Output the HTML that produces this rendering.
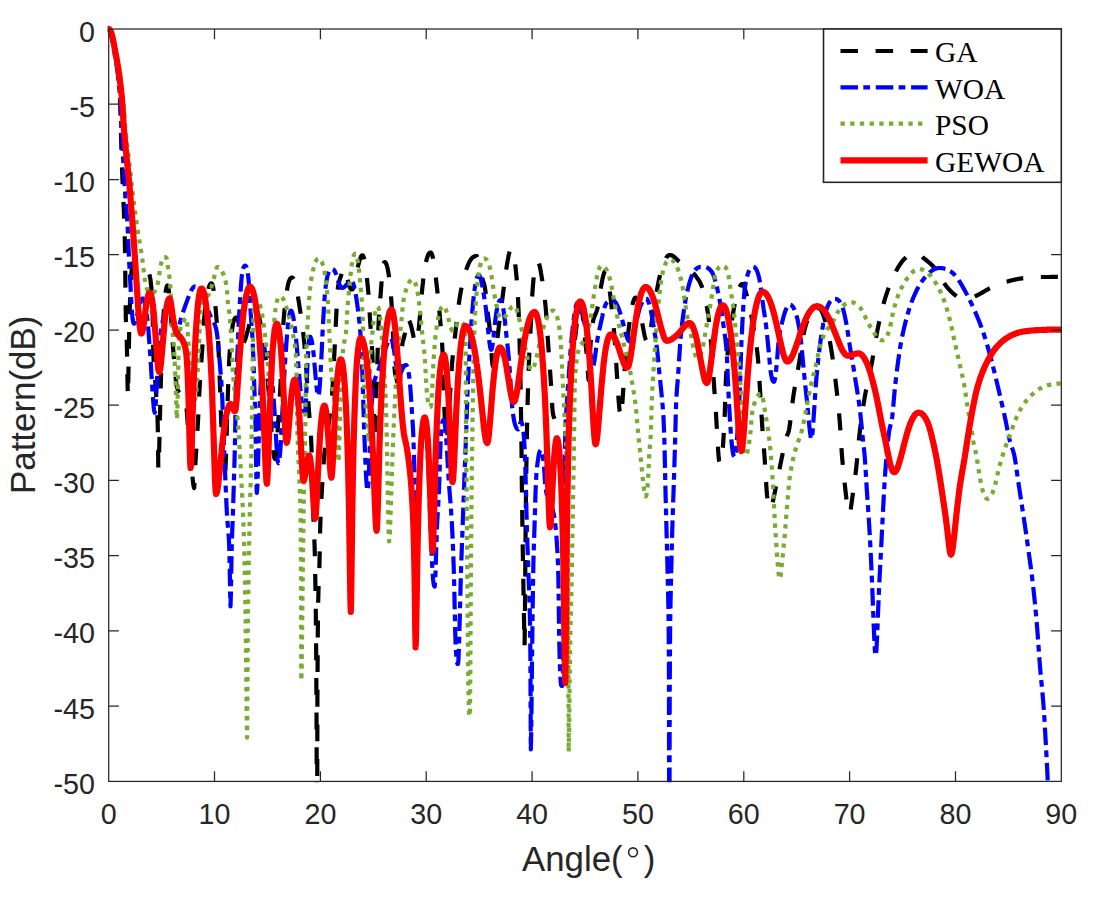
<!DOCTYPE html>
<html><head><meta charset="utf-8"><title>Pattern</title>
<style>html,body{margin:0;padding:0;background:#fff;}body{width:1096px;height:898px;overflow:hidden;font-family:"Liberation Sans",sans-serif;}</style>
</head><body>
<svg width="1096" height="898" viewBox="0 0 1096 898" style="display:block">
<rect x="0" y="0" width="1096" height="898" fill="#ffffff"/>
<defs><clipPath id="cp"><rect x="107.5" y="21.0" width="954.5" height="761.3"/></clipPath></defs>
<g fill="none" stroke-linejoin="round" clip-path="url(#cp)">
<path d="M108.7,29.0 L109.1,29.2 L109.5,29.6 L109.9,30.3 L110.3,31.3 L110.7,32.4 L111.1,33.8 L111.5,35.3 L111.9,37.1 L112.3,38.9 L112.7,40.9 L113.1,43.0 L113.5,45.1 L113.9,47.4 L114.3,49.6 L114.7,51.9 L115.1,54.1 L115.5,56.2 L115.9,58.3 L116.3,60.5 L116.7,62.8 L117.1,65.3 L117.5,68.1 L117.9,71.0 L118.2,74.1 L118.6,77.5 L119.0,81.4 L119.4,86.2 L119.8,92.0 L120.2,99.8 L120.6,113.8 L121.0,132.9" stroke="#000000" stroke-width="4.2" stroke-dasharray="16.90 17.80" stroke-dashoffset="33.41"/>
<path d="M121.0,132.9 L121.4,149.9 L121.8,162.7 L122.2,173.3 L122.6,182.7 L123.0,192.1 L123.4,200.9 L123.8,209.2 L124.2,218.5 L124.6,231.3 L125.0,250.8 L125.4,284.3 L125.8,316.5 L126.2,329.0 L126.6,337.4 L127.0,350.2 L127.4,376.3 L127.8,396.0 L128.2,385.0 L128.6,362.9 L129.0,341.2 L129.4,323.7 L129.7,310.5 L130.1,299.6 L130.5,289.2 L130.9,279.8" stroke="#000000" stroke-width="4.2" stroke-dasharray="16.80 17.70"/>
<path d="M130.9,279.8 L131.3,273.9 L131.7,270.2 L132.1,267.4 L132.5,265.4 L132.8,263.9 L133.2,262.9 L133.6,262.0 L134.0,261.3 L134.4,260.7 L134.8,260.3 L135.2,259.9 L135.6,259.7 L135.9,259.6 L136.3,259.5 L136.7,259.5 L137.1,259.5 L137.5,259.5 L137.9,259.5 L138.3,259.6 L138.7,259.8 L139.1,260.0 L139.5,260.2 L139.9,260.5 L140.2,260.8 L140.6,261.2 L141.0,261.6 L141.4,262.0 L141.8,262.5 L142.2,263.0 L142.6,263.5 L143.0,264.0 L143.4,264.5 L143.8,265.1 L144.2,265.6 L144.6,266.2 L145.0,266.7 L145.3,267.3 L145.7,267.9 L146.1,268.5 L146.5,269.2 L146.9,269.9 L147.3,270.5 L147.7,271.2 L148.1,271.8 L148.5,272.5 L148.9,273.4 L149.3,274.4" stroke="#000000" stroke-width="4.2" stroke-dasharray="20.76 21.86"/>
<path d="M149.3,274.4 L149.7,275.8 L150.1,277.6 L150.5,279.9 L150.8,282.7 L151.2,286.2 L151.6,290.7 L152.0,296.9 L152.4,305.3 L152.8,323.0 L153.2,347.5 L153.6,359.8 L154.0,366.8 L154.4,372.2 L154.8,376.6 L155.2,380.7 L155.6,385.4 L155.9,391.2 L156.3,396.2 L156.7,400.9 L157.1,406.9 L157.5,416.1 L157.9,433.0 L158.3,469.0 L158.7,464.4 L159.1,452.4" stroke="#000000" stroke-width="4.2" stroke-dasharray="17.17 18.09"/>
<path d="M159.1,452.4 L159.5,436.5 L159.9,419.5 L160.3,403.0 L160.7,387.7 L161.1,373.7 L161.5,361.2 L161.9,350.0 L162.3,340.0 L162.7,331.0 L163.1,323.1 L163.5,316.1 L163.9,310.0 L164.3,304.6 L164.7,300.0 L165.1,296.1 L165.5,292.8" stroke="#000000" stroke-width="4.2" stroke-dasharray="15.57 16.40"/>
<path d="M165.5,292.8 L165.9,290.1 L166.3,288.1 L166.7,286.6 L167.1,285.8 L167.5,285.5 L167.9,286.0 L168.3,287.5 L168.7,289.9 L169.1,293.0 L169.5,296.9 L169.9,301.4 L170.3,306.5 L170.7,312.0 L171.1,317.9 L171.5,324.0 L171.9,330.2 L172.3,336.4 L172.7,342.4" stroke="#000000" stroke-width="4.2" stroke-dasharray="15.82 16.66"/>
<path d="M172.7,342.4 L173.1,348.0 L173.5,353.1 L173.9,357.9 L174.3,362.7 L174.7,367.4 L175.1,371.9 L175.5,376.1 L175.9,380.0 L176.3,383.2 L176.7,385.8 L177.1,387.7 L177.5,388.9 L177.9,390.0 L178.3,391.0 L178.7,391.9 L179.1,392.6 L179.5,393.2 L179.9,393.8 L180.3,394.3 L180.7,394.7 L181.0,395.1 L181.4,395.5 L181.8,395.8 L182.2,396.2 L182.6,396.7 L183.0,397.1 L183.4,397.7 L183.8,398.3 L184.2,399.0 L184.6,399.9 L185.0,400.9 L185.4,402.0 L185.8,403.4 L186.2,405.2 L186.6,408.8 L187.0,413.7 L187.4,419.4 L187.8,425.4 L188.2,431.0 L188.6,436.0 L189.0,440.9 L189.4,445.7 L189.8,450.4 L190.2,455.0 L190.6,459.4 L191.0,463.3 L191.4,467.0 L191.8,470.7 L192.2,474.3 L192.6,478.1 L193.0,481.7 L193.4,484.9 L193.8,487.2 L194.2,488.0 L194.6,480.2 L195.0,471.2 L195.4,463.5 L195.8,456.7 L196.2,450.5 L196.6,444.6 L197.0,438.8 L197.3,432.7 L197.7,426.2 L198.1,419.3 L198.5,411.2 L198.9,402.3 L199.3,393.5 L199.7,385.9 L200.1,379.3 L200.5,373.4 L200.9,367.9 L201.3,362.4" stroke="#000000" stroke-width="4.2" stroke-dasharray="16.72 17.61"/>
<path d="M201.3,362.4 L201.7,356.8 L202.1,351.0 L202.5,344.8 L202.8,338.4 L203.2,332.1 L203.6,326.2 L204.0,320.9 L204.4,316.4 L204.8,312.3 L205.2,308.6 L205.6,305.1 L206.0,302.0 L206.4,299.2 L206.8,296.7 L207.2,294.4 L207.6,292.3 L208.0,290.5 L208.4,288.9" stroke="#000000" stroke-width="4.2" stroke-dasharray="17.99 18.95"/>
<path d="M208.4,288.9 L208.7,287.6 L209.1,286.4 L209.5,285.5 L209.9,284.7 L210.3,284.1 L210.7,283.7 L211.1,283.5 L211.5,283.4 L211.9,283.7 L212.3,284.4 L212.7,285.7 L213.1,287.4 L213.5,289.5 L213.8,292.1 L214.2,295.0 L214.6,298.3 L215.0,302.0 L215.4,306.1" stroke="#000000" stroke-width="4.2" stroke-dasharray="14.55 15.33"/>
<path d="M215.4,306.1 L215.8,310.4 L216.2,315.2 L216.6,320.1 L217.0,325.2 L217.4,330.3 L217.8,335.9 L218.2,341.9 L218.5,348.9 L218.9,357.1 L219.3,367.0 L219.7,378.3 L220.1,390.4 L220.5,402.6 L220.9,414.0 L221.3,424.2 L221.7,434.1 L222.1,443.7 L222.5,452.4 L222.8,460.0 L223.2,466.1 L223.6,470.5 L224.0,473.3 L224.4,474.6 L224.8,475.0 L225.2,472.7 L225.6,466.0 L226.0,455.9 L226.4,443.7 L226.8,430.7 L227.1,417.6 L227.5,405.1 L227.9,393.3 L228.3,382.0 L228.7,371.1 L229.1,361.9 L229.5,355.1 L229.9,349.7 L230.3,345.2 L230.7,341.3 L231.0,337.8 L231.4,334.6 L231.8,331.6" stroke="#000000" stroke-width="4.2" stroke-dasharray="16.94 17.84"/>
<path d="M231.8,331.6 L232.2,328.7 L232.6,326.0 L233.0,323.7 L233.4,321.9 L233.8,320.7 L234.2,319.7 L234.6,318.9 L234.9,318.3 L235.3,317.9 L235.7,317.7 L236.1,317.5 L236.5,317.5 L236.9,317.7 L237.3,318.2 L237.6,319.1 L238.0,320.3 L238.4,321.8 L238.8,323.6 L239.2,325.7 L239.6,327.9 L239.9,330.2 L240.3,332.6 L240.7,334.9 L241.1,337.1 L241.5,339.1 L241.9,340.7 L242.2,342.0 L242.6,342.7 L243.0,343.0 L243.4,342.9 L243.8,342.5 L244.2,341.9 L244.6,341.0" stroke="#000000" stroke-width="4.2" stroke-dasharray="21.12 22.25"/>
<path d="M244.6,341.0 L245.0,340.1 L245.4,338.9 L245.8,337.6 L246.1,336.3 L246.5,334.9 L246.9,333.5 L247.3,332.1 L247.7,330.8 L248.1,329.4 L248.5,327.9 L248.9,326.3 L249.3,324.6 L249.7,322.8 L250.1,320.9 L250.5,319.0 L250.9,317.2 L251.2,315.4 L251.6,313.7 L252.0,312.1 L252.4,310.7 L252.8,309.6 L253.2,308.7 L253.6,308.2 L254.0,308.0 L254.4,308.1 L254.8,308.2 L255.2,308.5 L255.6,308.9 L256.0,309.4 L256.4,310.0 L256.8,310.8 L257.2,311.6 L257.6,312.6 L258.0,313.6 L258.4,314.8 L258.8,316.1 L259.2,317.5 L259.5,319.1 L259.9,320.7 L260.3,322.5 L260.7,324.4 L261.1,326.4 L261.5,328.6 L261.9,330.9 L262.3,333.3 L262.7,335.8 L263.1,338.5 L263.5,341.3 L263.9,344.3 L264.3,347.4 L264.7,350.7 L265.1,354.1 L265.5,357.7 L265.9,361.4 L266.3,365.4 L266.7,369.4 L267.1,373.7 L267.5,378.1 L267.9,382.6 L268.3,387.3 L268.7,392.2 L269.1,397.2 L269.5,402.4 L269.8,407.6 L270.2,413.0 L270.6,418.3 L271.0,423.7 L271.4,429.0 L271.8,434.2 L272.2,439.2 L272.6,443.9 L273.0,448.1 L273.4,451.8 L273.8,454.9 L274.2,457.1 L274.6,458.5 L275.0,459.0 L275.4,458.1 L275.8,455.6 L276.2,451.6 L276.6,446.6 L277.0,440.9 L277.4,434.6 L277.8,428.2 L278.2,421.6 L278.6,415.4 L279.0,409.7 L279.3,404.1 L279.7,398.3 L280.1,391.9 L280.5,384.4 L280.9,375.8 L281.3,366.6 L281.7,357.2 L282.1,348.1 L282.5,339.5 L282.9,331.8 L283.3,325.0" stroke="#000000" stroke-width="4.2" stroke-dasharray="17.47 18.40"/>
<path d="M283.3,325.0 L283.7,319.2 L284.1,314.3 L284.5,309.9 L284.9,305.9 L285.3,302.2 L285.7,298.9 L286.1,295.8 L286.5,293.1 L286.9,290.6" stroke="#000000" stroke-width="4.2" stroke-dasharray="16.84 17.74"/>
<path d="M286.9,290.6 L287.3,288.4 L287.7,286.4 L288.0,284.7 L288.4,283.2 L288.8,281.9 L289.2,280.8 L289.6,279.8 L290.0,279.1 L290.4,278.5 L290.8,278.0 L291.2,277.7 L291.6,277.6 L292.0,277.5 L292.4,277.6 L292.8,277.9 L293.2,278.4 L293.6,279.1 L294.0,279.9 L294.4,280.9 L294.8,282.1 L295.2,283.4 L295.6,284.9 L296.0,286.5 L296.4,288.3 L296.8,290.1 L297.2,292.1 L297.6,294.2 L298.0,296.4" stroke="#000000" stroke-width="4.2" stroke-dasharray="17.01 17.92"/>
<path d="M298.0,296.4 L298.3,298.8 L298.7,301.2 L299.1,303.7 L299.5,306.3 L299.9,308.9 L300.3,311.5 L300.7,314.2 L301.1,317.0 L301.5,319.8 L301.9,322.6 L302.3,325.6 L302.7,328.8 L303.1,332.1" stroke="#000000" stroke-width="4.2" stroke-dasharray="17.54 18.48"/>
<path d="M303.1,332.1 L303.5,335.6 L303.9,339.4 L304.3,343.4 L304.7,347.9 L305.1,352.8 L305.5,358.1 L305.9,363.6 L306.3,369.5 L306.7,375.7 L307.1,382.0 L307.5,388.4 L307.9,394.8 L308.3,401.1 L308.7,407.1 L309.1,412.5 L309.5,417.3 L309.9,421.8 L310.3,426.3 L310.7,431.3 L311.0,437.3 L311.4,445.3 L311.8,456.6 L312.2,470.7 L312.6,486.8 L313.0,503.4 L313.4,517.9 L313.8,528.1 L314.2,536.2 L314.6,546.0 L315.0,562.2 L315.4,585.0 L315.8,611.9 L316.2,654.7 L316.6,732.7 L317.0,900.0 L317.4,701.1 L317.8,632.0 L318.2,601.1 L318.6,585.9 L319.0,576.7 L319.4,566.5 L319.8,548.1 L320.2,527.7 L320.6,516.0 L321.0,506.9 L321.4,499.3 L321.8,492.0 L322.2,484.9 L322.6,478.3 L323.0,472.1 L323.4,466.4 L323.8,461.1 L324.2,456.3 L324.6,452.0 L325.0,448.1 L325.4,444.7 L325.8,441.6 L326.2,438.7 L326.6,436.1 L327.0,433.5 L327.4,431.1 L327.8,428.7 L328.2,426.3 L328.6,423.8 L329.0,421.3 L329.4,418.6 L329.8,415.8 L330.2,412.8 L330.6,409.6 L330.9,406.2 L331.3,402.5 L331.7,398.6 L332.1,394.4 L332.5,388.8 L332.9,382.1 L333.3,374.6 L333.7,366.7 L334.1,358.7 L334.5,350.8 L334.9,343.3 L335.3,335.3 L335.7,326.8" stroke="#000000" stroke-width="4.2" stroke-dasharray="16.86 17.76"/>
<path d="M335.7,326.8 L336.1,318.4 L336.5,310.4 L336.9,301.8 L337.3,294.1 L337.7,289.6" stroke="#000000" stroke-width="4.2" stroke-dasharray="18.14 19.11"/>
<path d="M337.7,289.6 L338.1,286.6 L338.5,284.3 L338.9,282.4 L339.3,280.9 L339.7,279.5 L340.1,278.3 L340.5,277.2 L340.9,276.1 L341.3,274.9 L341.7,273.8 L342.1,272.6 L342.5,271.6 L342.9,270.7 L343.3,270.0 L343.7,269.5 L344.1,269.1 L344.5,269.0 L344.9,269.3 L345.3,270.0 L345.7,271.2 L346.1,272.6 L346.5,274.3 L346.9,276.1 L347.3,278.0 L347.7,279.7" stroke="#000000" stroke-width="4.2" stroke-dasharray="16.26 17.12"/>
<path d="M347.7,279.7 L348.1,281.4 L348.4,283.0 L348.8,284.4 L349.2,285.7 L349.6,286.9 L350.0,287.8 L350.4,288.5 L350.8,289.0 L351.2,289.3 L351.6,289.5 L352.0,289.5 L352.4,289.4 L352.8,288.9 L353.2,288.2 L353.6,287.2 L353.9,285.9 L354.3,284.5 L354.7,282.9 L355.1,281.1 L355.5,279.2 L355.9,277.3 L356.3,275.3 L356.7,273.3 L357.1,271.3 L357.4,269.3 L357.8,267.4" stroke="#000000" stroke-width="4.2" stroke-dasharray="16.72 17.61"/>
<path d="M357.8,267.4 L358.2,265.6 L358.6,264.0 L359.0,262.4 L359.4,261.0 L359.8,259.7 L360.2,258.5 L360.6,257.6 L360.9,256.8 L361.3,256.1 L361.7,255.7 L362.1,255.4 L362.5,255.3 L362.9,255.5 L363.3,256.2 L363.7,257.2 L364.1,258.7 L364.5,260.5 L364.9,262.6 L365.3,265.1 L365.7,267.8 L366.1,270.9 L366.5,274.3 L366.9,278.0" stroke="#000000" stroke-width="4.2" stroke-dasharray="17.88 18.83"/>
<path d="M366.9,278.0 L367.3,281.8 L367.7,285.8 L368.1,290.0 L368.5,294.6 L368.8,299.9 L369.2,305.9 L369.6,312.4" stroke="#000000" stroke-width="4.2" stroke-dasharray="16.83 17.72"/>
<path d="M369.6,312.4 L370.0,318.9 L370.4,324.9 L370.8,330.3 L371.2,335.4 L371.6,340.8 L372.0,347.1 L372.4,355.1 L372.8,365.7 L373.2,379.5 L373.6,396.4 L374.0,415.3 L374.4,432.4 L374.8,440.0 L375.2,433.7 L375.6,419.6 L376.0,404.2 L376.4,390.9 L376.8,380.2 L377.2,369.6 L377.5,356.9 L377.9,342.8 L378.3,330.3" stroke="#000000" stroke-width="4.2" stroke-dasharray="16.52 17.40"/>
<path d="M378.3,330.3 L378.7,321.3 L379.1,314.4 L379.5,308.6 L379.9,303.4 L380.3,298.4" stroke="#000000" stroke-width="4.2" stroke-dasharray="15.60 16.43"/>
<path d="M380.3,298.4 L380.7,293.3 L381.1,288.1 L381.5,283.2 L381.9,278.7 L382.2,274.7 L382.6,271.1 L383.0,268.0 L383.4,265.5 L383.8,263.6" stroke="#000000" stroke-width="4.2" stroke-dasharray="17.04 17.94"/>
<path d="M383.8,263.6 L384.2,262.4 L384.6,262.0 L385.0,262.1 L385.4,262.4 L385.8,262.9 L386.2,263.7 L386.6,264.7 L387.0,266.0 L387.4,267.5 L387.8,269.3 L388.2,271.5 L388.6,273.9 L389.0,276.7 L389.4,279.8 L389.8,283.3 L390.2,287.3 L390.6,291.6 L391.0,296.3" stroke="#000000" stroke-width="4.2" stroke-dasharray="18.15 19.12"/>
<path d="M391.0,296.3 L391.4,301.5 L391.8,307.3 L392.1,314.6 L392.5,323.0 L392.9,332.5 L393.3,342.3 L393.7,351.9 L394.1,360.4 L394.5,367.2 L394.9,371.8 L395.3,374.3 L395.7,376.1 L396.1,377.5 L396.5,378.9 L396.9,380.6 L397.3,382.7 L397.7,385.0 L398.1,387.2 L398.5,389.2 L398.9,390.5 L399.3,391.0 L399.7,387.9 L400.1,380.6 L400.5,372.3 L400.9,364.3 L401.3,356.7 L401.7,350.5 L402.1,346.1" stroke="#000000" stroke-width="4.2" stroke-dasharray="17.10 18.01"/>
<path d="M402.1,346.1 L402.5,343.3 L402.9,341.4 L403.3,340.0 L403.6,338.7 L404.0,337.4 L404.4,335.8 L404.8,333.8 L405.2,331.5 L405.6,329.2 L406.0,326.9 L406.4,324.7 L406.8,322.8 L407.2,321.3 L407.6,320.3 L408.0,320.0 L408.4,320.1 L408.8,320.4 L409.2,320.8" stroke="#000000" stroke-width="4.2" stroke-dasharray="13.80 14.54"/>
<path d="M409.2,320.8 L409.6,321.5 L409.9,322.3 L410.3,323.3 L410.7,324.6 L411.1,325.9 L411.5,327.5 L411.9,329.2 L412.3,330.9 L412.7,332.8 L413.1,334.6 L413.5,336.5 L413.9,338.2 L414.2,339.8 L414.6,341.1 L415.0,342.1 L415.4,342.8 L415.8,343.0 L416.2,342.8 L416.6,342.1 L417.0,340.9 L417.4,339.1 L417.8,336.8 L418.2,334.0 L418.5,330.8" stroke="#000000" stroke-width="4.2" stroke-dasharray="17.57 18.51"/>
<path d="M418.5,330.8 L418.9,327.2 L419.3,323.2 L419.7,318.9 L420.1,314.2 L420.5,309.2 L420.9,304.1 L421.3,299.2 L421.7,294.5" stroke="#000000" stroke-width="4.2" stroke-dasharray="17.74 18.68"/>
<path d="M421.7,294.5 L422.1,290.3 L422.5,286.4 L422.9,282.9 L423.2,279.5 L423.6,276.4 L424.0,273.5 L424.4,270.8 L424.8,268.3 L425.2,266.0 L425.6,263.9 L426.0,262.0" stroke="#000000" stroke-width="4.2" stroke-dasharray="15.98 16.83"/>
<path d="M426.0,262.0 L426.4,260.3 L426.8,258.8 L427.2,257.5 L427.6,256.4 L428.0,255.4 L428.3,254.6 L428.7,253.9 L429.1,253.4 L429.5,253.0 L429.9,252.7 L430.3,252.6 L430.7,252.5 L431.1,252.7 L431.5,253.2 L431.9,254.1 L432.3,255.4 L432.7,256.9 L433.1,258.7 L433.4,260.7 L433.8,263.0 L434.2,265.5 L434.6,268.2 L435.0,271.2 L435.4,274.3 L435.8,277.5" stroke="#000000" stroke-width="4.2" stroke-dasharray="17.99 18.95"/>
<path d="M435.8,277.5 L436.2,280.9 L436.6,284.4 L437.0,288.0 L437.4,291.6 L437.8,295.2 L438.2,298.9 L438.6,302.7 L438.9,306.5 L439.3,310.6" stroke="#000000" stroke-width="4.2" stroke-dasharray="16.19 17.05"/>
<path d="M439.3,310.6 L439.7,314.8 L440.1,319.3 L440.5,323.9 L440.9,328.3 L441.3,332.8 L441.7,337.7 L442.1,343.5 L442.5,350.6 L442.9,361.0 L443.3,374.7 L443.7,387.8 L444.1,398.5 L444.4,408.6 L444.8,417.8 L445.2,425.4 L445.6,431.1 L446.0,434.7 L446.4,436.5 L446.8,437.0 L447.2,435.9 L447.6,432.8 L448.0,428.2 L448.4,422.4 L448.8,415.9 L449.2,409.1 L449.6,402.3 L450.0,395.5 L450.4,388.9 L450.8,382.6 L451.2,376.7 L451.6,371.1" stroke="#000000" stroke-width="4.2" stroke-dasharray="15.66 16.50"/>
<path d="M451.6,371.1 L451.9,365.9 L452.3,361.0 L452.7,356.7 L453.1,352.7 L453.5,349.0 L453.9,345.4 L454.3,342.0 L454.7,338.6" stroke="#000000" stroke-width="4.2" stroke-dasharray="15.89 16.74"/>
<path d="M454.7,338.6 L455.1,335.2 L455.5,331.8 L455.9,328.2 L456.3,324.7 L456.7,321.2 L457.1,317.7 L457.5,314.3 L457.9,311.0 L458.3,307.8 L458.7,304.8" stroke="#000000" stroke-width="4.2" stroke-dasharray="16.61 17.49"/>
<path d="M458.7,304.8 L459.1,301.9 L459.5,299.1 L459.9,296.6 L460.3,294.2 L460.7,292.0 L461.1,289.9 L461.5,287.9 L461.8,286.0 L462.2,284.2 L462.6,282.5 L463.0,280.9 L463.4,279.3 L463.8,277.8 L464.2,276.4 L464.6,275.0 L465.0,273.6 L465.4,272.3 L465.8,271.1 L466.2,269.9" stroke="#000000" stroke-width="4.2" stroke-dasharray="17.40 18.33"/>
<path d="M466.2,269.9 L466.6,268.7 L467.0,267.6 L467.4,266.5 L467.8,265.5 L468.2,264.5 L468.6,263.6 L469.0,262.7 L469.4,261.9 L469.8,261.2 L470.2,260.5 L470.6,259.9 L471.0,259.4 L471.4,258.9 L471.7,258.4 L472.1,258.0 L472.5,257.6 L472.9,257.3 L473.3,257.0 L473.7,256.8 L474.1,256.6 L474.5,256.4 L474.9,256.2 L475.3,256.1 L475.7,256.1 L476.1,256.0 L476.5,256.0 L476.9,256.2 L477.3,256.8 L477.7,257.7 L478.1,258.9 L478.5,260.4 L478.9,262.1 L479.3,264.0 L479.7,265.9 L480.1,268.0 L480.5,270.0 L480.9,272.1 L481.3,274.1 L481.7,276.0 L482.1,277.7" stroke="#000000" stroke-width="4.2" stroke-dasharray="19.95 21.01"/>
<path d="M482.1,277.7 L482.5,279.2 L482.9,280.5 L483.3,281.7 L483.7,282.8 L484.1,284.1 L484.5,285.5 L484.8,287.2 L485.2,289.5 L485.6,292.4 L486.0,296.0 L486.4,300.0 L486.8,304.1 L487.2,308.1 L487.6,311.7" stroke="#000000" stroke-width="4.2" stroke-dasharray="16.85 17.75"/>
<path d="M487.6,311.7 L488.0,314.9 L488.4,317.9 L488.8,320.9 L489.2,324.3 L489.6,328.3 L490.0,332.7 L490.4,337.7 L490.8,343.1 L491.2,348.7 L491.6,354.5 L492.0,360.1 L492.4,364.3 L492.8,366.0 L493.2,365.7 L493.6,364.9 L494.0,363.6 L494.4,361.9 L494.8,359.7 L495.2,357.2 L495.6,354.5 L495.9,351.4 L496.3,348.2 L496.7,344.9 L497.1,341.4 L497.5,337.9" stroke="#000000" stroke-width="4.2" stroke-dasharray="20.26 21.34"/>
<path d="M497.5,337.9 L497.9,334.4 L498.3,330.9 L498.7,327.5 L499.1,324.2 L499.5,321.0 L499.9,317.9 L500.3,314.9 L500.7,311.9 L501.1,308.9 L501.5,306.0 L501.9,303.0" stroke="#000000" stroke-width="4.2" stroke-dasharray="17.17 18.08"/>
<path d="M501.9,303.0 L502.2,299.9 L502.6,296.9 L503.0,293.7 L503.4,290.6 L503.8,287.4 L504.2,284.3 L504.6,281.2 L505.0,278.1 L505.4,275.2 L505.8,272.3 L506.2,269.6" stroke="#000000" stroke-width="4.2" stroke-dasharray="16.39 17.27"/>
<path d="M506.2,269.6 L506.6,267.0 L507.0,264.5 L507.4,262.1 L507.8,259.9 L508.2,257.9 L508.5,256.0 L508.9,254.3 L509.3,252.7 L509.7,251.4 L510.1,250.4 L510.5,249.6 L510.9,249.2 L511.3,249.0 L511.7,249.1 L512.1,249.6 L512.5,250.3 L512.9,251.4 L513.3,252.7 L513.6,254.4 L514.0,256.3 L514.4,258.7 L514.8,261.3 L515.2,264.4" stroke="#000000" stroke-width="4.2" stroke-dasharray="18.36 19.34"/>
<path d="M515.2,264.4 L515.6,267.8 L516.0,271.6 L516.4,275.8 L516.8,280.3 L517.2,285.3 L517.6,290.9 L518.0,297.2" stroke="#000000" stroke-width="4.2" stroke-dasharray="16.07 16.93"/>
<path d="M518.0,297.2 L518.3,304.8 L518.7,313.9 L519.1,325.2 L519.5,338.4" stroke="#000000" stroke-width="4.2" stroke-dasharray="20.06 21.13"/>
<path d="M519.5,338.4 L519.9,353.6 L520.3,371.6 L520.7,393.0 L521.1,418.1 L521.5,448.0 L521.9,488.9 L522.3,518.4 L522.6,541.1 L523.0,562.3 L523.4,586.0 L523.8,607.4 L524.2,629.6 L524.6,646.3 L525.0,607.3 L525.4,552.5 L525.8,509.9 L526.2,477.2 L526.6,451.1 L527.0,429.7 L527.4,411.6 L527.8,396.1 L528.2,382.6 L528.6,370.8" stroke="#000000" stroke-width="4.2" stroke-dasharray="16.72 17.61"/>
<path d="M528.6,370.8 L529.0,360.4 L529.4,351.3 L529.8,343.5 L530.2,336.2 L530.6,328.9 L531.0,320.9 L531.4,312.4 L531.8,304.0 L532.2,296.5" stroke="#000000" stroke-width="4.2" stroke-dasharray="18.12 19.09"/>
<path d="M532.2,296.5 L532.6,290.1 L533.0,284.8 L533.4,280.3 L533.8,276.3 L534.2,272.8 L534.6,269.8 L535.0,267.4 L535.4,265.3 L535.8,263.7 L536.2,262.5 L536.6,261.7 L537.0,261.2 L537.4,261.0 L537.8,261.2 L538.2,261.7 L538.6,262.5 L539.0,263.6" stroke="#000000" stroke-width="4.2" stroke-dasharray="19.19 20.21"/>
<path d="M539.0,263.6 L539.4,264.9 L539.8,266.5 L540.2,268.3 L540.6,270.3 L540.9,272.4 L541.3,274.6 L541.7,277.0 L542.1,279.4 L542.5,281.9 L542.9,284.5 L543.3,287.2 L543.7,290.1 L544.1,293.2 L544.5,296.4 L544.9,299.9" stroke="#000000" stroke-width="4.2" stroke-dasharray="17.97 18.92"/>
<path d="M544.9,299.9 L545.3,303.8 L545.7,308.0 L546.1,312.7 L546.5,318.0 L546.9,323.7 L547.2,329.7 L547.6,335.8" stroke="#000000" stroke-width="4.2" stroke-dasharray="17.51 18.45"/>
<path d="M547.6,335.8 L548.0,341.7 L548.4,347.4 L548.8,353.0 L549.2,358.5 L549.6,364.1 L550.0,369.7" stroke="#000000" stroke-width="4.2" stroke-dasharray="16.55 17.43"/>
<path d="M550.0,369.7 L550.4,375.5 L550.8,381.7 L551.2,388.7 L551.6,395.9 L552.0,402.8 L552.4,408.6 L552.8,412.4 L553.2,414.5 L553.5,416.0 L553.9,417.1 L554.3,418.2 L554.7,419.7 L555.1,421.8 L555.5,425.2 L555.9,429.6 L556.3,434.2 L556.7,438.2 L557.1,441.2 L557.5,443.7 L557.9,446.0 L558.3,448.1 L558.7,450.2 L559.1,452.4 L559.5,454.7 L559.8,457.2 L560.2,459.6 L560.6,461.9 L561.0,464.1 L561.4,466.0 L561.8,467.6 L562.2,468.9 L562.6,469.7 L563.0,470.0 L563.4,469.7 L563.8,468.8 L564.2,467.5 L564.6,465.8 L565.0,463.8 L565.4,461.6 L565.8,459.3 L566.2,456.8 L566.6,454.4 L567.0,452.4 L567.4,450.6 L567.8,448.5 L568.2,445.8 L568.6,441.4 L569.0,433.1 L569.4,422.2 L569.8,410.5 L570.2,399.3 L570.6,386.8 L571.0,375.8 L571.4,368.6 L571.8,363.8 L572.2,360.1 L572.6,356.9 L573.0,353.9 L573.4,350.8 L573.8,347.5 L574.2,344.5 L574.6,341.5 L575.0,338.5 L575.4,335.4 L575.8,332.2 L576.2,328.8 L576.6,325.3 L577.0,321.9 L577.4,318.8 L577.8,316.0 L578.2,313.5 L578.6,311.5 L579.0,309.9 L579.4,308.5 L579.8,307.4 L580.2,306.6 L580.6,306.2 L581.0,306.0 L581.4,306.6 L581.8,308.1 L582.2,310.6 L582.5,313.7 L582.9,317.5 L583.3,321.6 L583.7,325.9 L584.1,330.3 L584.5,334.6 L584.9,338.5 L585.2,341.8 L585.6,344.8 L586.0,347.8 L586.4,351.2 L586.8,355.2 L587.2,360.2 L587.5,366.5 L587.9,372.9 L588.3,378.0 L588.7,380.0 L589.1,376.0 L589.5,366.4 L589.9,356.1 L590.3,348.3 L590.7,342.1 L591.1,336.8 L591.5,332.3 L591.9,328.5 L592.3,325.4 L592.7,323.0" stroke="#000000" stroke-width="4.2" stroke-dasharray="16.20 17.07"/>
<path d="M592.7,323.0 L593.1,321.0 L593.5,319.4 L593.9,318.0 L594.3,316.8 L594.7,315.8 L595.1,314.9 L595.5,313.9 L595.9,313.0 L596.3,312.0 L596.7,310.9 L597.1,309.6 L597.5,308.1 L597.9,306.4 L598.3,304.3 L598.7,301.9 L599.1,299.4 L599.5,296.7 L599.9,294.0 L600.3,291.3 L600.7,288.7" stroke="#000000" stroke-width="4.2" stroke-dasharray="17.23 18.15"/>
<path d="M600.7,288.7 L601.1,286.2 L601.5,284.0 L601.9,281.9 L602.3,279.9 L602.7,278.0 L603.1,276.3 L603.5,274.8 L603.9,273.5 L604.3,272.4 L604.7,271.7 L605.1,271.2 L605.5,271.0 L605.9,271.2 L606.3,271.8 L606.7,272.8 L607.1,274.2 L607.5,275.8 L607.9,277.8 L608.3,280.1 L608.7,282.6 L609.1,285.3 L609.4,288.3 L609.8,291.4" stroke="#000000" stroke-width="4.2" stroke-dasharray="19.36 20.40"/>
<path d="M609.8,291.4 L610.2,294.8 L610.6,298.2 L611.0,301.7 L611.4,305.2 L611.8,308.8 L612.2,312.3 L612.6,316.0 L613.0,319.8 L613.4,323.9 L613.8,328.2" stroke="#000000" stroke-width="4.2" stroke-dasharray="18.03 18.99"/>
<path d="M613.8,328.2 L614.2,333.0 L614.6,338.3 L615.0,344.1 L615.4,350.1 L615.8,356.5 L616.2,362.9" stroke="#000000" stroke-width="4.2" stroke-dasharray="16.93 17.83"/>
<path d="M616.2,362.9 L616.6,369.3 L617.0,375.5 L617.3,381.7 L617.7,387.6 L618.1,393.3 L618.5,398.7 L618.9,403.5 L619.3,407.8 L619.7,411.3 L620.1,413.9 L620.5,415.5 L620.9,416.0 L621.3,414.8 L621.7,411.4 L622.1,406.6 L622.5,401.0 L622.9,395.0 L623.3,389.0 L623.7,383.1 L624.1,377.4 L624.5,372.0 L624.9,366.7 L625.3,361.9 L625.7,357.4 L626.1,353.2 L626.5,349.2 L626.9,345.5 L627.3,341.9 L627.7,338.4" stroke="#000000" stroke-width="4.2" stroke-dasharray="16.00 16.85"/>
<path d="M627.7,338.4 L628.1,334.9 L628.4,331.4 L628.8,328.0 L629.2,324.8 L629.6,321.7 L630.0,318.8 L630.4,316.0 L630.8,313.4 L631.2,311.0 L631.6,308.8 L632.0,306.8 L632.4,304.9" stroke="#000000" stroke-width="4.2" stroke-dasharray="16.47 17.35"/>
<path d="M632.4,304.9 L632.8,303.3 L633.2,301.8 L633.6,300.6 L634.0,299.5 L634.4,298.7 L634.8,298.1 L635.2,297.7 L635.6,297.6 L636.0,297.7 L636.4,298.1 L636.8,298.6 L637.2,299.4 L637.6,300.4 L638.0,301.5 L638.4,302.9 L638.8,304.4 L639.2,306.1 L639.6,307.9 L640.0,309.8 L640.4,311.9 L640.8,314.1 L641.2,316.3 L641.5,318.6 L641.9,320.9 L642.3,323.3" stroke="#000000" stroke-width="4.2" stroke-dasharray="17.13 18.04"/>
<path d="M642.3,323.3 L642.7,325.6 L643.1,327.9 L643.5,330.1 L643.9,332.2 L644.3,334.1 L644.7,335.9 L645.1,337.5 L645.5,338.8 L645.9,340.0 L646.3,340.9 L646.7,341.5 L647.1,341.9 L647.5,342.0 L647.9,341.8 L648.3,341.1 L648.7,339.9 L649.1,338.4 L649.5,336.6 L649.9,334.4 L650.3,332.1 L650.7,329.6 L651.1,326.9" stroke="#000000" stroke-width="4.2" stroke-dasharray="17.28 18.19"/>
<path d="M651.1,326.9 L651.4,324.2 L651.8,321.5 L652.2,318.7 L652.6,316.0 L653.0,313.3 L653.4,310.7 L653.8,308.2 L654.2,305.6 L654.6,303.2 L655.0,300.8 L655.4,298.5 L655.8,296.2 L656.2,294.0 L656.6,291.9" stroke="#000000" stroke-width="4.2" stroke-dasharray="17.29 18.21"/>
<path d="M656.6,291.9 L657.0,289.8 L657.4,287.7 L657.8,285.7 L658.2,283.7 L658.6,281.8 L658.9,279.9 L659.3,278.1 L659.7,276.4 L660.1,274.8 L660.5,273.2 L660.9,271.7 L661.3,270.2 L661.7,268.8 L662.1,267.5 L662.5,266.3 L662.9,265.1 L663.3,264.0 L663.7,262.9 L664.1,262.0 L664.5,261.0 L664.9,260.2 L665.3,259.4 L665.7,258.7 L666.1,258.1" stroke="#000000" stroke-width="4.2" stroke-dasharray="17.18 18.09"/>
<path d="M666.1,258.1 L666.4,257.5 L666.8,256.9 L667.2,256.5 L667.6,256.1 L668.0,255.8 L668.4,255.5 L668.8,255.3 L669.2,255.1 L669.6,255.0 L670.0,255.0 L670.4,255.0 L670.8,255.1 L671.2,255.2 L671.6,255.3 L672.0,255.5 L672.4,255.7 L672.8,255.9 L673.2,256.2 L673.6,256.4 L674.0,256.8 L674.4,257.1 L674.8,257.4 L675.2,257.8 L675.6,258.2 L676.0,258.6 L676.4,259.0 L676.8,259.4 L677.2,259.8 L677.6,260.1 L678.0,260.5 L678.4,260.9 L678.8,261.2 L679.2,261.6 L679.6,261.9 L680.0,262.2 L680.4,262.6 L680.8,262.9 L681.2,263.2 L681.6,263.6 L682.0,263.9 L682.4,264.2 L682.8,264.5 L683.2,264.8 L683.6,265.1 L684.0,265.5 L684.4,265.8 L684.8,266.1 L685.2,266.4 L685.6,266.7 L686.0,267.0 L686.4,267.3 L686.8,267.6 L687.2,267.9 L687.6,268.2 L688.0,268.5 L688.4,268.8 L688.8,269.1 L689.2,269.4 L689.6,269.7 L690.0,270.0 L690.4,270.4 L690.8,270.7 L691.2,271.1 L691.6,271.4 L692.0,271.8 L692.4,272.2 L692.8,272.6 L693.2,273.0" stroke="#000000" stroke-width="4.2" stroke-dasharray="16.94 17.84"/>
<path d="M693.2,273.0 L693.6,273.4 L694.0,273.9 L694.4,274.3 L694.8,274.8 L695.1,275.3 L695.5,275.8 L695.9,276.3 L696.3,276.8 L696.7,277.3 L697.1,277.9 L697.5,278.4 L697.9,279.0 L698.3,279.6 L698.7,280.2 L699.1,280.8 L699.5,281.5 L699.9,282.2 L700.3,283.0 L700.7,283.9 L701.1,284.8 L701.5,285.7 L701.9,286.8 L702.3,287.9 L702.7,289.1 L703.1,290.4 L703.5,291.7 L703.9,293.2 L704.3,294.7 L704.7,296.3 L705.1,298.0 L705.5,299.9 L705.9,301.8 L706.3,303.8 L706.7,306.0" stroke="#000000" stroke-width="4.2" stroke-dasharray="17.65 18.59"/>
<path d="M706.7,306.0 L707.1,308.2 L707.5,310.6 L707.9,313.1 L708.3,315.8 L708.7,318.9 L709.1,322.4 L709.5,326.2 L709.9,330.2 L710.3,334.6 L710.7,339.2" stroke="#000000" stroke-width="4.2" stroke-dasharray="16.31 17.18"/>
<path d="M710.7,339.2 L711.1,343.9 L711.5,348.8 L711.9,353.9 L712.3,359.4 L712.7,365.2 L713.1,371.1 L713.5,377.2" stroke="#000000" stroke-width="4.2" stroke-dasharray="18.55 19.54"/>
<path d="M713.5,377.2 L713.9,383.2 L714.3,389.0 L714.7,394.6 L715.1,400.3 L715.5,406.1 L715.9,412.2 L716.3,418.8 L716.7,425.8 L717.1,432.9 L717.5,439.9 L717.9,446.7" stroke="#000000" stroke-width="4.2" stroke-dasharray="16.95 17.86"/>
<path d="M717.9,446.7 L718.3,452.7 L718.7,457.6 L719.1,460.8 L719.5,462.0 L719.9,462.0 L720.3,461.9 L720.7,461.7 L721.1,461.0 L721.5,459.6 L721.9,457.4 L722.3,454.2 L722.7,449.8 L723.1,444.4 L723.5,438.0 L723.9,430.9 L724.3,423.3 L724.7,415.2 L725.1,402.7 L725.5,389.4 L725.9,380.0 L726.3,372.5 L726.7,366.1 L727.1,360.4 L727.5,355.4" stroke="#000000" stroke-width="4.2" stroke-dasharray="15.03 15.83"/>
<path d="M727.5,355.4 L727.9,350.8 L728.3,346.5 L728.7,342.7 L729.1,339.2 L729.5,336.0 L729.9,333.1 L730.3,330.3 L730.7,327.7 L731.1,325.2 L731.5,322.7 L731.9,320.3" stroke="#000000" stroke-width="4.2" stroke-dasharray="17.22 18.13"/>
<path d="M731.9,320.3 L732.3,317.9 L732.7,315.5 L733.1,313.1 L733.5,310.8 L733.9,308.5 L734.3,306.4 L734.7,304.3 L735.1,302.3 L735.5,300.5 L735.9,298.7 L736.3,297.0 L736.7,295.4 L737.1,293.9 L737.5,292.5 L737.9,291.2 L738.3,290.0 L738.7,288.9 L739.1,287.9 L739.5,287.0" stroke="#000000" stroke-width="4.2" stroke-dasharray="16.67 17.56"/>
<path d="M739.5,287.0 L739.9,286.2 L740.3,285.6 L740.7,285.0 L741.1,284.6 L741.5,284.3 L741.9,284.1 L742.3,284.0 L742.7,284.1 L743.1,284.5 L743.5,285.1 L743.9,286.0 L744.3,287.0 L744.7,288.2 L745.1,289.5 L745.5,290.9 L745.9,292.3 L746.3,293.8 L746.7,295.3 L747.1,296.8 L747.5,298.4 L747.9,300.1 L748.3,301.8 L748.7,303.5 L749.1,305.3 L749.5,307.1 L749.9,308.9 L750.3,310.8 L750.7,312.7 L751.1,314.7" stroke="#000000" stroke-width="4.2" stroke-dasharray="17.80 18.74"/>
<path d="M751.1,314.7 L751.5,316.7 L751.9,318.8 L752.3,321.0 L752.7,323.2 L753.1,325.6 L753.5,327.9 L753.9,330.2 L754.3,332.5 L754.7,334.7 L755.1,337.0 L755.5,339.4 L755.9,341.8 L756.3,344.5 L756.7,347.3" stroke="#000000" stroke-width="4.2" stroke-dasharray="16.14 17.00"/>
<path d="M756.7,347.3 L757.1,350.5 L757.5,354.0 L757.9,357.9 L758.3,362.8 L758.7,368.4 L759.1,374.8 L759.5,381.4 L759.9,388.1 L760.3,394.5 L760.7,400.9 L761.1,407.5 L761.5,414.1 L761.9,420.7 L762.3,427.0 L762.7,432.9 L763.1,438.4 L763.5,443.5 L763.9,448.5 L764.3,453.7 L764.7,459.1 L765.1,465.1 L765.5,471.8 L765.9,478.7 L766.3,485.3 L766.7,491.1 L767.1,495.8 L767.5,499.3 L767.9,502.2 L768.3,504.4 L768.7,506.1 L769.1,507.2 L769.5,507.9 L769.9,508.2 L770.3,508.3 L770.7,508.1 L771.1,507.5 L771.5,506.6 L771.9,505.3 L772.3,503.8 L772.7,502.2 L773.1,500.4 L773.5,498.6 L773.9,496.8 L774.3,494.8 L774.7,492.9 L775.1,490.9 L775.5,488.8 L775.9,486.8 L776.3,484.8 L776.7,482.8 L777.1,480.8 L777.5,478.8 L777.9,476.8 L778.3,474.8 L778.7,472.8 L779.1,470.9 L779.5,468.9 L779.9,467.0 L780.3,465.0 L780.7,463.0 L781.1,461.1 L781.5,459.1 L781.9,457.2 L782.3,455.3 L782.7,453.4 L783.1,451.6 L783.5,449.7 L783.9,448.0 L784.3,446.2 L784.7,444.5 L785.1,442.9 L785.5,441.3 L785.9,439.8 L786.3,438.4 L786.7,437.0 L787.1,435.7 L787.5,434.5 L787.9,433.6 L788.3,432.6 L788.7,431.3 L789.1,429.5 L789.5,427.1 L789.9,424.4 L790.3,421.3 L790.7,418.0 L791.1,414.6 L791.5,411.1 L791.9,407.7 L792.3,404.3 L792.7,401.1 L793.1,398.1 L793.5,395.3 L793.9,392.7 L794.3,390.3 L794.7,387.8 L795.1,385.5 L795.5,383.2 L795.9,381.0 L796.3,378.7 L796.7,376.5 L797.1,374.3 L797.5,372.1 L797.9,369.8" stroke="#000000" stroke-width="4.2" stroke-dasharray="16.44 17.32"/>
<path d="M797.9,369.8 L798.3,367.5 L798.7,365.2 L799.1,362.9 L799.5,360.5 L799.9,357.9 L800.3,355.3 L800.7,352.6 L801.1,349.9 L801.5,347.2 L801.9,344.5 L802.3,342.0 L802.7,339.5 L803.1,337.1 L803.5,334.9" stroke="#000000" stroke-width="4.2" stroke-dasharray="17.21 18.12"/>
<path d="M803.5,334.9 L803.9,332.9 L804.3,331.0 L804.7,329.2 L805.1,327.7 L805.5,326.2 L805.9,324.9 L806.3,323.6 L806.7,322.4 L807.1,321.2 L807.5,320.1 L807.9,319.1 L808.3,318.1 L808.7,317.1 L809.1,316.3 L809.5,315.5 L809.9,314.7 L810.3,314.0 L810.7,313.3 L811.1,312.7 L811.5,312.1 L811.9,311.6 L812.3,311.1 L812.7,310.6 L813.1,310.2 L813.5,309.9 L813.9,309.5 L814.3,309.2 L814.7,309.0 L815.1,308.8 L815.5,308.6 L815.9,308.4 L816.3,308.3" stroke="#000000" stroke-width="4.2" stroke-dasharray="14.90 15.70"/>
<path d="M816.3,308.3 L816.7,308.2 L817.1,308.1 L817.5,308.0 L817.9,308.0 L818.3,308.0 L818.7,308.0 L819.1,308.2 L819.5,308.4 L819.9,308.8 L820.3,309.2 L820.7,309.7 L821.1,310.3 L821.5,311.0 L821.9,311.8 L822.3,312.6 L822.7,313.5 L823.1,314.5 L823.5,315.6 L823.8,316.7 L824.2,317.9 L824.6,319.2 L825.0,320.5 L825.4,321.9 L825.8,323.3 L826.2,324.8 L826.6,326.4 L827.0,328.0 L827.4,329.7 L827.8,331.4 L828.2,333.2 L828.6,335.1 L829.0,337.0 L829.4,339.0 L829.8,341.1" stroke="#000000" stroke-width="4.2" stroke-dasharray="18.46 19.44"/>
<path d="M829.8,341.1 L830.2,343.3 L830.6,345.5 L831.0,347.8 L831.4,350.3 L831.8,352.8 L832.2,355.3 L832.6,358.0 L833.0,360.7 L833.4,363.5 L833.8,366.4 L834.1,369.4 L834.5,372.5 L834.9,375.6 L835.3,378.9" stroke="#000000" stroke-width="4.2" stroke-dasharray="18.59 19.58"/>
<path d="M835.3,378.9 L835.7,382.2 L836.1,385.7 L836.5,389.1 L836.9,392.6 L837.3,396.2 L837.7,399.8 L838.1,403.6 L838.5,407.5 L838.9,411.7 L839.3,416.2 L839.7,421.0 L840.1,426.5 L840.5,432.6 L840.9,439.1 L841.3,445.6 L841.7,451.6 L842.1,456.9 L842.5,461.6 L842.9,465.9 L843.3,469.9 L843.7,473.8 L844.1,477.4 L844.4,481.0 L844.8,484.6 L845.2,488.1 L845.6,491.8 L846.0,495.3 L846.4,498.6 L846.8,501.7 L847.2,504.5 L847.6,507.0 L848.0,509.1 L848.4,510.8 L848.8,512.0 L849.2,512.7 L849.6,513.0 L850.0,512.5 L850.4,510.9 L850.8,508.6 L851.2,505.8 L851.6,502.9 L852.0,499.9 L852.4,497.0 L852.8,494.1 L853.2,491.2 L853.6,488.4 L854.0,485.6 L854.4,482.7 L854.8,479.8 L855.2,476.7 L855.6,473.4 L856.0,469.9 L856.4,466.2 L856.8,462.1 L857.2,457.9 L857.6,453.5 L858.0,449.2 L858.4,444.9 L858.8,440.8 L859.2,437.0 L859.6,433.5 L860.0,430.1 L860.4,426.8 L860.8,423.6 L861.2,420.6 L861.6,417.6 L862.0,414.7 L862.4,411.9 L862.8,409.2 L863.2,406.6 L863.6,404.1 L864.0,401.6 L864.4,399.1 L864.8,396.8 L865.2,394.6 L865.6,392.4 L866.0,390.4 L866.4,388.4 L866.8,386.6 L867.2,384.7 L867.6,382.9 L868.0,381.1 L868.4,379.3 L868.8,377.6 L869.2,375.8 L869.6,373.9 L870.0,372.1" stroke="#000000" stroke-width="4.2" stroke-dasharray="16.91 17.81"/>
<path d="M870.0,372.1 L870.4,370.2 L870.8,368.2 L871.2,366.2 L871.6,364.2 L872.0,362.0 L872.4,359.8 L872.8,357.4 L873.2,355.0 L873.6,352.5 L874.0,350.0 L874.4,347.5 L874.8,345.1 L875.2,342.6 L875.6,340.2 L876.0,337.9" stroke="#000000" stroke-width="4.2" stroke-dasharray="16.91 17.81"/>
<path d="M876.0,337.9 L876.4,335.6 L876.8,333.4 L877.2,331.3 L877.6,329.3 L878.0,327.4 L878.4,325.5 L878.8,323.6 L879.2,321.8 L879.6,320.0 L880.0,318.3 L880.4,316.5 L880.8,314.9 L881.2,313.2 L881.6,311.6 L882.0,310.0 L882.3,308.5 L882.7,307.0 L883.1,305.5 L883.5,304.0" stroke="#000000" stroke-width="4.2" stroke-dasharray="16.90 17.80"/>
<path d="M883.5,304.0 L883.9,302.6 L884.3,301.2 L884.7,299.9 L885.1,298.5 L885.5,297.2 L885.9,295.9 L886.3,294.7 L886.7,293.5 L887.1,292.3 L887.5,291.1 L887.9,290.0 L888.3,288.8 L888.7,287.7 L889.1,286.7 L889.5,285.6 L889.9,284.6 L890.3,283.6 L890.7,282.6 L891.1,281.6 L891.5,280.7 L891.9,279.7 L892.3,278.8 L892.7,277.9 L893.1,277.1 L893.5,276.2 L893.9,275.4 L894.3,274.5 L894.7,273.7 L895.1,272.9 L895.5,272.1 L895.9,271.4" stroke="#000000" stroke-width="4.2" stroke-dasharray="17.05 17.96"/>
<path d="M895.9,271.4 L896.3,270.6 L896.7,269.9 L897.1,269.2 L897.5,268.5 L897.9,267.8 L898.3,267.1 L898.7,266.5 L899.1,265.8 L899.5,265.2 L899.9,264.6 L900.3,264.0 L900.7,263.5 L901.1,262.9 L901.5,262.4 L901.9,261.8 L902.3,261.3 L902.7,260.8 L903.1,260.3 L903.5,259.9 L903.9,259.4 L904.3,259.0 L904.7,258.6 L905.1,258.2 L905.5,257.8 L905.9,257.4 L906.3,257.0 L906.7,256.7 L907.1,256.3 L907.5,256.0 L907.9,255.7 L908.3,255.4 L908.7,255.2 L909.1,254.9 L909.5,254.7 L909.9,254.5 L910.3,254.3 L910.7,254.1 L911.1,253.9 L911.5,253.8 L911.9,253.7 L912.3,253.5 L912.7,253.5 L913.1,253.4 L913.5,253.3 L913.9,253.3 L914.3,253.3 L914.7,253.3 L915.1,253.3 L915.5,253.4 L915.9,253.5 L916.3,253.6 L916.7,253.7 L917.1,253.9 L917.5,254.0 L917.9,254.2 L918.3,254.4 L918.7,254.6 L919.1,254.8 L919.5,255.1 L919.9,255.3 L920.3,255.6 L920.7,255.9 L921.1,256.1 L921.5,256.4 L921.9,256.7 L922.3,257.0" stroke="#000000" stroke-width="4.2" stroke-dasharray="17.41 18.34"/>
<path d="M922.3,257.0 L922.6,257.3 L923.0,257.6 L923.4,258.0 L923.8,258.3 L924.2,258.6 L924.6,258.9 L925.0,259.2 L925.4,259.5 L925.8,259.8 L926.2,260.1 L926.6,260.5 L927.0,260.8 L927.4,261.1 L927.8,261.4 L928.2,261.8 L928.6,262.1 L929.0,262.4 L929.4,262.8 L929.8,263.1 L930.2,263.5 L930.6,263.8 L931.0,264.2 L931.4,264.6 L931.8,265.0 L932.2,265.4 L932.6,265.8 L933.0,266.2 L933.4,266.7 L933.8,267.1 L934.2,267.6 L934.6,268.1 L935.0,268.6 L935.4,269.1 L935.8,269.7 L936.2,270.3 L936.6,270.9 L937.0,271.5 L937.4,272.1 L937.8,272.7 L938.2,273.4 L938.6,274.0 L939.0,274.7 L939.3,275.3 L939.7,276.0 L940.1,276.7 L940.5,277.4 L940.9,278.0 L941.3,278.7 L941.7,279.4 L942.1,280.0 L942.5,280.7 L942.9,281.3 L943.3,282.0 L943.7,282.6 L944.1,283.2" stroke="#000000" stroke-width="4.2" stroke-dasharray="16.79 17.68"/>
<path d="M944.1,283.2 L944.5,283.8 L944.9,284.3 L945.3,284.9 L945.7,285.4 L946.1,285.9 L946.5,286.5 L946.9,287.0 L947.3,287.4 L947.7,287.9 L948.1,288.4 L948.5,288.8 L948.9,289.3 L949.3,289.7 L949.7,290.1 L950.1,290.6 L950.5,291.0 L950.9,291.4 L951.3,291.7 L951.7,292.1 L952.1,292.5 L952.5,292.9 L952.9,293.2 L953.3,293.6 L953.7,293.9 L954.1,294.2 L954.5,294.5 L954.9,294.9 L955.3,295.2 L955.7,295.5 L956.0,295.7 L956.4,296.0 L956.8,296.3 L957.2,296.6 L957.6,296.8 L958.0,297.0 L958.4,297.3 L958.8,297.5 L959.2,297.7 L959.6,297.8 L960.0,298.0 L960.4,298.2 L960.8,298.3 L961.2,298.4 L961.6,298.5 L962.0,298.6 L962.4,298.7 L962.8,298.7 L963.2,298.8 L963.6,298.8 L964.0,298.8 L964.4,298.8 L964.8,298.8 L965.2,298.8 L965.6,298.7 L966.0,298.7 L966.4,298.7 L966.8,298.6 L967.2,298.6 L967.6,298.5 L968.0,298.4 L968.4,298.4 L968.8,298.3 L969.2,298.2 L969.6,298.1 L970.0,298.0 L970.4,297.9 L970.8,297.8 L971.2,297.7 L971.6,297.6 L972.0,297.4 L972.4,297.3 L972.8,297.2 L973.2,297.0 L973.6,296.9 L974.0,296.7 L974.4,296.6 L974.8,296.4" stroke="#000000" stroke-width="4.2" stroke-dasharray="18.11 19.07"/>
<path d="M974.8,296.4 L975.2,296.2 L975.6,296.1 L976.0,295.9 L976.4,295.7 L976.8,295.5 L977.2,295.3 L977.6,295.1 L978.0,294.9 L978.4,294.7 L978.8,294.5 L979.2,294.3 L979.6,294.1 L980.0,293.9 L980.4,293.6 L980.8,293.4 L981.2,293.2 L981.6,293.0 L982.0,292.7 L982.4,292.5 L982.8,292.3 L983.2,292.0 L983.6,291.8 L984.0,291.6 L984.4,291.3 L984.8,291.1 L985.2,290.9 L985.6,290.6 L986.0,290.4 L986.4,290.2 L986.8,289.9 L987.2,289.7 L987.6,289.5 L988.0,289.3 L988.4,289.1 L988.7,288.8 L989.1,288.6 L989.5,288.4 L989.9,288.2 L990.3,288.0 L990.7,287.8 L991.1,287.6 L991.5,287.4 L991.9,287.3 L992.3,287.1 L992.7,286.9 L993.1,286.7 L993.5,286.5 L993.9,286.4 L994.3,286.2 L994.7,286.0 L995.1,285.8 L995.5,285.7 L995.9,285.5 L996.3,285.3 L996.7,285.2 L997.1,285.0 L997.5,284.9 L997.9,284.7 L998.3,284.5 L998.7,284.4 L999.1,284.2 L999.5,284.1 L999.9,283.9 L1000.3,283.8 L1000.7,283.7 L1001.1,283.5 L1001.5,283.4 L1001.9,283.2 L1002.3,283.1 L1002.7,283.0 L1003.1,282.8 L1003.5,282.7 L1003.9,282.6 L1004.3,282.5 L1004.7,282.3 L1005.1,282.2 L1005.5,282.1 L1005.9,282.0 L1006.3,281.8 L1006.7,281.7" stroke="#000000" stroke-width="4.2" stroke-dasharray="17.17 18.08"/>
<path d="M1006.7,281.7 L1007.1,281.6 L1007.5,281.5 L1007.9,281.4 L1008.3,281.3 L1008.7,281.2 L1009.1,281.0 L1009.5,280.9 L1009.9,280.8 L1010.3,280.7 L1010.7,280.6 L1011.1,280.5 L1011.5,280.4 L1011.9,280.3 L1012.3,280.2 L1012.7,280.1 L1013.1,280.0 L1013.5,279.9 L1013.9,279.8 L1014.3,279.7 L1014.7,279.7 L1015.1,279.6 L1015.5,279.5 L1015.9,279.4 L1016.3,279.3 L1016.7,279.2 L1017.1,279.2 L1017.5,279.1 L1017.9,279.0 L1018.3,278.9 L1018.7,278.9 L1019.1,278.8 L1019.5,278.7 L1019.9,278.7 L1020.3,278.6 L1020.7,278.6 L1021.1,278.5 L1021.5,278.4 L1021.9,278.4 L1022.3,278.3 L1022.7,278.3 L1023.1,278.2 L1023.5,278.2 L1023.9,278.1 L1024.3,278.1 L1024.7,278.1 L1025.1,278.0 L1025.5,278.0 L1025.9,277.9 L1026.3,277.9 L1026.7,277.8 L1027.1,277.8 L1027.5,277.7 L1027.9,277.7 L1028.3,277.7 L1028.7,277.6 L1029.1,277.6 L1029.5,277.6 L1029.9,277.5 L1030.3,277.5 L1030.7,277.5 L1031.1,277.4 L1031.5,277.4 L1031.9,277.4 L1032.3,277.3 L1032.7,277.3 L1033.1,277.3 L1033.5,277.3 L1033.9,277.2 L1034.3,277.2 L1034.7,277.2 L1035.1,277.2 L1035.5,277.2 L1035.9,277.1 L1036.3,277.1 L1036.7,277.1 L1037.1,277.1 L1037.4,277.1 L1037.8,277.1 L1038.2,277.1 L1038.6,277.0 L1039.0,277.0 L1039.4,277.0 L1039.8,277.0 L1040.2,277.0 L1040.6,277.0 L1041.0,277.0" stroke="#000000" stroke-width="4.2" stroke-dasharray="16.93 17.84"/>
<path d="M1041.0,277.0 L1041.4,277.0 L1041.8,277.0 L1042.2,277.0 L1042.6,277.0 L1043.0,277.0 L1043.4,277.0 L1043.8,277.0 L1044.2,277.0 L1044.6,277.0 L1045.0,277.0 L1045.4,277.0 L1045.8,277.0 L1046.2,277.0 L1046.6,277.0 L1047.0,277.0 L1047.4,277.0 L1047.8,277.0 L1048.2,277.0 L1048.6,277.0 L1049.0,277.0 L1049.4,277.0 L1049.8,277.0 L1050.2,277.0 L1050.6,276.9 L1051.0,276.9 L1051.4,276.9 L1051.8,276.9 L1052.2,276.9 L1052.6,276.9 L1053.0,276.9 L1053.4,276.9 L1053.8,276.9 L1054.2,276.9 L1054.6,276.9 L1055.0,276.9 L1055.4,276.9 L1055.8,276.9 L1056.2,276.9 L1056.6,276.9 L1057.0,276.9 L1057.4,276.9 L1057.8,276.9 L1058.2,276.9 L1058.6,276.9 L1059.0,276.9 L1059.4,276.8 L1059.8,276.8 L1060.2,276.8 L1060.6,276.8 L1061.0,276.8 L1061.4,276.8" stroke="#000000" stroke-width="4.2" stroke-dasharray="16.90 17.80"/>
<path d="M108.7,29.0 L109.1,29.2 L109.5,29.7 L109.9,30.4 L110.3,31.5 L110.7,32.8 L111.1,34.3 L111.5,36.0 L111.9,37.8 L112.3,39.8 L112.7,42.0 L113.0,44.2 L113.4,46.5 L113.8,48.8 L114.2,51.2 L114.6,53.5 L115.0,55.7 L115.4,57.9 L115.8,60.1 L116.2,62.4 L116.6,64.9 L117.0,67.7 L117.4,70.7 L117.8,73.9 L118.2,77.4 L118.6,81.1 L119.0,85.4 L119.4,90.1 L119.8,95.4 L120.2,101.6 L120.6,109.4 L121.0,119.1 L121.3,128.0 L121.7,135.2 L122.1,141.8 L122.5,148.1 L122.9,154.6 L123.3,161.6 L123.7,168.8 L124.1,176.2 L124.5,183.4 L124.9,190.1 L125.3,196.0 L125.7,201.2 L126.1,206.1 L126.5,210.9 L126.9,215.9 L127.3,221.6 L127.7,228.4 L128.1,237.3 L128.5,247.5 L128.9,257.1 L129.3,264.6 L129.7,270.7 L130.0,276.7 L130.4,283.7 L130.8,291.8 L131.2,300.0 L131.6,306.9 L132.0,312.3 L132.4,316.7 L132.8,320.0 L133.2,322.2 L133.6,323.4 L134.0,323.7 L134.4,323.5 L134.8,323.1 L135.2,322.3 L135.5,321.3 L135.9,320.0 L136.3,318.6 L136.7,317.0 L137.1,315.3 L137.5,313.5 L137.9,311.7 L138.2,309.9 L138.6,308.1 L139.0,306.5 L139.4,304.9 L139.8,303.5 L140.2,302.2 L140.6,301.1 L141.0,300.2 L141.3,299.5 L141.7,298.9 L142.1,298.6 L142.5,298.5 L142.9,298.6 L143.3,299.1 L143.7,299.7 L144.1,300.7 L144.5,302.0 L144.9,303.5 L145.3,305.4 L145.7,307.5 L146.1,309.9 L146.5,312.6 L146.9,315.7 L147.3,319.0 L147.7,322.7 L148.1,326.7 L148.5,331.0 L148.8,335.7 L149.2,340.7 L149.6,346.0 L150.0,351.6 L150.4,357.5 L150.8,363.7 L151.2,370.1 L151.6,376.6 L152.0,383.1 L152.4,389.6 L152.8,395.7 L153.2,401.2 L153.6,406.0 L154.0,409.6 L154.4,411.9 L154.8,412.7 L155.2,410.9 L155.6,406.2 L156.0,399.7 L156.4,392.5 L156.8,385.3 L157.1,378.6 L157.5,372.3 L157.9,366.1 L158.3,359.9 L158.7,353.8 L159.1,348.2 L159.5,343.2 L159.9,339.2 L160.3,335.7 L160.7,332.7 L161.1,330.0 L161.5,327.5 L161.8,325.3 L162.2,323.3 L162.6,321.4 L163.0,319.7 L163.4,318.2 L163.8,316.8 L164.2,315.6 L164.6,314.4 L165.0,313.3 L165.4,312.2 L165.8,311.1 L166.2,310.1 L166.5,309.1 L166.9,308.3 L167.3,307.5 L167.7,307.0 L168.1,306.6 L168.5,306.5 L168.9,306.7 L169.3,307.4 L169.7,308.4 L170.0,309.7 L170.4,311.2 L170.8,312.9 L171.2,314.6 L171.6,316.4 L172.0,318.1 L172.4,319.7 L172.8,321.2 L173.1,322.7 L173.5,324.1 L173.9,325.6 L174.3,327.2 L174.7,328.7 L175.1,330.3 L175.5,331.6 L175.8,332.8 L176.2,333.7 L176.6,334.3 L177.0,334.5 L177.4,334.1 L177.8,333.0 L178.2,331.4 L178.6,329.5 L179.0,327.4 L179.4,325.4 L179.8,323.6 L180.2,321.9 L180.6,320.3 L181.0,318.9 L181.4,317.6 L181.8,316.3 L182.2,315.1 L182.6,313.8 L183.0,312.5 L183.4,311.2 L183.8,309.9 L184.2,308.7 L184.6,307.6 L185.0,306.5 L185.4,305.4 L185.8,304.3 L186.2,303.2 L186.6,302.1 L187.0,301.0 L187.4,299.9 L187.8,298.8 L188.2,297.7 L188.6,296.6 L189.0,295.6 L189.4,294.6 L189.8,293.6 L190.2,292.6 L190.6,291.8 L191.0,290.9 L191.4,290.1 L191.8,289.4 L192.2,288.8 L192.6,288.2 L193.0,287.7 L193.4,287.3 L193.8,286.9 L194.2,286.7 L194.6,286.6 L195.0,286.5 L195.4,286.5 L195.8,286.6 L196.2,286.8 L196.6,287.0 L197.0,287.3 L197.4,287.7 L197.8,288.1 L198.2,288.5 L198.6,289.0 L199.0,289.6 L199.4,290.2 L199.8,290.8 L200.2,291.5 L200.6,292.2 L201.0,292.9 L201.4,293.7 L201.8,294.5 L202.2,295.4 L202.6,296.3 L203.0,297.2 L203.4,298.1 L203.8,299.1 L204.2,300.0 L204.6,301.0 L205.0,302.0 L205.4,303.0 L205.8,304.1 L206.2,305.1 L206.6,306.1 L207.0,307.2 L207.4,308.2 L207.8,309.3 L208.2,310.3 L208.6,311.4 L209.0,312.4 L209.4,313.4 L209.8,314.4 L210.2,315.2 L210.6,316.1 L211.0,316.9 L211.4,317.6 L211.8,318.3 L212.2,319.0 L212.6,319.7 L212.9,320.5 L213.3,321.2 L213.7,322.0 L214.1,322.9 L214.5,323.9 L214.9,324.9 L215.3,326.1 L215.7,327.4 L216.1,328.9 L216.5,330.7 L216.9,333.1 L217.3,336.1 L217.7,339.6 L218.1,343.6 L218.5,348.0 L218.9,352.6 L219.3,357.4 L219.7,362.2 L220.1,366.8 L220.5,371.5 L220.9,376.3 L221.3,381.6 L221.7,387.5 L222.1,394.5 L222.5,403.7 L222.9,415.7 L223.3,427.8 L223.7,438.2 L224.1,448.4 L224.5,458.4 L224.9,468.2 L225.3,477.7 L225.7,487.2 L226.1,496.6 L226.5,505.4 L226.9,513.2 L227.3,519.3 L227.7,524.1 L228.1,528.4 L228.5,533.2 L228.9,539.6 L229.3,548.7 L229.7,566.6 L230.1,592.3 L230.5,606.5 L230.9,593.5 L231.3,569.5 L231.7,548.9 L232.1,535.0 L232.5,524.5 L232.9,513.5 L233.3,501.2 L233.7,488.5 L234.1,474.7 L234.5,461.4 L234.9,446.1 L235.3,425.2 L235.7,393.1 L236.1,379.3 L236.5,370.0 L236.9,362.7 L237.3,355.6 L237.7,347.5 L238.0,338.7 L238.4,330.2 L238.8,322.0 L239.2,314.2 L239.6,307.0 L240.0,300.4 L240.4,294.0 L240.8,288.0 L241.2,282.6 L241.6,278.1 L242.0,274.6 L242.4,272.0 L242.8,270.0 L243.2,268.5 L243.6,267.3 L244.0,266.5 L244.4,266.0 L244.8,265.7 L245.2,265.6 L245.6,265.7 L246.0,266.2 L246.4,267.0 L246.7,268.2 L247.1,269.8 L247.5,271.8 L247.9,274.3 L248.3,277.3 L248.7,281.1 L249.1,285.9 L249.5,291.7 L249.8,298.2 L250.2,305.0 L250.6,311.6 L251.0,317.6 L251.4,323.0 L251.8,328.3 L252.2,333.8 L252.5,339.9 L252.9,347.2 L253.3,356.6 L253.7,368.3 L254.1,380.7 L254.5,391.8 L254.9,402.0 L255.3,414.1 L255.6,433.0 L256.0,458.3 L256.4,481.8 L256.8,493.0 L257.2,489.4 L257.6,479.8 L258.0,466.7 L258.4,452.4 L258.8,438.4 L259.1,425.4 L259.5,413.4 L259.9,402.6 L260.3,393.0 L260.7,384.4 L261.1,376.9 L261.5,370.3 L261.9,364.6 L262.3,359.8 L262.7,355.7 L263.0,352.3 L263.4,349.6 L263.8,347.5 L264.2,346.1 L264.6,345.3 L265.0,345.0 L265.4,345.1 L265.8,345.3 L266.2,345.8 L266.6,346.4 L267.0,347.2 L267.4,348.3 L267.8,349.5 L268.2,351.0 L268.5,352.6 L268.9,354.6 L269.3,356.7 L269.7,359.2 L270.1,361.8 L270.5,364.8 L270.9,368.1 L271.3,371.6 L271.7,375.5 L272.1,379.6 L272.5,384.1 L272.9,388.9 L273.3,394.1 L273.7,399.5 L274.1,405.3 L274.5,411.4 L274.9,417.7 L275.2,424.1 L275.6,430.7 L276.0,437.3 L276.4,443.8 L276.8,449.9 L277.2,455.3 L277.6,459.5 L278.0,462.3 L278.4,463.2 L278.8,462.7 L279.2,461.0 L279.6,458.2 L280.0,454.2 L280.4,449.2 L280.8,443.2 L281.2,436.4 L281.5,429.0 L281.9,421.3 L282.3,413.4 L282.7,405.4 L283.1,397.6 L283.5,390.0 L283.9,382.5 L284.3,375.4 L284.7,368.5 L285.1,362.0 L285.5,355.8 L285.9,350.0 L286.3,344.5 L286.7,339.4 L287.1,334.7 L287.5,330.4 L287.9,326.4 L288.2,322.9 L288.6,319.8 L289.0,317.1 L289.4,314.9 L289.8,313.1 L290.2,311.8 L290.6,311.0 L291.0,310.7 L291.4,310.9 L291.8,311.5 L292.2,312.5 L292.6,313.9 L293.0,315.7 L293.4,317.7 L293.8,320.2 L294.2,322.9 L294.6,325.9 L295.0,329.2 L295.4,332.7 L295.8,336.5 L296.2,340.5 L296.6,344.7 L297.0,349.0 L297.4,353.5 L297.8,358.2 L298.2,362.9 L298.6,367.7 L299.0,372.6 L299.4,377.5 L299.8,382.3 L300.2,386.9 L300.6,391.3 L301.0,395.4 L301.4,399.0 L301.8,402.2 L302.2,404.9 L302.6,407.1 L303.0,408.8 L303.4,410.1 L303.8,411.0 L304.2,411.6 L304.6,411.9 L305.0,412.0 L305.4,410.0 L305.8,404.4 L306.2,396.3 L306.5,387.0 L306.9,377.4 L307.3,368.4 L307.7,360.2 L308.1,353.1 L308.5,347.2 L308.8,342.7 L309.2,339.4 L309.6,337.5 L310.0,336.8 L310.4,337.0 L310.8,337.7 L311.2,338.8 L311.6,340.3 L312.0,342.2 L312.4,344.6 L312.8,347.3 L313.2,350.5 L313.6,354.0 L314.0,357.9 L314.3,362.0 L314.7,366.4 L315.1,370.9 L315.5,375.5 L315.9,380.0 L316.3,384.3 L316.7,388.1 L317.1,391.4 L317.5,393.9 L317.9,395.5 L318.3,396.0 L318.7,395.2 L319.1,392.9 L319.5,389.1 L319.9,384.0 L320.3,377.8 L320.7,370.8 L321.1,363.2 L321.5,355.3 L321.9,347.3 L322.2,339.4 L322.6,331.7 L323.0,324.4 L323.4,317.2 L323.8,310.1 L324.2,303.6 L324.6,297.9 L325.0,293.0 L325.4,289.0 L325.8,285.7 L326.2,282.8 L326.6,280.3 L327.0,278.1 L327.4,276.3 L327.8,274.7 L328.2,273.5 L328.6,272.4 L328.9,271.6 L329.3,270.9 L329.7,270.4 L330.1,269.9 L330.5,269.6 L330.9,269.3 L331.3,269.2 L331.7,269.1 L332.1,269.0 L332.5,269.0 L332.9,269.1 L333.3,269.3 L333.7,269.6 L334.1,270.1 L334.5,270.7 L334.9,271.5 L335.3,272.3 L335.7,273.3 L336.1,274.3 L336.5,275.4 L336.9,276.6 L337.2,277.8 L337.6,279.1 L338.0,280.3 L338.4,281.5 L338.8,282.7 L339.2,283.8 L339.6,284.8 L340.0,285.8 L340.4,286.5 L340.8,287.2 L341.2,287.6 L341.6,287.9 L342.0,288.0 L342.4,288.0 L342.8,287.9 L343.2,287.7 L343.6,287.5 L344.0,287.2 L344.4,286.9 L344.8,286.6 L345.2,286.2 L345.6,285.8 L346.0,285.3 L346.4,284.9 L346.8,284.4 L347.1,284.0 L347.5,283.5 L347.9,283.1 L348.3,282.7 L348.7,282.3 L349.1,282.0 L349.5,281.7 L349.9,281.4 L350.3,281.3 L350.7,281.1 L351.1,281.0 L351.5,281.0 L351.9,281.1 L352.3,281.6 L352.7,282.3 L353.1,283.2 L353.5,284.4 L353.9,285.8 L354.3,287.4 L354.7,289.2 L355.1,291.2 L355.5,293.3 L355.9,295.6 L356.3,298.0 L356.7,300.6 L357.1,303.3 L357.5,306.2 L357.9,309.3 L358.3,312.6 L358.7,316.0 L359.1,319.5 L359.5,323.0 L359.8,326.8 L360.2,331.0 L360.6,336.0 L361.0,342.1 L361.4,349.7 L361.8,358.7 L362.2,369.1 L362.6,380.8 L363.0,393.3 L363.4,406.3 L363.8,419.0 L364.2,430.6 L364.6,441.4 L365.0,452.0 L365.4,462.0 L365.8,470.9 L366.2,478.4 L366.6,484.1 L367.0,487.9 L367.4,489.9 L367.8,490.5 L368.2,487.7 L368.6,480.4 L369.0,470.2 L369.4,458.9 L369.8,447.5 L370.2,436.9 L370.6,427.1 L370.9,418.4 L371.3,410.8 L371.7,404.2 L372.1,398.5 L372.5,393.8 L372.9,389.8 L373.3,386.6 L373.7,384.2 L374.1,382.3 L374.5,380.7 L374.9,379.3 L375.3,378.1 L375.7,377.1 L376.1,376.1 L376.4,375.2 L376.8,374.3 L377.2,373.4 L377.6,372.4 L378.0,371.4 L378.4,370.3 L378.8,369.0 L379.2,367.8 L379.6,366.6 L380.0,365.4 L380.4,364.2 L380.8,363.0 L381.2,361.8 L381.6,360.7 L382.0,359.5 L382.3,358.3 L382.7,357.1 L383.1,355.9 L383.5,354.7 L383.9,353.5 L384.3,352.4 L384.7,351.2 L385.1,350.1 L385.5,348.9 L385.9,347.8 L386.3,346.6 L386.7,345.5 L387.1,344.4 L387.5,343.3 L387.8,342.3 L388.2,341.3 L388.6,340.5 L389.0,339.8 L389.4,339.3 L389.8,338.8 L390.2,338.6 L390.6,338.5 L391.0,338.7 L391.4,339.2 L391.8,340.0 L392.2,341.2 L392.6,342.7 L393.0,344.5 L393.4,346.6 L393.8,349.0 L394.2,351.5 L394.6,354.2 L394.9,357.1 L395.3,360.0 L395.7,362.9 L396.1,365.6 L396.5,368.2 L396.9,370.5 L397.3,372.4 L397.7,373.8 L398.1,374.7 L398.5,375.0 L398.9,374.9 L399.3,374.7 L399.7,374.4 L400.0,373.9 L400.4,373.3 L400.8,372.6 L401.2,371.8 L401.6,371.0 L402.0,370.2 L402.3,369.4 L402.7,368.6 L403.1,367.8 L403.5,367.1 L403.9,366.5 L404.3,366.0 L404.6,365.6 L405.0,365.3 L405.4,365.1 L405.8,365.0 L406.2,365.1 L406.6,365.5 L407.0,366.1 L407.4,367.1 L407.8,368.3 L408.2,370.0 L408.5,372.0 L408.9,374.4 L409.3,377.2 L409.7,380.7 L410.1,384.9 L410.5,389.8 L410.9,395.4 L411.3,401.4 L411.7,407.7 L412.1,414.0 L412.5,420.3 L412.9,427.0 L413.3,434.7 L413.6,444.2 L414.0,455.9 L414.4,469.6 L414.8,485.0 L415.2,501.0 L415.6,514.4 L416.0,520.0 L416.4,518.8 L416.8,515.5 L417.2,510.3 L417.6,503.8 L418.0,496.5 L418.4,488.8 L418.8,481.0 L419.2,473.5 L419.6,466.3 L420.0,459.5 L420.4,453.3 L420.7,447.6 L421.1,442.5 L421.5,437.9 L421.9,433.9 L422.3,430.5 L422.7,427.5 L423.1,425.2 L423.5,423.3 L423.9,422.0 L424.3,421.3 L424.7,421.0 L425.1,421.7 L425.5,423.7 L425.9,426.9 L426.3,431.2 L426.7,436.5 L427.1,442.8 L427.5,450.0 L427.9,458.1 L428.3,467.0 L428.7,476.5 L429.1,486.7 L429.5,497.3 L429.9,508.3 L430.3,519.5 L430.7,530.5 L431.1,541.2 L431.5,551.1 L431.9,560.0 L432.3,567.8 L432.7,574.3 L433.1,579.4 L433.5,583.0 L433.9,585.2 L434.3,586.3 L434.7,586.6 L435.1,582.5 L435.5,572.3 L435.9,559.5 L436.3,546.7 L436.7,535.3 L437.0,526.0 L437.4,518.5 L437.8,511.9 L438.2,505.2 L438.6,497.8 L439.0,489.2 L439.4,477.9 L439.8,464.8 L440.2,452.4 L440.6,442.1 L441.0,434.4 L441.4,429.5 L441.7,426.0 L442.1,423.5 L442.5,421.8 L442.9,420.7 L443.3,420.2 L443.7,420.0 L444.1,420.5 L444.5,422.1 L444.9,424.6 L445.3,428.0 L445.7,432.1 L446.1,436.8 L446.5,442.3 L446.9,448.6 L447.3,455.6 L447.7,463.0 L448.1,470.3 L448.5,476.9 L448.9,482.7 L449.3,488.0 L449.7,493.1 L450.1,497.9 L450.5,502.6 L450.9,507.5 L451.2,512.8 L451.6,518.8 L452.0,525.8 L452.4,533.8 L452.8,542.7 L453.2,552.6 L453.6,563.8 L454.0,576.8 L454.4,593.6 L454.8,613.0 L455.2,631.0 L455.6,643.4 L456.0,651.5 L456.4,657.7 L456.8,661.6 L457.2,663.4 L457.6,664.0 L458.0,664.0 L458.4,660.6 L458.8,651.3 L459.2,638.3 L459.6,623.7 L460.0,608.8 L460.4,594.4 L460.7,580.7 L461.1,567.9 L461.5,556.5 L461.9,545.8 L462.3,535.4 L462.7,524.7 L463.1,513.6 L463.5,502.4 L463.9,491.4 L464.3,480.6 L464.7,470.4 L465.1,460.9 L465.5,451.4 L465.8,441.7 L466.2,431.6 L466.6,419.8 L467.0,406.9 L467.4,395.5 L467.8,386.0 L468.2,377.6 L468.6,369.9 L469.0,362.7 L469.4,355.8 L469.8,349.1 L470.2,342.5 L470.6,336.1 L471.0,330.0 L471.3,324.3 L471.7,318.9 L472.1,313.9 L472.5,309.2 L472.9,304.7 L473.3,300.5 L473.7,296.7 L474.1,293.2 L474.5,290.2 L474.9,287.4 L475.3,285.0 L475.7,282.8 L476.1,280.9 L476.4,279.3 L476.8,278.0 L477.2,276.9 L477.6,276.1 L478.0,275.5 L478.4,275.1 L478.8,275.0 L479.2,275.2 L479.6,275.7 L480.0,276.5 L480.4,277.5 L480.8,278.9 L481.2,280.5 L481.6,282.3 L482.0,284.3 L482.4,286.4 L482.8,288.7 L483.2,291.1 L483.6,293.5 L484.0,295.9 L484.4,298.4 L484.8,301.0 L485.2,303.7 L485.6,306.5 L486.0,309.6 L486.4,313.0 L486.8,316.7 L487.2,320.6 L487.6,324.7 L488.0,328.9 L488.4,333.0 L488.8,336.8 L489.2,340.3 L489.6,343.5 L490.0,346.1 L490.4,348.1 L490.8,349.4 L491.2,349.8 L491.6,349.3 L492.0,347.9 L492.4,345.7 L492.8,342.9 L493.2,339.7 L493.6,336.2 L493.9,332.6 L494.3,329.0 L494.7,325.4 L495.1,322.0 L495.5,318.8 L495.9,315.8 L496.3,313.1 L496.7,310.6 L497.1,308.4 L497.5,306.5 L497.9,304.9 L498.2,303.5 L498.6,302.4 L499.0,301.5 L499.4,300.8 L499.8,300.4 L500.2,300.1 L500.6,300.0 L501.0,300.2 L501.4,300.9 L501.8,301.9 L502.2,303.4 L502.6,305.1 L503.0,307.2 L503.4,309.6 L503.8,312.2 L504.2,315.1 L504.6,318.2 L505.0,321.5 L505.3,325.0 L505.7,328.6 L506.1,332.4 L506.5,336.2 L506.9,339.9 L507.3,343.6 L507.7,347.3 L508.1,351.1 L508.5,355.1 L508.9,359.4 L509.3,364.3 L509.7,369.9 L510.1,376.0 L510.5,382.4 L510.9,388.9 L511.3,395.2 L511.7,401.0 L512.1,406.0 L512.5,410.0 L512.9,413.2 L513.3,415.9 L513.7,418.3 L514.0,420.3 L514.4,422.1 L514.8,423.6 L515.2,424.9 L515.6,426.1 L516.0,427.1 L516.4,427.9 L516.8,428.5 L517.2,429.0 L517.6,429.3 L518.0,429.4 L518.4,429.5 L518.8,429.0 L519.2,427.6 L519.6,425.7 L520.0,423.9 L520.4,422.7 L520.8,422.2 L521.2,422.3 L521.6,422.7 L522.0,423.5 L522.4,424.8 L522.8,426.8 L523.2,429.6 L523.6,433.3 L524.0,438.1 L524.4,444.0 L524.8,452.4 L525.2,464.0 L525.6,477.4 L526.0,492.4 L526.4,509.3 L526.8,525.0 L527.2,537.7 L527.6,549.2 L528.0,560.3 L528.4,572.3 L528.8,583.6 L529.2,593.2 L529.6,604.4 L530.0,621.7 L530.4,656.1 L530.8,749.5 L531.2,734.0 L531.6,699.1 L532.0,662.2 L532.4,629.0 L532.8,598.5 L533.2,574.6 L533.5,558.0 L533.9,545.3 L534.3,533.4 L534.7,520.9 L535.1,506.8 L535.5,493.7 L535.9,483.2 L536.3,476.0 L536.7,470.7 L537.1,466.6 L537.5,463.2 L537.9,460.4 L538.3,457.9 L538.6,455.8 L539.0,453.9 L539.4,452.5 L539.8,451.4 L540.2,450.6 L540.6,450.1 L541.0,450.0 L541.4,450.3 L541.8,451.3 L542.2,452.8 L542.6,455.0 L543.0,457.6 L543.4,460.8 L543.8,464.8 L544.2,469.8 L544.6,475.6 L545.0,481.5 L545.4,486.5 L545.8,489.6 L546.2,491.6 L546.5,493.4 L546.9,495.0 L547.3,496.5 L547.7,497.8 L548.1,499.0 L548.5,500.1 L548.9,501.0 L549.3,501.9 L549.7,502.7 L550.1,503.5 L550.5,504.3 L550.9,505.2 L551.3,506.0 L551.7,506.9 L552.1,508.0 L552.5,509.1 L552.9,510.4 L553.3,512.0 L553.7,513.8 L554.1,515.8 L554.5,518.3 L554.9,521.2 L555.3,524.6 L555.7,528.4 L556.1,532.7 L556.5,537.5 L556.8,542.5 L557.2,548.2 L557.6,555.3 L558.0,564.5 L558.4,578.1 L558.8,607.9 L559.2,639.5 L559.6,655.2 L560.0,668.0 L560.4,677.4 L560.8,682.9 L561.2,685.3 L561.6,686.0 L562.0,686.0 L562.4,685.7 L562.8,680.9 L563.2,664.6 L563.6,635.7 L564.0,601.1 L564.4,526.4 L564.8,459.9 L565.2,435.9 L565.6,424.2 L566.0,416.0 L566.4,409.6 L566.8,403.6 L567.2,397.4 L567.6,392.0 L568.0,386.8 L568.4,381.1 L568.8,375.3 L569.2,369.7 L569.6,364.3 L569.9,359.0 L570.3,354.0 L570.7,349.1 L571.1,344.5 L571.5,340.0 L571.9,335.8 L572.3,331.7 L572.7,327.9 L573.1,324.3 L573.5,320.9 L573.9,317.8 L574.3,314.9 L574.7,312.3 L575.1,310.0 L575.5,308.0 L575.9,306.2 L576.3,304.9 L576.7,303.9 L577.1,303.2 L577.5,303.0 L577.9,303.2 L578.3,303.6 L578.7,304.4 L579.1,305.3 L579.5,306.5 L579.9,307.8 L580.2,309.1 L580.6,310.6 L581.0,312.0 L581.4,313.4 L581.8,314.8 L582.2,316.1 L582.6,317.3 L583.0,318.5 L583.4,319.7 L583.8,321.0 L584.2,322.3 L584.6,323.7 L585.0,325.2 L585.4,326.9 L585.7,328.6 L586.1,330.3 L586.5,332.1 L586.9,334.0 L587.3,335.9 L587.7,337.9 L588.1,339.9 L588.5,342.1 L588.9,344.3 L589.3,346.6 L589.7,349.0 L590.1,351.5 L590.5,353.9 L590.8,356.4 L591.2,358.7 L591.6,360.8 L592.0,362.6 L592.4,364.0 L592.8,364.9 L593.2,365.2 L593.6,364.7 L594.0,363.3 L594.4,361.2 L594.8,358.5 L595.2,355.5 L595.6,352.4 L596.0,349.2 L596.4,346.2 L596.8,343.3 L597.2,340.8 L597.6,338.4 L598.0,336.1 L598.4,334.1 L598.8,332.1 L599.2,330.3 L599.6,328.5 L600.0,326.7 L600.4,325.0 L600.8,323.3 L601.2,321.5 L601.6,319.7 L602.0,317.9 L602.4,316.1 L602.7,314.3 L603.1,312.5 L603.5,310.9 L603.9,309.4 L604.3,308.0 L604.7,306.8 L605.1,305.7 L605.5,304.7 L605.9,303.9 L606.3,303.3 L606.7,302.7 L607.1,302.2 L607.5,301.8 L607.9,301.4 L608.3,301.1 L608.7,300.8 L609.1,300.6 L609.5,300.4 L609.9,300.3 L610.3,300.2 L610.7,300.1 L611.1,300.0 L611.5,300.0 L611.9,300.0 L612.3,300.0 L612.7,300.1 L613.1,300.2 L613.5,300.4 L613.9,300.7 L614.3,301.0 L614.7,301.4 L615.1,301.8 L615.5,302.3 L615.9,302.8 L616.3,303.5 L616.6,304.1 L617.0,304.9 L617.4,305.7 L617.8,306.5 L618.2,307.5 L618.6,308.5 L619.0,309.5 L619.4,310.6 L619.8,311.8 L620.2,313.0 L620.6,314.3 L621.0,315.6 L621.4,317.0 L621.8,318.4 L622.2,319.9 L622.6,321.4 L623.0,323.0 L623.4,324.5 L623.8,326.1 L624.2,327.6 L624.6,329.1 L625.0,330.7 L625.3,332.1 L625.7,333.5 L626.1,334.9 L626.5,336.1 L626.9,337.3 L627.3,338.3 L627.7,339.3 L628.1,340.0 L628.5,340.7 L628.9,341.1 L629.3,341.4 L629.7,341.5 L630.1,341.4 L630.5,341.1 L630.9,340.7 L631.3,340.0 L631.7,339.2 L632.1,338.2 L632.5,337.1 L632.9,335.9 L633.3,334.5 L633.7,333.1 L634.0,331.5 L634.4,329.9 L634.8,328.3 L635.2,326.6 L635.6,324.9 L636.0,323.1 L636.4,321.4 L636.8,319.7 L637.2,317.9 L637.6,316.2 L638.0,314.6 L638.4,313.0 L638.8,311.5 L639.2,310.1 L639.6,308.7 L640.0,307.4 L640.4,306.3 L640.8,305.2 L641.2,304.3 L641.6,303.4 L642.0,302.6 L642.3,301.9 L642.7,301.3 L643.1,300.7 L643.5,300.2 L643.9,299.8 L644.3,299.5 L644.7,299.2 L645.1,299.0 L645.5,298.9 L645.9,298.8 L646.3,298.8 L646.7,298.9 L647.1,299.2 L647.5,299.8 L647.9,300.5 L648.3,301.4 L648.7,302.5 L649.1,303.7 L649.5,305.1 L649.9,306.6 L650.3,308.2 L650.7,310.0 L651.1,311.9 L651.5,313.9 L651.9,316.0 L652.2,318.2 L652.6,320.5 L653.0,322.8 L653.4,325.2 L653.8,327.7 L654.2,330.1 L654.6,332.4 L655.0,334.8 L655.4,337.3 L655.8,339.9 L656.2,342.6 L656.6,345.5 L657.0,348.7 L657.4,352.2 L657.8,356.2 L658.2,360.4 L658.6,364.7 L659.0,369.1 L659.4,373.2 L659.8,377.1 L660.2,380.8 L660.6,384.6 L661.0,388.4 L661.4,392.4 L661.8,396.7 L662.2,401.1 L662.6,405.4 L663.0,410.2 L663.4,415.8 L663.7,422.8 L664.1,432.2 L664.5,444.5 L664.9,464.0 L665.3,483.1 L665.7,499.1 L666.1,514.5 L666.5,529.8 L666.9,544.8 L667.3,560.2 L667.7,577.3 L668.1,592.9 L668.5,613.1 L668.9,658.2 L669.3,900.0 L669.7,694.8 L670.1,630.3 L670.5,603.3 L670.9,585.4 L671.3,568.1 L671.7,551.2 L672.1,535.9 L672.5,522.0 L672.9,509.7 L673.3,498.3 L673.7,486.9 L674.1,474.7 L674.5,462.0 L674.9,448.5 L675.3,434.4 L675.7,416.7 L676.1,403.6 L676.5,395.8 L676.9,390.0 L677.3,385.1 L677.7,380.5 L678.1,375.5 L678.5,369.7 L678.9,363.3 L679.3,356.9 L679.7,350.6 L680.1,344.7 L680.5,339.5 L680.9,335.0 L681.3,331.0 L681.7,327.3 L682.1,323.8 L682.5,320.6 L682.9,317.5 L683.3,314.7 L683.7,311.9 L684.1,309.2 L684.5,306.7 L684.9,304.2 L685.3,301.9 L685.6,299.6 L686.0,297.5 L686.4,295.5 L686.8,293.5 L687.2,291.7 L687.6,289.9 L688.0,288.3 L688.4,286.7 L688.8,285.2 L689.2,283.7 L689.6,282.4 L690.0,281.0 L690.4,279.8 L690.8,278.6 L691.2,277.4 L691.6,276.4 L692.0,275.4 L692.4,274.5 L692.8,273.6 L693.2,272.8 L693.6,272.1 L694.0,271.5 L694.4,270.9 L694.8,270.4 L695.2,269.9 L695.6,269.5 L696.0,269.1 L696.4,268.8 L696.8,268.5 L697.2,268.2 L697.6,267.9 L698.0,267.7 L698.4,267.5 L698.8,267.3 L699.2,267.2 L699.6,267.1 L700.0,267.0 L700.4,266.9 L700.8,266.9 L701.2,266.8 L701.6,266.8 L702.0,266.8 L702.4,266.8 L702.8,266.8 L703.2,266.8 L703.6,266.8 L704.0,266.9 L704.4,266.9 L704.8,267.0 L705.2,267.0 L705.6,267.1 L706.0,267.2 L706.4,267.4 L706.8,267.5 L707.2,267.7 L707.6,267.9 L708.0,268.1 L708.4,268.4 L708.8,268.7 L709.2,269.0 L709.6,269.3 L710.0,269.7 L710.3,270.1 L710.7,270.6 L711.1,271.0 L711.5,271.6 L711.9,272.1 L712.3,272.8 L712.7,273.6 L713.1,274.5 L713.5,275.5 L713.9,276.5 L714.3,277.7 L714.7,279.0 L715.1,280.3 L715.5,281.7 L715.9,283.2 L716.3,284.6 L716.7,286.2 L717.1,287.8 L717.5,289.6 L717.9,291.4 L718.3,293.3 L718.7,295.3 L719.1,297.4 L719.5,299.5 L719.9,301.7 L720.3,304.0 L720.7,306.4 L721.1,308.8 L721.5,311.4 L721.9,314.0 L722.3,316.8 L722.7,319.6 L723.1,322.5 L723.5,325.5 L723.9,328.4 L724.3,331.2 L724.7,334.0 L725.1,336.9 L725.5,340.0 L725.9,343.5 L726.3,347.5 L726.6,352.2 L727.0,358.2 L727.4,367.3 L727.8,378.0 L728.2,387.1 L728.6,395.3 L729.0,403.0 L729.4,410.2 L729.8,417.1 L730.2,423.7 L730.6,429.7 L731.0,435.2 L731.4,440.0 L731.8,444.2 L732.2,447.8 L732.6,450.8 L733.0,453.2 L733.4,455.0 L733.8,456.2 L734.2,456.8 L734.6,457.0 L735.0,456.4 L735.4,454.8 L735.8,452.1 L736.2,448.3 L736.6,443.8 L737.0,438.7 L737.4,433.1 L737.8,427.0 L738.2,420.4 L738.6,413.2 L739.0,405.8 L739.4,398.0 L739.8,389.5 L740.2,380.0 L740.6,367.6 L741.0,354.3 L741.4,343.7 L741.8,334.9 L742.2,326.9 L742.6,319.3 L743.0,311.9 L743.4,305.1 L743.8,299.1 L744.2,294.1 L744.6,290.1 L745.0,287.0 L745.4,284.4 L745.8,282.1 L746.2,280.1 L746.6,278.4 L747.0,276.8 L747.4,275.4 L747.8,274.2 L748.2,273.0 L748.6,271.9 L749.0,270.9 L749.4,270.1 L749.8,269.3 L750.2,268.7 L750.6,268.2 L751.0,267.7 L751.4,267.4 L751.8,267.1 L752.2,266.9 L752.6,266.8 L753.0,266.8 L753.4,266.8 L753.8,266.9 L754.2,267.1 L754.6,267.3 L755.0,267.7 L755.4,268.1 L755.8,268.6 L756.2,269.2 L756.5,270.0 L756.9,270.8 L757.3,271.8 L757.7,272.9 L758.1,274.1 L758.5,275.5 L758.9,277.1 L759.3,278.8 L759.7,280.8 L760.1,283.2 L760.5,285.8 L760.9,288.7 L761.3,291.8 L761.7,294.9 L762.1,298.0 L762.5,300.9 L762.9,303.7 L763.3,306.3 L763.6,308.8 L764.0,311.3 L764.4,313.8 L764.8,316.4 L765.2,319.0 L765.6,321.9 L766.0,325.1 L766.4,328.6 L766.8,332.3 L767.2,336.1 L767.6,340.1 L768.0,344.3 L768.4,348.4 L768.8,352.6 L769.2,357.0 L769.6,361.3 L770.0,365.3 L770.4,368.9 L770.7,371.9 L771.1,374.4 L771.5,376.6 L771.9,378.3 L772.3,379.7 L772.7,380.7 L773.1,381.3 L773.5,381.7 L773.9,381.8 L774.3,381.4 L774.7,380.2 L775.1,378.1 L775.5,375.4 L775.9,372.1 L776.3,368.3 L776.7,364.2 L777.1,359.7 L777.5,354.7 L777.9,349.6 L778.3,344.7 L778.7,340.5 L779.1,337.0 L779.5,334.3 L779.9,332.0 L780.3,330.0 L780.7,328.2 L781.1,326.6 L781.5,325.0 L781.8,323.5 L782.2,322.0 L782.6,320.4 L783.0,318.8 L783.4,317.3 L783.8,315.9 L784.2,314.5 L784.6,313.2 L785.0,312.0 L785.4,310.9 L785.8,309.9 L786.2,308.9 L786.6,308.1 L787.0,307.3 L787.4,306.6 L787.8,306.1 L788.2,305.6 L788.6,305.2 L789.0,304.9 L789.4,304.8 L789.8,304.7 L790.2,304.7 L790.6,304.8 L791.0,305.0 L791.4,305.2 L791.8,305.5 L792.2,305.9 L792.5,306.3 L792.9,306.9 L793.3,307.5 L793.7,308.2 L794.1,309.0 L794.5,309.8 L794.9,310.8 L795.3,311.8 L795.7,313.0 L796.1,314.2 L796.5,315.5 L796.9,317.0 L797.3,318.5 L797.7,320.2 L798.0,321.9 L798.4,323.9 L798.8,325.9 L799.2,328.2 L799.6,330.6 L800.0,333.2 L800.4,336.1 L800.8,339.3 L801.2,343.0 L801.6,347.1 L802.0,351.4 L802.4,355.8 L802.8,360.1 L803.2,364.1 L803.5,368.0 L803.9,371.8 L804.3,375.6 L804.7,379.5 L805.1,383.4 L805.5,387.3 L805.9,391.1 L806.3,394.9 L806.7,398.8 L807.1,402.6 L807.5,406.7 L807.9,410.8 L808.3,414.8 L808.7,418.8 L809.0,422.7 L809.4,426.6 L809.8,430.2 L810.2,433.5 L810.6,436.4 L811.0,438.3 L811.4,439.0 L811.8,438.1 L812.2,435.6 L812.6,431.7 L813.0,426.9 L813.4,421.4 L813.8,415.5 L814.2,409.3 L814.6,403.1 L815.0,397.0 L815.4,391.2 L815.8,385.7 L816.2,380.7 L816.6,376.0 L817.0,371.7 L817.4,367.6 L817.8,363.7 L818.2,360.0 L818.6,356.5 L819.0,353.0 L819.4,349.7 L819.8,346.5 L820.2,343.4 L820.6,340.4 L821.0,337.6 L821.4,334.9 L821.8,332.3 L822.2,329.8 L822.6,327.5 L823.0,325.3 L823.3,323.1 L823.7,321.1 L824.1,319.1 L824.5,317.2 L824.9,315.5 L825.3,313.8 L825.7,312.3 L826.1,310.8 L826.5,309.5 L826.9,308.3 L827.3,307.2 L827.7,306.2 L828.1,305.3 L828.5,304.4 L828.9,303.6 L829.3,302.9 L829.7,302.3 L830.1,301.7 L830.5,301.2 L830.9,300.7 L831.3,300.3 L831.7,300.0 L832.1,299.7 L832.5,299.4 L832.9,299.2 L833.3,299.1 L833.7,298.9 L834.1,298.9 L834.5,298.8 L834.9,298.8 L835.3,298.8 L835.7,298.9 L836.1,298.9 L836.5,299.1 L836.9,299.2 L837.3,299.4 L837.7,299.6 L838.1,299.9 L838.5,300.3 L838.9,300.7 L839.3,301.1 L839.7,301.7 L840.1,302.2 L840.5,302.9 L840.9,303.6 L841.3,304.4 L841.7,305.3 L842.1,306.2 L842.5,307.3 L842.9,308.5 L843.3,309.8 L843.7,311.3 L844.1,312.9 L844.5,314.6 L844.9,316.4 L845.3,318.4 L845.7,320.3 L846.1,322.4 L846.5,324.5 L846.9,326.8 L847.3,329.2 L847.7,331.8 L848.1,334.4 L848.5,337.1 L848.9,339.8 L849.3,342.5 L849.7,345.2 L850.1,347.7 L850.5,350.2 L850.9,352.6 L851.3,355.0 L851.7,357.3 L852.1,359.7 L852.5,362.0 L852.9,364.3 L853.3,366.6 L853.7,368.9 L854.1,371.3 L854.5,373.6 L854.9,376.1 L855.2,378.6 L855.6,381.0 L856.0,383.5 L856.4,385.9 L856.8,388.4 L857.2,390.9 L857.6,393.4 L858.0,396.0 L858.4,398.7 L858.8,401.5 L859.2,404.4 L859.6,407.5 L860.0,410.8 L860.4,414.3 L860.8,418.1 L861.2,422.0 L861.6,426.1 L862.0,430.2 L862.4,434.3 L862.8,438.4 L863.2,442.3 L863.6,445.9 L864.0,449.2 L864.4,452.9 L864.8,457.6 L865.2,463.3 L865.6,469.6 L866.0,476.4 L866.4,483.2 L866.8,489.6 L867.2,495.5 L867.6,501.3 L868.0,506.9 L868.4,512.7 L868.8,518.8 L869.2,525.3 L869.6,532.2 L870.0,539.5 L870.4,547.1 L870.8,555.2 L871.2,563.6 L871.6,572.5 L872.0,581.9 L872.4,591.6 L872.8,601.8 L873.2,612.1 L873.6,622.5 L874.0,632.5 L874.4,641.6 L874.8,649.1 L875.2,654.0 L875.6,655.8 L876.0,654.3 L876.4,649.9 L876.8,643.1 L877.2,634.5 L877.6,624.5 L878.0,614.1 L878.4,603.8 L878.8,594.1 L879.2,585.4 L879.6,577.5 L880.0,569.9 L880.4,562.6 L880.8,555.1 L881.2,547.3 L881.6,539.2 L882.0,531.0 L882.4,522.8 L882.8,514.9 L883.2,507.4 L883.6,500.3 L883.9,493.5 L884.3,486.9 L884.7,480.5 L885.1,474.5 L885.5,469.0 L885.9,463.9 L886.3,459.0 L886.7,454.3 L887.1,449.7 L887.5,445.4 L887.9,441.5 L888.3,437.8 L888.7,434.6 L889.1,431.8 L889.5,429.4 L889.9,427.5 L890.3,426.0 L890.7,424.6 L891.1,423.2 L891.5,421.4 L891.9,419.2 L892.3,416.2 L892.7,412.4 L893.1,408.2 L893.5,403.7 L893.9,399.1 L894.3,394.5 L894.7,390.2 L895.1,386.2 L895.5,382.7 L895.9,379.2 L896.3,375.8 L896.7,372.5 L897.1,369.2 L897.5,366.1 L897.9,363.1 L898.3,360.1 L898.7,357.3 L899.1,354.6 L899.5,352.0 L899.8,349.5 L900.2,347.2 L900.6,344.9 L901.0,342.7 L901.4,340.6 L901.8,338.5 L902.2,336.5 L902.6,334.6 L903.0,332.7 L903.4,330.9 L903.8,329.2 L904.2,327.4 L904.6,325.8 L905.0,324.1 L905.4,322.5 L905.8,320.9 L906.2,319.4 L906.6,317.9 L907.0,316.5 L907.4,315.0 L907.8,313.6 L908.2,312.3 L908.6,311.0 L909.0,309.7 L909.4,308.4 L909.8,307.2 L910.2,306.0 L910.6,304.8 L911.0,303.7 L911.4,302.6 L911.8,301.5 L912.2,300.5 L912.6,299.5 L913.0,298.5 L913.4,297.5 L913.8,296.6 L914.2,295.7 L914.6,294.8 L915.0,293.9 L915.4,293.1 L915.7,292.2 L916.1,291.4 L916.5,290.6 L916.9,289.9 L917.3,289.1 L917.7,288.4 L918.1,287.6 L918.5,286.9 L918.9,286.2 L919.3,285.5 L919.7,284.9 L920.1,284.2 L920.5,283.6 L920.9,283.0 L921.3,282.3 L921.7,281.7 L922.1,281.1 L922.5,280.6 L922.9,280.0 L923.3,279.5 L923.7,279.0 L924.1,278.4 L924.5,277.9 L924.9,277.5 L925.3,277.0 L925.7,276.5 L926.1,276.1 L926.5,275.6 L926.9,275.2 L927.3,274.8 L927.7,274.4 L928.1,274.0 L928.5,273.6 L928.9,273.2 L929.3,272.9 L929.7,272.5 L930.1,272.2 L930.5,271.9 L930.9,271.5 L931.2,271.2 L931.6,270.9 L932.0,270.6 L932.4,270.4 L932.8,270.1 L933.2,269.9 L933.6,269.6 L934.0,269.4 L934.4,269.2 L934.8,269.0 L935.2,268.9 L935.6,268.7 L936.0,268.6 L936.4,268.4 L936.8,268.3 L937.2,268.2 L937.6,268.1 L938.0,268.1 L938.4,268.0 L938.8,268.0 L939.2,268.0 L939.6,268.0 L940.0,268.0 L940.4,268.0 L940.8,268.1 L941.2,268.1 L941.6,268.1 L942.0,268.2 L942.4,268.2 L942.8,268.3 L943.2,268.4 L943.6,268.5 L944.0,268.5 L944.4,268.6 L944.8,268.8 L945.2,268.9 L945.6,269.0 L946.0,269.1 L946.4,269.3 L946.8,269.4 L947.2,269.6 L947.6,269.8 L948.0,270.0 L948.4,270.2 L948.8,270.4 L949.2,270.6 L949.6,270.8 L950.0,271.1 L950.4,271.3 L950.8,271.6 L951.2,271.9 L951.6,272.2 L952.0,272.5 L952.4,272.8 L952.8,273.1 L953.2,273.5 L953.6,273.8 L954.0,274.2 L954.4,274.6 L954.8,275.0 L955.2,275.5 L955.6,276.0 L956.0,276.4 L956.4,276.9 L956.8,277.4 L957.2,278.0 L957.6,278.5 L958.0,279.1 L958.4,279.7 L958.8,280.3 L959.2,280.9 L959.6,281.5 L960.0,282.2 L960.4,282.8 L960.8,283.5 L961.2,284.2 L961.6,284.9 L962.0,285.6 L962.4,286.3 L962.8,287.0 L963.2,287.7 L963.6,288.4 L964.0,289.1 L964.4,289.8 L964.8,290.6 L965.2,291.3 L965.6,292.0 L966.0,292.8 L966.4,293.5 L966.8,294.3 L967.2,295.0 L967.6,295.8 L968.0,296.6 L968.4,297.4 L968.8,298.2 L969.2,299.0 L969.6,299.8 L970.0,300.6 L970.4,301.4 L970.8,302.2 L971.2,303.1 L971.6,303.9 L972.0,304.8 L972.4,305.6 L972.8,306.5 L973.2,307.4 L973.6,308.3 L974.0,309.2 L974.4,310.1 L974.8,311.0 L975.2,311.9 L975.6,312.9 L976.0,313.8 L976.4,314.7 L976.8,315.7 L977.2,316.6 L977.6,317.6 L978.0,318.5 L978.4,319.5 L978.8,320.5 L979.2,321.5 L979.6,322.5 L980.0,323.5 L980.4,324.6 L980.8,325.6 L981.2,326.7 L981.6,327.8 L982.0,328.9 L982.4,330.0 L982.8,331.1 L983.2,332.3 L983.6,333.5 L984.0,334.7 L984.4,335.9 L984.8,337.2 L985.2,338.4 L985.6,339.7 L986.0,341.0 L986.4,342.4 L986.8,343.7 L987.2,345.1 L987.6,346.4 L988.0,347.8 L988.4,349.2 L988.8,350.7 L989.2,352.1 L989.6,353.5 L990.0,355.0 L990.4,356.4 L990.8,357.9 L991.2,359.4 L991.6,360.9 L992.0,362.5 L992.4,364.1 L992.8,365.6 L993.2,367.2 L993.6,368.9 L994.0,370.5 L994.4,372.1 L994.8,373.8 L995.2,375.4 L995.6,377.1 L996.0,378.8 L996.4,380.4 L996.8,382.1 L997.2,383.8 L997.6,385.5 L998.0,387.1 L998.4,388.8 L998.8,390.5 L999.2,392.2 L999.6,393.9 L1000.0,395.6 L1000.4,397.3 L1000.8,399.1 L1001.2,400.8 L1001.6,402.6 L1002.0,404.3 L1002.4,406.1 L1002.8,407.8 L1003.2,409.6 L1003.6,411.4 L1004.0,413.2 L1004.4,415.0 L1004.8,416.8 L1005.2,418.7 L1005.6,420.6 L1006.0,422.6 L1006.4,424.6 L1006.8,426.6 L1007.2,428.6 L1007.6,430.5 L1008.0,432.5 L1008.4,434.4 L1008.8,436.3 L1009.2,438.1 L1009.6,439.8 L1010.0,441.5 L1010.4,443.0 L1010.8,444.4 L1011.2,445.6 L1011.6,446.7 L1012.0,447.8 L1012.4,448.9 L1012.8,450.0 L1013.2,451.2 L1013.6,452.6 L1014.0,454.1 L1014.4,455.9 L1014.8,458.0 L1015.2,460.3 L1015.6,462.8 L1016.0,465.4 L1016.4,468.2 L1016.8,471.1 L1017.2,474.0 L1017.6,476.9 L1018.0,479.8 L1018.4,482.6 L1018.8,485.2 L1019.2,487.8 L1019.6,490.4 L1020.0,493.0 L1020.4,495.6 L1020.8,498.2 L1021.2,500.9 L1021.6,503.5 L1022.0,506.1 L1022.4,508.7 L1022.8,511.4 L1023.2,514.1 L1023.6,516.7 L1024.0,519.4 L1024.4,522.1 L1024.8,524.8 L1025.2,527.6 L1025.6,530.3 L1026.0,533.1 L1026.4,535.9 L1026.8,538.7 L1027.2,541.5 L1027.6,544.3 L1028.0,547.2 L1028.4,550.0 L1028.8,552.9 L1029.2,555.8 L1029.6,558.7 L1030.0,561.5 L1030.4,564.5 L1030.8,567.4 L1031.2,570.4 L1031.6,573.5 L1032.0,576.7 L1032.4,580.0 L1032.8,583.3 L1033.2,586.8 L1033.6,590.5 L1034.0,594.2 L1034.4,598.0 L1034.8,601.9 L1035.2,606.0 L1035.6,610.2 L1036.0,614.4 L1036.4,618.9 L1036.8,623.5 L1037.2,628.4 L1037.6,633.7 L1038.0,639.1 L1038.4,644.7 L1038.8,650.4 L1039.2,656.0 L1039.6,661.4 L1040.0,666.4 L1040.4,671.1 L1040.8,675.5 L1041.2,679.8 L1041.6,684.0 L1042.0,688.1 L1042.4,692.4 L1042.8,696.8 L1043.2,701.6 L1043.6,706.8 L1044.0,712.6 L1044.4,718.8 L1044.8,725.5 L1045.2,732.5 L1045.6,739.7 L1046.0,747.0 L1046.4,754.3 L1046.8,761.6 L1047.2,769.4 L1047.6,778.0 L1048.0,787.5 L1048.4,797.7 L1048.8,808.7 L1049.2,820.6 L1049.6,833.3 L1050.0,846.9 L1050.4,860.9 L1050.8,874.9 L1051.2,887.4 L1051.6,896.5 L1052.0,900.0" stroke="#0000ff" stroke-width="4.2" stroke-dasharray="17.5 5.3 6.8 5.7"/>
<path d="M108.7,29.0 L109.1,29.1 L109.5,29.4 L109.9,29.9 L110.3,30.5 L110.7,31.3 L111.1,32.2 L111.5,33.3 L111.9,34.5 L112.3,35.9 L112.7,37.3 L113.1,38.8 L113.5,40.5 L113.9,42.2 L114.3,43.9 L114.7,45.8 L115.1,47.7 L115.5,49.6 L115.9,51.6 L116.3,53.5 L116.7,55.5 L117.1,57.4 L117.5,59.3 L117.9,61.3 L118.3,63.4 L118.7,65.6 L119.1,68.0 L119.4,70.6 L119.8,73.2 L120.2,76.0 L120.6,78.9 L121.0,81.9 L121.4,85.1 L121.8,88.4 L122.2,91.8 L122.6,95.3 L123.0,99.1 L123.4,103.2 L123.8,108.0 L124.2,113.6 L124.6,119.5 L125.0,125.0 L125.4,129.3 L125.8,133.2 L126.2,136.9 L126.6,140.3 L127.0,143.6 L127.4,146.8 L127.8,150.0 L128.2,153.3 L128.6,156.7 L129.0,160.3 L129.4,163.8 L129.8,167.4 L130.2,171.1 L130.6,174.7 L131.0,178.3 L131.4,181.9 L131.8,185.4 L132.2,188.9 L132.6,192.2 L133.0,195.5 L133.4,198.8 L133.8,201.9 L134.2,205.1 L134.6,208.2 L135.0,211.2 L135.4,214.2 L135.8,217.2 L136.2,220.1 L136.6,222.9 L137.0,225.6 L137.4,228.3 L137.8,230.9 L138.2,233.5 L138.6,236.0 L139.0,238.5 L139.4,240.9 L139.8,243.3 L140.1,245.5 L140.5,247.6 L140.9,249.8 L141.3,252.2 L141.7,254.6 L142.1,257.4 L142.5,260.6 L142.9,264.0 L143.3,267.4 L143.7,270.8 L144.1,273.9 L144.5,276.9 L144.9,279.8 L145.3,282.1 L145.7,284.0 L146.1,285.7 L146.5,287.3 L146.9,288.6 L147.3,289.7 L147.7,290.7 L148.1,291.4 L148.5,292.0 L148.9,292.4 L149.3,292.7 L149.7,292.9 L150.1,293.0 L150.5,293.0 L150.9,293.0 L151.3,293.0 L151.7,293.0 L152.1,293.0 L152.5,292.9 L152.8,292.8 L153.2,292.6 L153.6,292.4 L154.0,292.1 L154.4,291.7 L154.8,291.2 L155.2,290.6 L155.6,289.8 L156.0,288.9 L156.4,287.9 L156.8,286.8 L157.2,285.6 L157.6,284.3 L157.9,282.8 L158.3,280.6 L158.7,278.1 L159.1,275.5 L159.5,272.9 L159.9,270.3 L160.3,267.9 L160.7,265.7 L161.1,263.7 L161.5,262.0 L161.9,260.5 L162.2,259.4 L162.6,258.5 L163.0,257.9 L163.4,257.5 L163.8,257.2 L164.2,257.0 L164.6,257.0 L165.0,257.0 L165.4,257.1 L165.8,257.3 L166.2,257.7 L166.5,258.4 L166.9,259.4 L167.3,261.6 L167.7,264.9 L168.1,268.0 L168.5,270.1 L168.9,272.1 L169.2,274.4 L169.6,278.2 L170.0,283.5 L170.4,288.2 L170.8,293.4 L171.2,302.3 L171.6,314.3 L172.0,325.3 L172.3,330.6 L172.7,333.7 L173.1,336.4 L173.5,340.2 L173.9,346.2 L174.3,353.9 L174.7,362.4 L175.1,370.6 L175.4,379.3 L175.8,389.5 L176.2,401.7 L176.6,413.5 L177.0,419.0 L177.4,410.0 L177.8,390.0 L178.2,369.5 L178.6,353.3 L179.0,342.0 L179.4,335.2 L179.8,331.8 L180.2,329.4 L180.6,327.5 L181.0,326.1 L181.4,324.9 L181.8,324.0 L182.1,323.2 L182.5,322.5 L182.9,321.9 L183.3,321.4 L183.7,320.8 L184.1,320.3 L184.5,319.8 L184.9,319.2 L185.3,318.7 L185.7,318.3 L186.1,318.1 L186.5,318.0 L186.9,319.8 L187.3,324.6 L187.7,331.1 L188.1,338.3 L188.5,345.1 L188.9,351.4 L189.3,357.2 L189.7,362.7 L190.1,368.3 L190.5,373.7 L190.9,379.0 L191.3,383.9 L191.7,388.2 L192.1,391.9 L192.5,394.8 L192.9,397.0 L193.3,398.5 L193.7,399.4 L194.1,399.9 L194.5,400.0 L194.9,399.7 L195.3,398.7 L195.7,396.8 L196.1,393.7 L196.5,389.6 L196.9,384.3 L197.3,378.1 L197.7,371.2 L198.1,363.8 L198.5,356.1 L198.9,348.3 L199.3,338.6 L199.7,327.6 L200.1,317.6 L200.4,310.1 L200.8,306.0 L201.2,304.6 L201.6,303.5 L202.0,302.5 L202.4,301.6 L202.8,300.9 L203.2,300.3 L203.6,299.7 L204.0,299.3 L204.4,298.9 L204.8,298.5 L205.2,298.2 L205.6,297.9 L206.0,297.5 L206.4,297.2 L206.8,296.8 L207.2,296.4 L207.6,295.9 L208.0,295.4 L208.4,294.8 L208.8,294.1 L209.2,293.2 L209.6,292.3 L210.0,291.3 L210.4,290.2 L210.8,289.1 L211.2,287.8 L211.6,286.5 L211.9,285.2 L212.3,283.8 L212.7,282.3 L213.1,280.9 L213.5,279.4 L213.9,278.0 L214.3,276.6 L214.7,275.2 L215.1,273.6 L215.5,271.9 L215.9,270.4 L216.3,269.0 L216.7,267.9 L217.1,267.2 L217.5,267.0 L217.9,267.0 L218.3,267.1 L218.7,267.3 L219.1,267.5 L219.5,267.8 L219.9,268.2 L220.3,268.6 L220.7,269.1 L221.1,269.7 L221.5,270.3 L221.9,271.0 L222.3,271.8 L222.7,272.7 L223.1,273.6 L223.5,274.6 L223.9,275.6 L224.3,276.7 L224.7,278.0 L225.1,279.4 L225.5,281.0 L225.9,282.8 L226.3,284.9 L226.7,287.6 L227.1,291.6 L227.5,297.6 L227.9,302.8 L228.3,307.0 L228.7,309.5 L229.1,311.3 L229.5,313.4 L229.9,317.5 L230.3,324.0 L230.7,329.0 L231.1,334.5 L231.5,341.3 L231.9,349.2 L232.3,359.1 L232.7,368.7 L233.1,375.1 L233.5,379.9 L233.9,384.1 L234.3,387.8 L234.7,391.3 L235.1,395.0 L235.5,399.0 L235.9,402.8 L236.3,406.5 L236.7,410.3 L237.1,414.3 L237.5,418.6 L237.9,423.5 L238.3,428.9 L238.7,434.5 L239.1,440.5 L239.5,446.9 L239.9,453.6 L240.3,460.7 L240.7,468.1 L241.1,475.5 L241.5,483.0 L241.9,490.3 L242.3,497.7 L242.7,505.7 L243.1,514.6 L243.5,525.0 L243.9,537.4 L244.3,552.1 L244.7,569.3 L245.1,589.8 L245.5,614.1 L245.9,643.0 L246.3,677.9 L246.7,716.4 L247.1,737.6 L247.5,675.2 L247.9,620.9 L248.3,587.7 L248.7,563.9 L249.1,544.4 L249.5,526.2 L249.9,509.4 L250.3,494.3 L250.7,478.9 L251.1,463.2 L251.5,446.6 L251.9,427.2 L252.2,396.9 L252.6,363.9 L253.0,337.4 L253.4,319.5 L253.8,309.3 L254.2,304.8 L254.6,302.7 L255.0,301.3 L255.4,300.5 L255.8,300.1 L256.2,300.0 L256.6,300.0 L257.0,300.1 L257.4,300.3 L257.8,300.6 L258.2,301.1 L258.6,301.8 L259.0,302.6 L259.4,303.6 L259.8,304.7 L260.2,306.0 L260.6,307.4 L261.0,309.1 L261.4,310.9 L261.8,312.8 L262.2,315.0 L262.6,317.3 L263.0,319.8 L263.4,322.5 L263.7,325.4 L264.1,328.3 L264.5,331.4 L264.9,334.5 L265.3,337.8 L265.7,341.2 L266.1,344.8 L266.5,348.7 L266.9,353.0 L267.3,357.6 L267.7,362.6 L268.1,368.1 L268.5,374.1 L268.9,380.7 L269.3,387.7 L269.7,393.9 L270.1,398.4 L270.5,400.0 L270.9,397.2 L271.3,389.9 L271.7,379.8 L272.1,368.9 L272.5,358.2 L272.9,348.3 L273.2,339.5 L273.6,331.8 L274.0,325.3 L274.4,319.7 L274.8,315.2 L275.2,311.4 L275.6,308.3 L276.0,305.8 L276.4,303.6 L276.8,301.8 L277.2,300.3 L277.6,299.1 L277.9,298.2 L278.3,297.5 L278.7,297.0 L279.1,296.7 L279.5,296.5 L279.9,296.4 L280.3,296.4 L280.7,296.5 L281.1,296.6 L281.5,296.9 L281.9,297.3 L282.3,297.7 L282.7,298.3 L283.1,298.9 L283.5,299.6 L283.9,300.4 L284.3,301.3 L284.7,302.3 L285.1,303.3 L285.5,304.4 L285.8,305.6 L286.2,306.8 L286.6,308.1 L287.0,309.4 L287.4,310.8 L287.8,312.2 L288.2,313.7 L288.6,315.1 L289.0,316.6 L289.4,318.1 L289.8,319.7 L290.2,321.2 L290.6,322.9 L291.0,324.6 L291.4,326.3 L291.8,328.2 L292.2,330.1 L292.6,332.1 L293.0,334.3 L293.4,336.7 L293.8,339.0 L294.2,341.2 L294.6,343.5 L295.0,346.2 L295.4,349.6 L295.8,354.1 L296.1,361.9 L296.5,374.0 L296.9,398.5 L297.3,427.3 L297.7,440.8 L298.1,451.1 L298.5,459.6 L298.9,467.9 L299.3,477.9 L299.7,487.8 L300.1,497.6 L300.5,513.0 L300.9,554.8 L301.3,680.7 L301.7,666.8 L302.1,633.5 L302.5,596.6 L302.9,562.8 L303.3,533.4 L303.7,507.9 L304.1,485.7 L304.5,466.8 L304.9,448.0 L305.3,426.7 L305.6,395.0 L306.0,365.3 L306.4,347.4 L306.8,338.1 L307.2,331.2 L307.6,324.5 L308.0,317.4 L308.4,310.5 L308.8,304.2 L309.2,298.5 L309.6,293.5 L310.0,289.3 L310.4,285.7 L310.8,282.6 L311.2,279.8 L311.6,277.3 L312.0,275.1 L312.4,273.0 L312.8,271.1 L313.2,269.4 L313.6,267.8 L314.0,266.3 L314.4,265.0 L314.7,263.8 L315.1,262.7 L315.5,261.8 L315.9,261.0 L316.3,260.3 L316.7,259.7 L317.1,259.3 L317.5,258.9 L317.9,258.7 L318.3,258.5 L318.7,258.5 L319.1,258.5 L319.5,258.7 L319.9,258.9 L320.3,259.2 L320.7,259.7 L321.1,260.3 L321.5,261.0 L321.9,261.8 L322.2,262.8 L322.6,264.0 L323.0,265.3 L323.4,266.8 L323.8,268.5 L324.2,270.4 L324.6,272.5 L325.0,274.7 L325.4,277.3 L325.8,280.1 L326.2,283.3 L326.6,286.8 L327.0,290.8 L327.4,295.4 L327.8,300.7 L328.2,307.2 L328.5,315.4 L328.9,323.9 L329.3,331.9 L329.7,340.6 L330.1,349.5 L330.5,358.2 L330.9,366.1 L331.3,372.4 L331.7,377.4 L332.1,381.8 L332.5,385.7 L332.9,389.3 L333.3,392.6 L333.7,395.8 L334.1,398.7 L334.5,400.9 L334.9,402.8 L335.2,404.5 L335.6,406.4 L336.0,408.6 L336.4,411.4 L336.8,415.2 L337.2,420.1 L337.6,433.1 L338.0,452.5 L338.4,462.0 L338.8,456.9 L339.2,444.5 L339.6,430.7 L340.0,417.8 L340.4,405.3 L340.8,393.7 L341.2,383.3 L341.5,374.1 L341.9,366.2 L342.3,359.4 L342.7,353.8 L343.1,349.4 L343.5,346.1 L343.9,343.6 L344.3,341.7 L344.7,339.9 L345.1,338.1 L345.5,335.9 L345.9,333.1 L346.3,329.1 L346.7,322.9 L347.0,316.0 L347.4,309.4 L347.8,304.0 L348.2,299.4 L348.6,295.2 L349.0,291.1 L349.4,286.9 L349.8,282.6 L350.2,278.4 L350.6,274.4 L351.0,270.9 L351.4,267.7 L351.8,264.8 L352.2,262.3 L352.5,260.2 L352.9,258.4 L353.3,256.9 L353.7,255.7 L354.1,254.8 L354.5,254.2 L354.9,253.8 L355.3,253.7 L355.7,253.9 L356.1,254.6 L356.5,255.7 L356.9,257.1 L357.3,258.9 L357.7,261.1 L358.1,263.5 L358.5,266.2 L358.9,269.1 L359.3,272.4 L359.7,276.3 L360.1,280.6 L360.5,285.3 L360.9,290.0 L361.3,294.5 L361.7,298.9 L362.1,304.3 L362.4,311.6 L362.8,321.2 L363.2,334.8 L363.6,361.7 L364.0,380.4 L364.4,388.9 L364.8,394.9 L365.2,400.4 L365.6,405.6 L366.0,410.2 L366.4,414.4 L366.8,418.8 L367.2,422.9 L367.6,426.7 L368.0,430.8 L368.4,435.5 L368.8,440.0 L369.2,442.0 L369.6,432.2 L370.0,362.9 L370.4,353.0 L370.8,348.5 L371.2,343.7 L371.5,339.7 L371.9,336.3 L372.3,333.6 L372.7,330.6 L373.1,325.4 L373.5,320.7 L373.9,318.0 L374.3,315.9 L374.7,314.2 L375.1,312.5 L375.5,311.0 L375.8,309.7 L376.2,308.7 L376.6,307.9 L377.0,307.3 L377.4,306.9 L377.8,306.8 L378.2,307.2 L378.6,308.2 L379.0,309.8 L379.4,311.9 L379.7,314.6 L380.1,317.8 L380.5,321.2 L380.9,325.1 L381.3,329.6 L381.7,334.6 L382.1,340.4 L382.5,347.3 L382.9,354.7 L383.3,361.4 L383.6,367.0 L384.0,371.9 L384.4,376.7 L384.8,381.8 L385.2,387.9 L385.6,395.8 L386.0,407.6 L386.4,423.5 L386.8,441.3 L387.2,459.5 L387.5,479.4 L387.9,500.3 L388.3,520.3 L388.7,535.6 L389.1,541.5 L389.5,539.0 L389.9,532.2 L390.3,522.3 L390.7,510.5 L391.1,498.0 L391.5,485.5 L391.9,473.4 L392.3,461.8 L392.7,450.8 L393.1,440.5 L393.5,431.1 L393.9,422.3 L394.3,414.0 L394.7,406.0 L395.1,398.0 L395.5,389.8 L395.9,381.4 L396.3,373.1 L396.7,365.5 L397.1,358.8 L397.5,353.2 L397.9,348.8 L398.3,345.1 L398.7,341.9 L399.1,339.0 L399.5,336.3 L399.9,333.5 L400.3,330.7 L400.7,327.5 L401.1,324.1 L401.5,319.9 L401.9,315.4 L402.3,310.9 L402.7,306.8 L403.1,303.3 L403.5,300.6 L403.9,298.4 L404.3,296.4 L404.7,294.7 L405.1,293.1 L405.5,291.7 L405.9,290.4 L406.3,289.2 L406.7,288.1 L407.1,287.1 L407.5,286.1 L407.9,285.1 L408.3,284.1 L408.7,283.3 L409.1,282.5 L409.5,281.8 L409.9,281.2 L410.3,280.7 L410.7,280.3 L411.1,279.9 L411.5,279.7 L411.9,279.5 L412.3,279.5 L412.7,279.6 L413.1,279.7 L413.5,280.0 L413.9,280.4 L414.3,281.0 L414.7,281.7 L415.1,282.6 L415.5,283.7 L415.9,284.9 L416.3,286.3 L416.7,287.9 L417.1,289.7 L417.5,291.8 L417.9,294.0 L418.3,296.6 L418.7,299.5 L419.1,302.9 L419.5,306.5 L419.9,310.2 L420.3,313.9 L420.7,317.7 L421.1,321.6 L421.5,325.6 L421.9,329.7 L422.3,333.8 L422.7,337.8 L423.1,341.5 L423.5,344.9 L423.9,348.4 L424.3,352.2 L424.7,356.6 L425.1,362.1 L425.5,370.3 L425.9,379.2 L426.3,385.4 L426.7,390.2 L427.1,394.5 L427.5,398.2 L427.9,401.2 L428.3,403.4 L428.7,405.0 L429.1,405.9 L429.5,406.4 L429.9,406.6 L430.3,406.7 L430.7,406.7 L431.1,405.0 L431.5,400.5 L431.9,394.1 L432.3,386.7 L432.7,379.0 L433.0,371.5 L433.4,364.3 L433.8,357.6 L434.2,351.5 L434.6,346.0 L435.0,341.1 L435.4,336.9 L435.8,333.3 L436.2,330.2 L436.6,327.5 L436.9,325.0 L437.3,322.8 L437.7,320.6 L438.1,318.5 L438.5,316.6 L438.9,314.9 L439.3,313.3 L439.7,311.9 L440.1,310.6 L440.5,309.5 L440.9,308.6 L441.2,307.8 L441.6,307.1 L442.0,306.6 L442.4,306.3 L442.8,306.1 L443.2,306.0 L443.6,306.1 L444.0,306.3 L444.4,306.7 L444.8,307.3 L445.2,308.0 L445.6,308.9 L445.9,309.9 L446.3,311.0 L446.7,312.3 L447.1,313.6 L447.5,315.0 L447.9,316.5 L448.3,318.1 L448.7,319.7 L449.1,321.2 L449.5,322.8 L449.9,324.3 L450.3,325.7 L450.6,327.0 L451.0,328.2 L451.4,329.1 L451.8,329.9 L452.2,330.5 L452.6,330.9 L453.0,331.0 L453.4,330.9 L453.8,330.6 L454.2,330.1 L454.6,329.4 L455.0,328.6 L455.4,327.7 L455.8,326.8 L456.2,325.9 L456.6,325.0 L457.0,324.1 L457.4,323.4 L457.8,322.8 L458.2,322.4 L458.6,322.1 L459.0,322.0 L459.4,322.0 L459.8,322.0 L460.2,322.0 L460.6,322.0 L461.0,322.0 L461.4,322.1 L461.8,322.2 L462.1,322.4 L462.5,322.8 L462.9,323.3 L463.3,324.2 L463.7,325.5 L464.1,327.3 L464.5,330.0 L464.9,333.7 L465.3,338.9 L465.7,345.9 L466.1,448.9 L466.5,483.4 L466.9,521.6 L467.2,563.4 L467.6,607.9 L468.0,651.6 L468.4,687.2 L468.8,707.8 L469.2,714.9 L469.6,716.2 L470.0,716.3 L470.4,659.4 L470.8,586.3 L471.2,531.9 L471.6,490.4 L472.0,457.3 L472.4,429.6 L472.8,404.3 L473.2,382.1 L473.6,362.9 L474.0,345.1 L474.4,330.6 L474.8,320.3 L475.2,312.2 L475.6,305.6 L476.0,299.9 L476.4,294.9 L476.8,290.4 L477.2,286.2 L477.6,282.4 L478.0,279.0 L478.4,275.9 L478.8,273.1 L479.2,270.7 L479.6,268.5 L480.0,266.5 L480.4,264.8 L480.8,263.4 L481.2,262.1 L481.6,261.1 L482.0,260.3 L482.4,259.6 L482.8,259.1 L483.2,258.8 L483.6,258.6 L484.0,258.5 L484.4,258.5 L484.8,258.6 L485.2,258.7 L485.6,258.9 L486.0,259.2 L486.4,259.6 L486.8,260.0 L487.2,260.6 L487.6,261.3 L488.0,262.0 L488.4,262.9 L488.7,263.9 L489.1,265.1 L489.5,266.4 L489.9,267.8 L490.3,269.3 L490.7,271.2 L491.1,273.4 L491.5,275.8 L491.9,278.5 L492.3,281.2 L492.7,284.0 L493.1,286.7 L493.5,289.3 L493.9,291.7 L494.3,294.0 L494.7,296.2 L495.1,298.4 L495.5,300.5 L495.9,302.5 L496.3,304.5 L496.7,306.3 L497.1,308.1 L497.4,309.8 L497.8,311.3 L498.2,312.8 L498.6,314.1 L499.0,315.3 L499.4,316.3 L499.8,317.1 L500.2,317.8 L500.6,318.3 L501.0,318.7 L501.4,318.9 L501.8,319.0 L502.2,319.0 L502.6,318.9 L503.0,318.7 L503.4,318.5 L503.7,318.2 L504.1,317.8 L504.5,317.4 L504.9,316.9 L505.3,316.4 L505.7,315.9 L506.1,315.3 L506.5,314.7 L506.8,314.1 L507.2,313.5 L507.6,312.8 L508.0,312.2 L508.4,311.5 L508.8,310.9 L509.2,310.3 L509.6,309.7 L509.9,309.2 L510.3,308.7 L510.7,308.2 L511.1,307.7 L511.5,307.4 L511.9,307.0 L512.3,306.7 L512.7,306.5 L513.0,306.3 L513.4,306.1 L513.8,306.0 L514.2,306.0 L514.6,306.1 L515.0,306.4 L515.4,306.9 L515.8,307.5 L516.2,308.3 L516.6,309.2 L517.0,310.3 L517.3,311.5 L517.7,312.8 L518.1,314.2 L518.5,315.7 L518.9,317.3 L519.3,319.0 L519.7,320.7 L520.1,322.4 L520.5,324.1 L520.9,325.9 L521.3,327.6 L521.7,329.4 L522.1,331.2 L522.5,333.1 L522.9,335.0 L523.2,337.0 L523.6,339.0 L524.0,341.1 L524.4,343.1 L524.8,345.2 L525.2,347.2 L525.6,349.2 L526.0,351.2 L526.4,353.2 L526.8,355.2 L527.2,357.1 L527.6,359.0 L528.0,360.8 L528.4,362.5 L528.7,364.1 L529.1,365.6 L529.5,366.8 L529.9,367.9 L530.3,368.8 L530.7,369.5 L531.1,369.9 L531.5,370.0 L531.9,369.9 L532.3,369.6 L532.7,369.2 L533.1,368.5 L533.5,367.7 L533.9,366.7 L534.3,365.6 L534.7,364.4 L535.1,363.0 L535.5,361.5 L535.9,360.0 L536.3,358.3 L536.7,356.6 L537.1,354.9 L537.5,353.1 L537.9,351.2 L538.3,349.4 L538.7,347.5 L539.1,345.7 L539.5,343.8 L539.9,342.0 L540.3,340.2 L540.7,338.4 L541.1,336.7 L541.5,335.0 L541.9,333.4 L542.2,331.8 L542.6,330.3 L543.0,328.9 L543.4,327.5 L543.8,326.2 L544.2,324.9 L544.6,323.7 L545.0,322.6 L545.4,321.5 L545.8,320.4 L546.2,319.4 L546.6,318.4 L547.0,317.5 L547.4,316.6 L547.8,315.8 L548.2,315.1 L548.6,314.4 L549.0,313.7 L549.4,313.1 L549.8,312.6 L550.2,312.1 L550.6,311.7 L551.0,311.4 L551.4,311.1 L551.8,310.9 L552.2,310.7 L552.6,310.6 L553.0,310.6 L553.4,310.6 L553.8,310.8 L554.2,311.0 L554.6,311.3 L555.0,311.7 L555.4,312.3 L555.7,313.0 L556.1,313.9 L556.5,314.9 L556.9,316.2 L557.3,317.6 L557.7,319.2 L558.1,321.1 L558.5,323.2 L558.9,325.5 L559.3,328.2 L559.7,331.2 L560.1,334.8 L560.5,338.8 L560.9,343.6 L561.2,349.3 L561.6,356.9 L562.0,366.2 L562.4,374.8 L562.8,382.6 L563.2,390.2 L563.6,397.9 L564.0,405.7 L564.4,413.5 L564.8,421.2 L565.2,428.1 L565.6,435.1 L566.0,444.5 L566.3,457.4 L566.7,474.2 L567.1,496.6 L567.5,527.3 L567.9,572.5 L568.3,647.4 L568.7,751.8 L569.1,732.0 L569.5,696.1 L569.9,663.4 L570.3,637.1 L570.7,617.9 L571.1,602.2 L571.5,586.1 L571.9,567.2 L572.3,543.9 L572.7,519.2 L573.1,495.6 L573.5,474.3 L573.9,450.9 L574.3,418.5 L574.7,387.5 L575.1,376.9 L575.5,371.1 L575.9,366.6 L576.3,362.8 L576.7,359.6 L577.1,356.8 L577.5,354.5 L577.9,352.5 L578.3,350.9 L578.7,349.5 L579.1,348.3 L579.5,347.3 L579.9,346.5 L580.3,345.8 L580.7,345.1 L581.1,344.6 L581.5,344.0 L581.9,343.5 L582.3,342.9 L582.7,342.4 L583.1,341.7 L583.5,341.0 L583.9,340.2 L584.3,339.5 L584.7,338.8 L585.1,338.0 L585.5,337.2 L585.9,336.4 L586.3,335.5 L586.7,334.6 L587.1,333.6 L587.5,332.5 L587.9,331.3 L588.3,329.9 L588.7,328.2 L589.1,326.1 L589.5,324.0 L589.9,321.7 L590.3,319.4 L590.7,317.1 L591.1,314.6 L591.5,312.0 L591.9,309.3 L592.3,306.5 L592.7,303.6 L593.1,300.6 L593.5,297.7 L593.9,295.0 L594.3,292.4 L594.7,289.9 L595.1,287.4 L595.5,285.0 L595.9,282.6 L596.3,280.2 L596.7,277.9 L597.1,275.8 L597.5,274.0 L597.9,272.4 L598.3,270.9 L598.7,269.7 L599.1,268.6 L599.5,267.7 L599.9,266.9 L600.3,266.3 L600.7,265.9 L601.1,265.7 L601.5,265.6 L601.9,265.6 L602.3,265.7 L602.7,265.8 L603.1,266.0 L603.5,266.2 L603.9,266.5 L604.3,266.8 L604.7,267.2 L605.1,267.7 L605.5,268.2 L605.9,268.8 L606.3,269.4 L606.7,270.1 L607.1,270.9 L607.5,271.8 L607.9,272.7 L608.3,273.7 L608.7,274.8 L609.0,276.0 L609.4,277.2 L609.8,278.6 L610.2,280.1 L610.6,281.8 L611.0,283.7 L611.4,285.7 L611.8,287.8 L612.2,290.0 L612.6,292.3 L613.0,294.6 L613.4,296.9 L613.8,299.2 L614.2,301.3 L614.6,303.3 L615.0,305.4 L615.4,307.4 L615.8,309.5 L616.2,311.5 L616.6,313.5 L617.0,315.5 L617.4,317.4 L617.8,319.4 L618.2,321.3 L618.6,323.1 L619.0,324.9 L619.4,326.7 L619.8,328.4 L620.2,330.0 L620.6,331.7 L621.0,333.3 L621.4,334.8 L621.8,336.4 L622.2,337.9 L622.6,339.4 L623.0,341.0 L623.4,342.5 L623.7,344.1 L624.1,345.7 L624.5,347.2 L624.9,348.7 L625.3,350.2 L625.7,351.7 L626.1,353.2 L626.5,354.7 L626.9,356.2 L627.3,357.8 L627.7,359.5 L628.1,361.2 L628.5,363.0 L628.9,364.9 L629.3,366.8 L629.7,368.9 L630.1,371.0 L630.5,373.2 L630.9,375.4 L631.3,377.7 L631.7,380.0 L632.1,382.3 L632.5,384.7 L632.9,387.0 L633.3,389.4 L633.7,391.9 L634.1,394.4 L634.5,397.0 L634.9,399.9 L635.3,402.9 L635.7,406.2 L636.1,410.0 L636.5,414.2 L636.9,418.7 L637.3,423.4 L637.7,428.0 L638.1,432.2 L638.4,436.2 L638.8,440.0 L639.2,443.7 L639.6,447.4 L640.0,451.1 L640.4,455.0 L640.8,459.0 L641.2,462.9 L641.6,466.7 L642.0,470.7 L642.4,474.6 L642.8,478.6 L643.2,482.5 L643.6,486.1 L644.0,489.4 L644.4,492.3 L644.8,494.5 L645.2,495.9 L645.6,496.4 L646.0,496.2 L646.4,495.2 L646.8,493.3 L647.2,490.2 L647.6,485.9 L648.0,480.5 L648.4,473.8 L648.8,464.7 L649.2,455.6 L649.6,449.2 L650.0,444.7 L650.4,440.3 L650.8,434.2 L651.2,421.9 L651.6,405.1 L652.0,395.6 L652.4,388.1 L652.8,381.8 L653.2,375.6 L653.6,369.0 L654.0,362.6 L654.4,356.5 L654.8,350.7 L655.2,345.0 L655.6,339.5 L656.0,334.1 L656.4,328.8 L656.8,323.6 L657.2,318.7 L657.6,313.9 L658.0,309.4 L658.4,305.1 L658.8,300.8 L659.2,296.7 L659.6,292.9 L660.0,289.3 L660.4,286.0 L660.8,283.0 L661.2,280.3 L661.6,277.9 L662.0,275.9 L662.4,274.0 L662.8,272.2 L663.2,270.6 L663.6,269.1 L664.0,267.7 L664.4,266.5 L664.8,265.4 L665.2,264.4 L665.6,263.6 L666.0,262.8 L666.4,262.1 L666.8,261.6 L667.2,261.1 L667.6,260.7 L668.0,260.4 L668.4,260.1 L668.8,259.9 L669.2,259.8 L669.6,259.7 L670.0,259.7 L670.4,259.7 L670.8,259.8 L671.2,259.9 L671.6,260.0 L672.0,260.2 L672.4,260.4 L672.8,260.7 L673.2,261.0 L673.6,261.4 L674.0,261.9 L674.4,262.3 L674.7,262.9 L675.1,263.5 L675.5,264.1 L675.9,264.8 L676.3,265.6 L676.7,266.4 L677.1,267.3 L677.5,268.2 L677.9,269.2 L678.3,270.3 L678.7,271.5 L679.1,272.7 L679.5,274.0 L679.9,275.4 L680.3,276.9 L680.7,278.4 L681.1,280.0 L681.5,281.8 L681.9,283.6 L682.3,285.5 L682.7,287.5 L683.1,289.6 L683.5,291.9 L683.8,294.3 L684.2,296.9 L684.6,299.7 L685.0,302.4 L685.4,305.3 L685.8,308.0 L686.2,310.6 L686.6,313.1 L687.0,315.4 L687.4,317.6 L687.8,319.7 L688.2,321.7 L688.6,323.6 L689.0,325.5 L689.4,327.4 L689.8,329.3 L690.2,331.2 L690.6,333.1 L691.0,335.1 L691.4,337.1 L691.8,339.2 L692.2,341.2 L692.6,343.2 L692.9,345.1 L693.3,347.0 L693.7,348.8 L694.1,350.5 L694.5,352.1 L694.9,353.5 L695.3,354.8 L695.7,355.9 L696.1,356.8 L696.5,357.4 L696.9,357.9 L697.3,358.0 L697.7,358.0 L698.1,357.8 L698.5,357.6 L698.9,357.2 L699.3,356.7 L699.7,356.1 L700.1,355.3 L700.5,354.4 L700.9,353.4 L701.3,352.3 L701.7,351.0 L702.1,349.6 L702.5,348.1 L702.9,346.5 L703.3,344.7 L703.6,342.8 L704.0,340.7 L704.4,338.5 L704.8,336.3 L705.2,334.0 L705.6,331.6 L706.0,329.1 L706.4,326.6 L706.8,324.1 L707.2,321.7 L707.6,319.3 L708.0,317.0 L708.4,315.0 L708.8,313.0 L709.2,311.0 L709.6,309.0 L710.0,306.8 L710.4,304.6 L710.8,302.2 L711.2,299.9 L711.6,297.4 L712.0,294.9 L712.4,292.4 L712.8,289.8 L713.2,287.0 L713.6,284.1 L714.0,281.3 L714.4,278.8 L714.8,276.7 L715.2,275.1 L715.6,273.8 L716.0,272.6 L716.3,271.7 L716.7,270.8 L717.1,270.0 L717.5,269.4 L717.9,268.8 L718.3,268.2 L718.7,267.7 L719.1,267.3 L719.5,266.9 L719.9,266.6 L720.3,266.3 L720.7,266.1 L721.1,266.0 L721.5,265.9 L721.9,265.8 L722.3,265.8 L722.7,265.8 L723.1,265.8 L723.5,265.9 L723.9,266.0 L724.3,266.2 L724.7,266.4 L725.1,266.8 L725.5,267.2 L725.9,267.7 L726.2,268.3 L726.6,269.1 L727.0,269.9 L727.4,270.9 L727.8,272.3 L728.2,274.0 L728.6,276.2 L729.0,278.6 L729.4,281.4 L729.8,284.3 L730.2,287.2 L730.6,289.9 L731.0,292.4 L731.4,294.9 L731.8,297.4 L732.2,299.9 L732.6,302.5 L733.0,305.1 L733.3,307.9 L733.7,310.9 L734.1,314.2 L734.5,317.8 L734.9,321.6 L735.3,325.6 L735.7,329.7 L736.1,333.8 L736.5,337.8 L736.9,341.6 L737.3,345.3 L737.7,349.0 L738.1,352.8 L738.5,356.8 L738.9,361.3 L739.3,366.1 L739.7,371.2 L740.1,376.9 L740.4,383.3 L740.8,390.7 L741.2,398.8 L741.6,407.7 L742.0,417.3 L742.4,427.3 L742.8,437.2 L743.2,446.1 L743.6,452.5 L744.0,455.0 L744.4,455.0 L744.8,455.0 L745.2,454.9 L745.6,454.8 L746.0,454.6 L746.4,454.2 L746.8,453.6 L747.1,452.7 L747.5,451.5 L747.9,449.9 L748.3,448.0 L748.7,445.7 L749.1,443.1 L749.5,440.1 L749.9,437.0 L750.3,433.6 L750.7,430.2 L751.1,425.1 L751.5,418.8 L751.9,414.5 L752.3,411.9 L752.6,409.8 L753.0,408.0 L753.4,406.5 L753.8,405.2 L754.2,404.0 L754.6,402.9 L755.0,401.9 L755.4,400.8 L755.8,399.8 L756.2,398.8 L756.6,398.0 L757.0,397.2 L757.4,396.5 L757.8,395.9 L758.1,395.3 L758.5,394.9 L758.9,394.5 L759.3,394.2 L759.7,394.0 L760.1,393.8 L760.5,393.7 L760.9,393.7 L761.3,393.9 L761.7,394.6 L762.1,395.6 L762.5,397.0 L762.9,398.7 L763.3,400.6 L763.7,402.8 L764.0,405.1 L764.4,407.5 L764.8,409.9 L765.2,412.4 L765.6,414.8 L766.0,417.2 L766.4,419.7 L766.8,422.1 L767.2,424.6 L767.6,427.2 L768.0,429.9 L768.4,432.9 L768.8,435.9 L769.2,439.0 L769.6,442.1 L770.0,445.5 L770.3,449.1 L770.7,453.1 L771.1,457.6 L771.5,462.7 L771.9,468.3 L772.3,474.4 L772.7,480.9 L773.1,487.7 L773.5,494.9 L773.9,502.8 L774.3,511.0 L774.7,519.1 L775.1,526.3 L775.5,532.7 L775.9,538.5 L776.3,544.0 L776.6,549.3 L777.0,554.5 L777.4,559.7 L777.8,564.8 L778.2,569.4 L778.6,573.4 L779.0,576.4 L779.4,578.3 L779.8,579.0 L780.2,578.2 L780.6,576.1 L781.0,573.0 L781.4,569.1 L781.8,564.9 L782.2,560.6 L782.6,556.5 L783.0,552.7 L783.4,549.0 L783.8,545.3 L784.2,541.4 L784.6,537.1 L785.0,532.3 L785.4,527.2 L785.8,521.8 L786.2,516.5 L786.6,511.3 L787.0,506.5 L787.4,501.8 L787.8,497.2 L788.2,492.7 L788.6,488.4 L788.9,484.5 L789.3,480.9 L789.7,477.8 L790.1,475.1 L790.5,472.5 L790.9,470.1 L791.3,467.9 L791.7,465.8 L792.1,463.8 L792.5,461.9 L792.9,460.0 L793.3,458.3 L793.7,456.6 L794.1,455.0 L794.5,453.5 L794.9,451.9 L795.3,450.4 L795.7,449.0 L796.1,447.5 L796.5,446.2 L796.9,445.0 L797.3,443.9 L797.7,442.8 L798.1,441.7 L798.5,440.6 L798.9,439.6 L799.3,438.5 L799.7,437.4 L800.1,436.3 L800.5,435.1 L800.9,433.8 L801.3,432.5 L801.7,431.1 L802.1,429.5 L802.5,427.8 L802.9,426.0 L803.3,424.1 L803.7,422.1 L804.1,420.1 L804.5,418.0 L804.9,415.9 L805.3,413.8 L805.7,411.8 L806.1,409.7 L806.5,407.7 L806.8,405.8 L807.2,403.7 L807.6,401.7 L808.0,399.7 L808.4,397.6 L808.8,395.6 L809.2,393.6 L809.6,391.6 L810.0,389.6 L810.4,387.7 L810.8,385.9 L811.2,384.1 L811.6,382.4 L812.0,380.7 L812.4,379.1 L812.8,377.5 L813.2,376.0 L813.6,374.4 L814.0,372.9 L814.4,371.3 L814.8,369.7 L815.2,368.1 L815.6,366.5 L816.0,364.8 L816.4,363.0 L816.8,361.1 L817.2,359.1 L817.6,357.1 L818.0,355.1 L818.4,353.1 L818.8,351.2 L819.2,349.4 L819.6,347.7 L820.0,346.1 L820.4,344.7 L820.8,343.4 L821.2,342.1 L821.6,340.9 L822.0,339.8 L822.4,338.7 L822.8,337.7 L823.2,336.7 L823.6,335.8 L824.0,334.9 L824.4,334.0 L824.7,333.2 L825.1,332.5 L825.5,331.7 L825.9,331.1 L826.3,330.5 L826.7,329.9 L827.1,329.3 L827.5,328.8 L827.9,328.4 L828.3,327.9 L828.7,327.4 L829.1,327.0 L829.5,326.5 L829.9,326.0 L830.3,325.6 L830.7,325.1 L831.1,324.5 L831.5,324.0 L831.9,323.4 L832.3,322.8 L832.7,322.2 L833.1,321.4 L833.5,320.6 L833.9,319.8 L834.3,318.9 L834.7,318.0 L835.1,317.2 L835.5,316.3 L835.9,315.5 L836.3,314.7 L836.7,313.9 L837.1,313.2 L837.5,312.6 L837.9,311.9 L838.3,311.3 L838.7,310.7 L839.1,310.2 L839.5,309.6 L839.9,309.1 L840.3,308.6 L840.7,308.2 L841.1,307.7 L841.5,307.3 L841.9,306.9 L842.3,306.5 L842.6,306.1 L843.0,305.7 L843.4,305.4 L843.8,305.1 L844.2,304.8 L844.6,304.5 L845.0,304.3 L845.4,304.0 L845.8,303.8 L846.2,303.6 L846.6,303.4 L847.0,303.3 L847.4,303.1 L847.8,303.0 L848.2,302.9 L848.6,302.7 L849.0,302.7 L849.4,302.6 L849.8,302.5 L850.2,302.5 L850.6,302.4 L851.0,302.4 L851.4,302.4 L851.8,302.4 L852.2,302.4 L852.6,302.5 L853.0,302.5 L853.4,302.6 L853.8,302.7 L854.2,302.9 L854.6,303.0 L855.0,303.2 L855.4,303.4 L855.8,303.6 L856.2,303.8 L856.5,304.1 L856.9,304.4 L857.3,304.7 L857.7,305.0 L858.1,305.4 L858.5,305.8 L858.9,306.2 L859.3,306.7 L859.7,307.1 L860.1,307.6 L860.5,308.2 L860.9,308.7 L861.3,309.4 L861.7,310.0 L862.1,310.7 L862.5,311.4 L862.9,312.2 L863.3,312.9 L863.7,313.7 L864.1,314.6 L864.5,315.4 L864.9,316.2 L865.3,317.0 L865.7,317.9 L866.1,318.7 L866.5,319.5 L866.8,320.3 L867.2,321.1 L867.6,321.8 L868.0,322.6 L868.4,323.3 L868.8,324.1 L869.2,324.8 L869.6,325.5 L870.0,326.2 L870.4,326.9 L870.8,327.6 L871.2,328.2 L871.6,328.9 L872.0,329.6 L872.4,330.2 L872.8,330.8 L873.2,331.5 L873.6,332.1 L874.0,332.7 L874.4,333.3 L874.8,333.9 L875.2,334.5 L875.6,335.1 L876.0,335.6 L876.4,336.1 L876.8,336.6 L877.1,337.1 L877.5,337.6 L877.9,338.0 L878.3,338.4 L878.7,338.7 L879.1,339.0 L879.5,339.3 L879.9,339.6 L880.3,339.8 L880.7,340.0 L881.1,340.1 L881.5,340.2 L881.9,340.3 L882.3,340.3 L882.7,340.3 L883.1,340.2 L883.5,340.1 L883.9,340.0 L884.3,339.8 L884.7,339.5 L885.1,339.1 L885.5,338.7 L885.9,338.1 L886.3,337.5 L886.7,336.8 L887.1,336.0 L887.5,335.1 L887.9,334.1 L888.3,333.1 L888.7,331.9 L889.1,330.6 L889.5,329.3 L889.9,327.8 L890.3,326.1 L890.7,324.2 L891.1,322.1 L891.5,320.0 L891.9,317.9 L892.3,315.9 L892.7,314.0 L893.1,312.3 L893.5,310.6 L893.9,309.0 L894.3,307.5 L894.7,306.0 L895.1,304.6 L895.5,303.2 L895.9,301.9 L896.3,300.6 L896.7,299.4 L897.1,298.2 L897.5,297.1 L897.9,296.0 L898.3,294.9 L898.7,294.0 L899.1,293.0 L899.5,292.1 L899.9,291.3 L900.3,290.4 L900.6,289.6 L901.0,288.8 L901.4,288.1 L901.8,287.3 L902.2,286.6 L902.6,285.9 L903.0,285.2 L903.4,284.5 L903.8,283.8 L904.2,283.2 L904.6,282.5 L905.0,281.8 L905.4,281.1 L905.8,280.5 L906.2,279.9 L906.6,279.3 L907.0,278.7 L907.4,278.1 L907.8,277.5 L908.2,277.0 L908.6,276.4 L909.0,275.9 L909.4,275.4 L909.8,274.9 L910.2,274.5 L910.6,274.0 L911.0,273.6 L911.4,273.2 L911.8,272.8 L912.2,272.4 L912.6,272.0 L913.0,271.7 L913.4,271.4 L913.8,271.1 L914.2,270.8 L914.6,270.5 L915.0,270.3 L915.4,270.1 L915.8,269.9 L916.2,269.7 L916.6,269.5 L917.0,269.4 L917.4,269.3 L917.8,269.2 L918.2,269.1 L918.6,269.1 L919.0,269.1 L919.4,269.1 L919.8,269.1 L920.2,269.2 L920.6,269.2 L921.0,269.3 L921.4,269.4 L921.8,269.5 L922.2,269.6 L922.6,269.8 L923.0,269.9 L923.4,270.1 L923.8,270.3 L924.2,270.5 L924.6,270.7 L925.0,271.0 L925.4,271.2 L925.8,271.5 L926.2,271.8 L926.6,272.1 L927.0,272.4 L927.4,272.7 L927.8,273.1 L928.2,273.4 L928.6,273.8 L929.0,274.2 L929.4,274.6 L929.8,275.1 L930.2,275.5 L930.6,275.9 L931.0,276.4 L931.4,276.9 L931.8,277.4 L932.2,277.9 L932.6,278.4 L933.0,279.0 L933.4,279.5 L933.8,280.1 L934.2,280.7 L934.6,281.3 L935.0,281.9 L935.4,282.5 L935.8,283.1 L936.2,283.8 L936.6,284.5 L937.0,285.2 L937.4,285.9 L937.8,286.6 L938.2,287.4 L938.6,288.1 L939.0,288.9 L939.4,289.7 L939.8,290.6 L940.2,291.4 L940.6,292.2 L941.0,293.1 L941.4,294.0 L941.8,294.9 L942.2,295.9 L942.6,296.8 L943.0,297.8 L943.4,298.8 L943.8,299.9 L944.2,301.0 L944.6,302.1 L945.0,303.2 L945.4,304.4 L945.8,305.6 L946.2,306.9 L946.6,308.2 L947.0,309.5 L947.4,310.9 L947.8,312.3 L948.2,313.7 L948.6,315.2 L949.0,316.7 L949.4,318.2 L949.8,319.8 L950.2,321.4 L950.6,323.1 L951.0,324.8 L951.4,326.6 L951.8,328.4 L952.2,330.3 L952.6,332.1 L953.0,334.0 L953.4,335.9 L953.8,337.8 L954.2,339.7 L954.6,341.5 L955.0,343.3 L955.4,345.1 L955.8,346.9 L956.2,348.7 L956.6,350.4 L957.0,352.2 L957.4,354.0 L957.8,355.8 L958.2,357.5 L958.6,359.3 L959.0,361.1 L959.4,362.9 L959.8,364.7 L960.2,366.4 L960.6,368.1 L961.0,369.8 L961.4,371.5 L961.8,373.2 L962.2,375.0 L962.6,376.8 L963.0,378.6 L963.4,380.6 L963.8,382.6 L964.2,384.8 L964.6,387.1 L965.0,389.6 L965.4,392.3 L965.8,395.1 L966.2,397.9 L966.6,400.7 L967.0,403.5 L967.4,406.1 L967.8,408.6 L968.2,410.9 L968.6,413.1 L969.0,415.2 L969.4,417.2 L969.8,419.3 L970.2,421.4 L970.6,423.5 L971.0,425.8 L971.4,428.3 L971.8,430.9 L972.2,433.8 L972.6,436.6 L973.0,439.4 L973.4,441.9 L973.8,444.0 L974.2,445.9 L974.6,447.6 L975.0,449.2 L975.4,450.9 L975.8,452.7 L976.2,454.8 L976.6,457.0 L977.0,459.4 L977.4,461.9 L977.8,464.5 L978.2,467.2 L978.6,469.8 L979.0,472.4 L979.4,475.0 L979.8,477.4 L980.2,479.6 L980.6,481.7 L981.0,483.6 L981.4,485.4 L981.8,487.2 L982.2,488.8 L982.6,490.3 L983.0,491.7 L983.4,492.9 L983.8,494.1 L984.2,495.1 L984.6,496.0 L985.0,496.8 L985.4,497.4 L985.8,497.9 L986.2,498.3 L986.6,498.6 L987.0,498.7 L987.4,498.8 L987.8,498.8 L988.2,498.7 L988.6,498.5 L989.0,498.3 L989.4,497.9 L989.8,497.5 L990.2,497.1 L990.6,496.5 L991.0,495.9 L991.4,495.2 L991.8,494.4 L992.2,493.6 L992.6,492.6 L993.0,491.6 L993.4,490.5 L993.8,489.4 L994.2,488.2 L994.6,486.8 L995.0,485.4 L995.4,483.9 L995.8,482.3 L996.2,480.7 L996.6,479.0 L996.9,477.2 L997.3,475.5 L997.7,473.7 L998.1,472.0 L998.5,470.3 L998.9,468.6 L999.3,467.0 L999.7,465.5 L1000.1,464.0 L1000.5,462.6 L1000.9,461.2 L1001.3,459.8 L1001.7,458.5 L1002.1,457.2 L1002.5,456.0 L1002.9,454.7 L1003.3,453.5 L1003.7,452.3 L1004.1,451.1 L1004.5,449.9 L1004.9,448.7 L1005.3,447.5 L1005.7,446.3 L1006.1,445.1 L1006.5,443.9 L1006.9,442.8 L1007.3,441.7 L1007.7,440.5 L1008.1,439.4 L1008.5,438.3 L1008.9,437.2 L1009.3,436.2 L1009.7,435.1 L1010.1,434.0 L1010.5,433.0 L1010.9,431.9 L1011.3,430.9 L1011.7,429.8 L1012.1,428.8 L1012.5,427.7 L1012.9,426.6 L1013.3,425.6 L1013.7,424.5 L1014.1,423.5 L1014.5,422.5 L1014.9,421.5 L1015.2,420.5 L1015.6,419.5 L1016.0,418.5 L1016.4,417.6 L1016.8,416.6 L1017.2,415.7 L1017.6,414.9 L1018.0,414.0 L1018.4,413.2 L1018.8,412.4 L1019.2,411.7 L1019.6,410.9 L1020.0,410.2 L1020.4,409.5 L1020.8,408.8 L1021.2,408.1 L1021.6,407.5 L1022.0,406.8 L1022.4,406.2 L1022.8,405.6 L1023.2,405.0 L1023.6,404.4 L1024.0,403.8 L1024.4,403.2 L1024.8,402.7 L1025.2,402.1 L1025.6,401.6 L1026.0,401.1 L1026.4,400.6 L1026.8,400.1 L1027.2,399.6 L1027.6,399.1 L1028.0,398.7 L1028.4,398.2 L1028.8,397.8 L1029.2,397.3 L1029.6,396.9 L1030.0,396.5 L1030.4,396.1 L1030.8,395.7 L1031.2,395.3 L1031.6,394.9 L1032.0,394.6 L1032.4,394.2 L1032.8,393.9 L1033.2,393.5 L1033.6,393.2 L1033.9,392.9 L1034.3,392.5 L1034.7,392.2 L1035.1,391.9 L1035.5,391.6 L1035.9,391.3 L1036.3,391.0 L1036.7,390.8 L1037.1,390.5 L1037.5,390.2 L1037.9,389.9 L1038.3,389.7 L1038.7,389.4 L1039.1,389.2 L1039.5,388.9 L1039.9,388.7 L1040.3,388.4 L1040.7,388.2 L1041.1,388.0 L1041.5,387.8 L1041.9,387.6 L1042.3,387.3 L1042.7,387.1 L1043.1,387.0 L1043.5,386.8 L1043.9,386.6 L1044.3,386.4 L1044.7,386.3 L1045.1,386.1 L1045.5,386.0 L1045.9,385.8 L1046.3,385.7 L1046.7,385.6 L1047.1,385.4 L1047.5,385.3 L1047.9,385.2 L1048.3,385.1 L1048.7,385.0 L1049.1,384.9 L1049.5,384.9 L1049.9,384.8 L1050.3,384.7 L1050.7,384.6 L1051.1,384.6 L1051.5,384.5 L1051.9,384.4 L1052.2,384.4 L1052.6,384.3 L1053.0,384.3 L1053.4,384.2 L1053.8,384.2 L1054.2,384.1 L1054.6,384.1 L1055.0,384.0 L1055.4,384.0 L1055.8,383.9 L1056.2,383.9 L1056.6,383.8 L1057.0,383.8 L1057.4,383.7 L1057.8,383.7 L1058.2,383.7 L1058.6,383.6 L1059.0,383.6 L1059.4,383.6 L1059.8,383.5 L1060.2,383.5 L1060.6,383.5 L1061.0,383.5 L1061.4,383.5" stroke="#77ac30" stroke-width="4.2" stroke-dasharray="4.3 5.4"/>
<path d="M108.7,29.0 L109.1,29.1 L109.5,29.4 L109.9,29.9 L110.3,30.5 L110.7,31.3 L111.1,32.3 L111.5,33.5 L111.9,34.8 L112.3,36.3 L112.7,37.9 L113.1,39.8 L113.5,41.8 L113.9,44.0 L114.3,46.3 L114.7,48.6 L115.1,50.8 L115.5,52.9 L115.9,55.1 L116.3,57.2 L116.7,59.3 L117.1,61.5 L117.5,63.8 L117.9,66.2 L118.3,68.8 L118.7,71.5 L119.1,74.3 L119.5,77.2 L119.9,80.3 L120.3,83.6 L120.7,87.0 L121.1,90.7 L121.5,94.5 L121.9,98.7 L122.3,103.5 L122.7,109.3 L123.1,116.4 L123.5,123.4 L123.9,128.9 L124.3,133.6 L124.7,137.9 L125.1,141.9 L125.4,145.7 L125.8,149.5 L126.2,153.3 L126.6,157.3 L127.0,161.3 L127.4,165.2 L127.8,169.1 L128.2,173.0 L128.6,177.0 L129.0,181.1 L129.4,185.3 L129.8,189.6 L130.2,194.2 L130.6,199.0 L131.0,203.9 L131.4,209.0 L131.8,214.2 L132.2,219.4 L132.6,224.7 L133.0,230.0 L133.4,235.5 L133.8,241.1 L134.2,246.8 L134.6,252.6 L135.0,258.6 L135.4,264.7 L135.8,270.9 L136.2,277.2 L136.6,283.4 L137.0,289.7 L137.4,295.9 L137.8,301.9 L138.2,307.7 L138.6,313.1 L139.0,318.2 L139.4,322.6 L139.8,326.5 L140.2,329.5 L140.6,331.7 L141.0,333.1 L141.4,333.5 L141.8,333.2 L142.2,332.3 L142.6,330.8 L143.0,328.8 L143.4,326.4 L143.8,323.7 L144.2,320.7 L144.6,317.7 L145.0,314.6 L145.4,311.5 L145.7,308.6 L146.1,305.8 L146.5,303.2 L146.9,300.8 L147.3,298.8 L147.7,297.0 L148.1,295.5 L148.5,294.3 L148.9,293.5 L149.3,293.0 L149.7,292.8 L150.1,293.0 L150.5,293.6 L150.9,294.6 L151.3,295.9 L151.7,297.7 L152.1,299.9 L152.5,302.5 L152.9,305.4 L153.3,308.8 L153.7,312.5 L154.1,316.6 L154.4,321.1 L154.8,325.9 L155.2,330.9 L155.6,336.2 L156.0,341.7 L156.4,347.2 L156.8,352.6 L157.2,357.7 L157.6,362.4 L158.0,366.4 L158.4,369.4 L158.8,371.3 L159.2,372.0 L159.6,371.5 L160.0,370.1 L160.4,367.7 L160.8,364.6 L161.2,361.0 L161.6,356.8 L162.0,352.4 L162.4,347.8 L162.8,343.1 L163.2,338.4 L163.6,333.9 L164.0,329.6 L164.3,325.4 L164.7,321.5 L165.1,317.9 L165.5,314.6 L165.9,311.5 L166.3,308.8 L166.7,306.4 L167.1,304.3 L167.5,302.5 L167.9,301.1 L168.3,299.9 L168.7,299.1 L169.1,298.7 L169.5,298.5 L169.9,298.9 L170.3,300.1 L170.7,302.0 L171.1,304.5 L171.5,307.3 L171.9,310.3 L172.3,313.3 L172.7,316.1 L173.1,318.5 L173.5,320.6 L173.9,322.8 L174.3,324.8 L174.7,326.8 L175.1,328.5 L175.5,330.1 L175.9,331.5 L176.3,332.5 L176.7,333.3 L177.1,333.9 L177.5,334.4 L177.9,334.9 L178.3,335.3 L178.7,335.6 L179.1,336.0 L179.5,336.3 L179.9,336.6 L180.2,337.0 L180.6,337.4 L181.0,337.8 L181.4,338.4 L181.8,339.0 L182.2,339.7 L182.6,340.4 L183.0,341.2 L183.4,342.0 L183.8,342.9 L184.2,344.0 L184.6,345.2 L185.0,346.6 L185.4,348.3 L185.8,350.1 L186.2,352.8 L186.6,356.9 L187.0,362.5 L187.4,369.6 L187.8,378.5 L188.2,389.3 L188.6,402.1 L189.0,416.9 L189.4,433.2 L189.8,449.5 L190.2,462.7 L190.6,468.0 L191.0,465.1 L191.4,457.0 L191.8,445.6 L192.1,432.5 L192.5,418.9 L192.9,405.8 L193.3,393.3 L193.7,381.7 L194.1,371.0 L194.5,361.1 L194.8,352.2 L195.2,344.0 L195.6,336.5 L196.0,329.7 L196.4,323.6 L196.8,318.1 L197.2,313.1 L197.5,308.6 L197.9,304.7 L198.3,301.2 L198.7,298.1 L199.1,295.5 L199.5,293.4 L199.9,291.6 L200.2,290.2 L200.6,289.3 L201.0,288.7 L201.4,288.5 L201.8,288.6 L202.2,289.0 L202.6,289.5 L203.0,290.3 L203.4,291.3 L203.8,292.6 L204.2,294.1 L204.6,295.8 L205.0,297.8 L205.3,300.1 L205.7,302.6 L206.1,305.4 L206.5,308.4 L206.9,311.8 L207.3,315.5 L207.7,319.5 L208.1,323.8 L208.5,328.5 L208.9,333.6 L209.3,339.1 L209.7,345.1 L210.1,351.5 L210.5,358.4 L210.9,365.9 L211.3,373.9 L211.7,382.6 L212.1,391.9 L212.4,402.0 L212.8,412.8 L213.2,424.3 L213.6,436.5 L214.0,449.2 L214.4,461.9 L214.8,474.0 L215.2,484.3 L215.6,491.4 L216.0,494.0 L216.4,493.7 L216.8,492.7 L217.2,491.1 L217.6,489.0 L217.9,486.3 L218.3,483.3 L218.7,479.9 L219.1,476.2 L219.5,472.4 L219.9,468.5 L220.3,464.5 L220.7,460.4 L221.1,456.4 L221.5,452.5 L221.8,448.7 L222.2,445.0 L222.6,441.4 L223.0,437.9 L223.4,434.6 L223.8,431.5 L224.2,428.5 L224.6,425.7 L225.0,423.0 L225.3,420.5 L225.7,418.3 L226.1,416.1 L226.5,414.2 L226.9,412.4 L227.3,410.8 L227.7,409.4 L228.1,408.1 L228.5,407.0 L228.9,406.1 L229.2,405.3 L229.6,404.8 L230.0,404.3 L230.4,404.1 L230.8,404.0 L231.2,404.2 L231.6,404.7 L232.0,405.4 L232.4,406.4 L232.8,407.5 L233.2,408.7 L233.6,409.7 L234.0,410.6 L234.4,411.1 L234.8,411.3 L235.2,410.7 L235.6,408.9 L236.0,406.1 L236.4,402.3 L236.8,397.8 L237.2,392.8 L237.5,387.3 L237.9,381.6 L238.3,375.8 L238.7,370.0 L239.1,364.3 L239.5,358.7 L239.9,353.2 L240.3,347.9 L240.7,342.9 L241.1,338.0 L241.5,333.4 L241.9,329.1 L242.3,324.9 L242.6,321.0 L243.0,317.4 L243.4,313.9 L243.8,310.7 L244.2,307.7 L244.6,304.9 L245.0,302.3 L245.4,300.0 L245.8,297.8 L246.2,295.9 L246.6,294.1 L247.0,292.5 L247.4,291.2 L247.7,290.0 L248.1,289.0 L248.5,288.1 L248.9,287.5 L249.3,287.1 L249.7,286.8 L250.1,286.7 L250.5,286.8 L250.9,287.0 L251.3,287.5 L251.7,288.1 L252.1,288.9 L252.5,289.9 L252.9,291.0 L253.3,292.3 L253.7,293.9 L254.1,295.6 L254.5,297.5 L254.9,299.6 L255.3,301.9 L255.7,304.4 L256.1,307.2 L256.5,310.2 L256.9,313.4 L257.3,316.9 L257.7,320.6 L258.1,324.6 L258.5,328.9 L258.9,333.5 L259.3,338.4 L259.7,343.6 L260.1,349.2 L260.5,355.2 L260.9,361.5 L261.3,368.3 L261.7,375.6 L262.1,383.3 L262.5,391.5 L262.9,400.3 L263.3,409.5 L263.7,419.2 L264.1,429.4 L264.5,439.8 L264.9,450.3 L265.3,460.4 L265.7,469.6 L266.1,477.1 L266.5,482.1 L266.9,483.8 L267.3,481.1 L267.7,473.7 L268.1,463.1 L268.5,450.9 L268.9,438.1 L269.3,425.7 L269.7,413.8 L270.1,402.7 L270.5,392.6 L270.9,383.3 L271.3,374.8 L271.7,367.1 L272.0,360.2 L272.4,354.0 L272.8,348.5 L273.2,343.6 L273.6,339.3 L274.0,335.5 L274.4,332.3 L274.8,329.7 L275.2,327.5 L275.6,325.8 L276.0,324.6 L276.4,323.9 L276.8,323.7 L277.2,323.9 L277.6,324.6 L278.0,325.7 L278.4,327.2 L278.8,329.2 L279.2,331.6 L279.5,334.5 L279.9,337.8 L280.3,341.7 L280.7,346.0 L281.1,350.9 L281.5,356.3 L281.9,362.2 L282.3,368.7 L282.7,375.7 L283.1,383.2 L283.5,391.1 L283.9,399.4 L284.2,408.0 L284.6,416.4 L285.0,424.5 L285.4,431.8 L285.8,437.6 L286.2,441.4 L286.6,442.7 L287.0,442.1 L287.4,440.4 L287.8,437.7 L288.1,434.1 L288.5,429.9 L288.9,425.3 L289.3,420.5 L289.7,415.6 L290.1,410.7 L290.5,406.1 L290.8,401.7 L291.2,397.7 L291.6,394.0 L292.0,390.7 L292.4,387.8 L292.8,385.3 L293.2,383.3 L293.5,381.7 L293.9,380.6 L294.3,379.9 L294.7,379.7 L295.1,379.9 L295.5,380.7 L295.8,381.9 L296.2,383.6 L296.6,385.7 L297.0,388.4 L297.4,391.6 L297.8,395.3 L298.1,399.5 L298.5,404.3 L298.9,409.5 L299.3,415.3 L299.7,421.6 L300.1,428.3 L300.4,435.5 L300.8,442.9 L301.2,450.5 L301.6,458.0 L302.0,465.1 L302.4,471.3 L302.7,476.3 L303.1,479.5 L303.5,480.6 L303.9,480.3 L304.2,479.3 L304.6,477.7 L305.0,475.7 L305.4,473.3 L305.7,470.8 L306.1,468.1 L306.5,465.5 L306.9,463.1 L307.2,460.8 L307.6,459.0 L308.0,457.4 L308.4,456.3 L308.7,455.6 L309.1,455.4 L309.5,455.8 L309.9,457.2 L310.3,459.4 L310.7,462.5 L311.1,466.4 L311.5,471.1 L311.9,476.6 L312.3,482.8 L312.7,489.4 L313.1,496.2 L313.5,502.9 L313.9,509.1 L314.3,514.1 L314.7,517.3 L315.1,518.5 L315.5,517.2 L315.9,513.5 L316.3,507.9 L316.7,500.9 L317.0,493.0 L317.4,484.7 L317.8,476.4 L318.2,468.3 L318.6,460.5 L319.0,453.2 L319.4,446.5 L319.8,440.2 L320.1,434.5 L320.5,429.4 L320.9,424.7 L321.3,420.6 L321.7,417.1 L322.1,414.0 L322.5,411.4 L322.8,409.3 L323.2,407.7 L323.6,406.5 L324.0,405.8 L324.4,405.6 L324.8,405.9 L325.2,406.9 L325.6,408.6 L326.0,410.9 L326.3,413.9 L326.7,417.5 L327.1,421.8 L327.5,426.7 L327.9,432.2 L328.3,438.1 L328.7,444.5 L329.1,451.1 L329.5,457.6 L329.8,463.9 L330.2,469.4 L330.6,473.8 L331.0,476.7 L331.4,477.7 L331.8,476.3 L332.2,472.2 L332.6,466.1 L333.0,458.4 L333.4,449.9 L333.8,441.1 L334.1,432.3 L334.5,423.8 L334.9,415.7 L335.3,408.2 L335.7,401.2 L336.1,394.7 L336.5,388.8 L336.9,383.6 L337.3,378.8 L337.7,374.6 L338.1,371.0 L338.4,367.8 L338.8,365.2 L339.2,363.1 L339.6,361.4 L340.0,360.2 L340.4,359.5 L340.8,359.3 L341.2,359.6 L341.6,360.3 L342.0,361.6 L342.4,363.4 L342.8,365.7 L343.2,368.6 L343.6,372.1 L344.0,376.1 L344.4,380.9 L344.8,386.3 L345.2,392.4 L345.6,399.4 L346.0,407.3 L346.4,416.2 L346.8,426.2 L347.2,437.5 L347.6,450.4 L348.0,465.0 L348.4,481.7 L348.8,500.9 L349.2,523.1 L349.6,548.4 L350.0,575.9 L350.4,600.8 L350.8,611.8 L351.2,596.9 L351.6,565.8 L352.0,534.1 L352.4,506.4 L352.8,482.7 L353.2,462.6 L353.6,445.3 L354.0,430.3 L354.4,417.1 L354.8,405.6 L355.2,395.4 L355.6,386.4 L355.9,378.5 L356.3,371.4 L356.7,365.2 L357.1,359.7 L357.5,355.0 L357.9,350.9 L358.3,347.4 L358.7,344.5 L359.1,342.1 L359.5,340.3 L359.9,339.0 L360.3,338.3 L360.7,338.0 L361.1,338.1 L361.5,338.4 L361.9,338.9 L362.3,339.5 L362.7,340.4 L363.1,341.5 L363.5,342.7 L363.9,344.2 L364.3,345.9 L364.7,347.8 L365.1,349.9 L365.5,352.2 L365.9,354.8 L366.3,357.6 L366.7,360.6 L367.1,363.9 L367.5,367.5 L367.9,371.4 L368.3,375.5 L368.6,380.0 L369.0,384.8 L369.4,389.9 L369.8,395.4 L370.2,401.3 L370.6,407.6 L371.0,414.3 L371.4,421.5 L371.8,429.2 L372.2,437.4 L372.6,446.2 L373.0,455.4 L373.4,465.2 L373.8,475.4 L374.2,485.9 L374.6,496.5 L375.0,506.8 L375.4,516.2 L375.8,523.9 L376.2,529.0 L376.6,530.8 L377.0,527.7 L377.4,519.2 L377.8,507.1 L378.2,493.4 L378.6,479.2 L379.0,465.4 L379.3,452.3 L379.7,440.0 L380.1,428.7 L380.5,418.1 L380.9,408.4 L381.3,399.4 L381.7,391.1 L382.1,383.4 L382.5,376.3 L382.9,369.7 L383.3,363.5 L383.7,357.9 L384.1,352.6 L384.4,347.8 L384.8,343.3 L385.2,339.1 L385.6,335.3 L386.0,331.8 L386.4,328.6 L386.8,325.6 L387.2,323.0 L387.6,320.6 L388.0,318.4 L388.4,316.5 L388.8,314.9 L389.1,313.4 L389.5,312.2 L389.9,311.2 L390.3,310.5 L390.7,309.9 L391.1,309.6 L391.5,309.5 L391.9,309.8 L392.3,310.5 L392.7,311.7 L393.1,313.4 L393.5,315.4 L393.9,317.9 L394.3,320.7 L394.7,323.9 L395.1,327.4 L395.5,331.2 L395.8,335.3 L396.2,339.7 L396.6,344.3 L397.0,349.2 L397.4,354.2 L397.8,359.5 L398.2,364.9 L398.6,370.4 L399.0,375.9 L399.4,381.6 L399.8,387.2 L400.2,392.8 L400.6,398.3 L401.0,403.7 L401.4,408.9 L401.8,413.8 L402.2,418.4 L402.6,422.6 L403.0,426.4 L403.4,429.6 L403.7,432.4 L404.1,434.8 L404.5,436.9 L404.9,438.9 L405.3,440.6 L405.7,442.4 L406.1,444.2 L406.5,446.2 L406.9,448.4 L407.3,451.0 L407.7,453.6 L408.1,456.4 L408.5,459.3 L408.9,462.4 L409.3,465.7 L409.7,469.2 L410.1,473.0 L410.5,477.1 L410.9,481.5 L411.3,486.1 L411.6,491.3 L412.0,497.1 L412.4,503.7 L412.8,511.6 L413.2,521.0 L413.6,532.9 L414.0,548.0 L414.4,567.2 L414.8,593.2 L415.2,626.9 L415.6,647.4 L416.0,638.1 L416.4,616.4 L416.8,591.4 L417.2,567.7 L417.6,546.6 L418.0,528.2 L418.4,512.0 L418.8,497.9 L419.2,485.6 L419.6,474.7 L420.0,465.1 L420.3,456.7 L420.7,449.3 L421.1,442.9 L421.5,437.3 L421.9,432.4 L422.3,428.3 L422.7,424.9 L423.1,422.2 L423.5,420.1 L423.9,418.6 L424.3,417.7 L424.7,417.4 L425.1,417.8 L425.5,418.8 L425.9,420.6 L426.3,423.1 L426.7,426.3 L427.1,430.3 L427.5,435.1 L427.9,440.8 L428.3,447.3 L428.6,454.7 L429.0,463.1 L429.4,472.5 L429.8,482.9 L430.2,494.2 L430.6,506.2 L431.0,518.6 L431.4,530.6 L431.8,541.0 L432.2,548.3 L432.6,551.0 L433.0,547.2 L433.4,536.9 L433.8,522.8 L434.2,507.3 L434.6,491.9 L435.0,477.2 L435.4,463.6 L435.8,451.1 L436.2,439.7 L436.6,429.4 L437.0,420.0 L437.4,411.4 L437.8,403.7 L438.1,396.7 L438.5,390.4 L438.9,384.7 L439.3,379.6 L439.7,375.1 L440.1,371.0 L440.5,367.5 L440.9,364.4 L441.3,361.8 L441.7,359.5 L442.1,357.8 L442.5,356.4 L442.9,355.4 L443.3,354.8 L443.7,354.6 L444.1,354.9 L444.5,355.6 L444.8,357.0 L445.2,358.8 L445.6,361.2 L446.0,364.2 L446.4,367.7 L446.8,371.8 L447.1,376.6 L447.5,381.9 L447.9,388.0 L448.3,394.7 L448.7,402.1 L449.1,410.2 L449.4,418.9 L449.8,428.3 L450.2,438.2 L450.6,448.4 L451.0,458.4 L451.4,467.6 L451.7,475.3 L452.1,480.4 L452.5,482.2 L452.9,480.7 L453.3,476.6 L453.7,470.2 L454.1,462.3 L454.5,453.5 L454.9,444.3 L455.3,434.9 L455.7,425.8 L456.0,417.0 L456.4,408.6 L456.8,400.7 L457.2,393.3 L457.6,386.3 L458.0,379.8 L458.4,373.8 L458.8,368.2 L459.2,363.0 L459.6,358.3 L460.0,353.9 L460.4,349.8 L460.8,346.2 L461.2,342.8 L461.6,339.8 L462.0,337.1 L462.3,334.8 L462.7,332.7 L463.1,330.9 L463.5,329.4 L463.9,328.2 L464.3,327.2 L464.7,326.5 L465.1,326.1 L465.5,326.0 L465.9,326.0 L466.3,326.2 L466.7,326.4 L467.1,326.7 L467.5,327.1 L467.9,327.6 L468.3,328.2 L468.7,328.9 L469.1,329.6 L469.4,330.5 L469.8,331.4 L470.2,332.5 L470.6,333.6 L471.0,334.8 L471.4,336.1 L471.8,337.6 L472.2,339.1 L472.6,340.7 L473.0,342.4 L473.4,344.2 L473.8,346.2 L474.2,348.2 L474.6,350.3 L475.0,352.5 L475.4,354.9 L475.8,357.3 L476.2,359.9 L476.5,362.6 L476.9,365.3 L477.3,368.2 L477.7,371.2 L478.1,374.3 L478.5,377.5 L478.9,380.8 L479.3,384.2 L479.7,387.7 L480.1,391.3 L480.5,394.9 L480.9,398.6 L481.3,402.4 L481.7,406.2 L482.1,410.0 L482.5,413.8 L482.9,417.5 L483.3,421.2 L483.6,424.7 L484.0,428.1 L484.4,431.3 L484.8,434.1 L485.2,436.7 L485.6,438.9 L486.0,440.7 L486.4,441.9 L486.8,442.7 L487.2,443.0 L487.6,442.5 L488.0,441.1 L488.4,438.7 L488.8,435.7 L489.1,431.9 L489.5,427.7 L489.9,423.1 L490.3,418.3 L490.7,413.4 L491.1,408.4 L491.5,403.5 L491.9,398.7 L492.2,394.0 L492.6,389.5 L493.0,385.2 L493.4,381.1 L493.8,377.2 L494.2,373.5 L494.6,370.1 L495.0,366.9 L495.3,364.0 L495.7,361.3 L496.1,358.9 L496.5,356.7 L496.9,354.7 L497.3,353.0 L497.7,351.5 L498.1,350.3 L498.4,349.2 L498.8,348.4 L499.2,347.9 L499.6,347.5 L500.0,347.4 L500.4,347.5 L500.8,347.7 L501.2,348.1 L501.6,348.6 L502.0,349.3 L502.3,350.1 L502.7,351.0 L503.1,352.1 L503.5,353.4 L503.9,354.8 L504.3,356.3 L504.7,357.9 L505.1,359.7 L505.5,361.6 L505.9,363.7 L506.3,365.8 L506.7,368.0 L507.0,370.3 L507.4,372.7 L507.8,375.2 L508.2,377.7 L508.6,380.2 L509.0,382.7 L509.4,385.2 L509.8,387.6 L510.2,390.0 L510.6,392.2 L511.0,394.3 L511.4,396.2 L511.7,397.9 L512.1,399.3 L512.5,400.5 L512.9,401.3 L513.3,401.8 L513.7,402.0 L514.1,401.8 L514.5,401.3 L514.9,400.4 L515.3,399.2 L515.7,397.8 L516.1,396.0 L516.5,394.0 L516.9,391.8 L517.3,389.3 L517.7,386.8 L518.1,384.1 L518.5,381.3 L518.9,378.4 L519.3,375.5 L519.7,372.6 L520.1,369.7 L520.5,366.7 L520.9,363.8 L521.3,361.0 L521.7,358.1 L522.1,355.4 L522.5,352.7 L522.9,350.0 L523.3,347.5 L523.7,345.0 L524.1,342.6 L524.5,340.3 L524.9,338.1 L525.3,335.9 L525.7,333.9 L526.1,331.9 L526.5,330.0 L526.9,328.3 L527.3,326.6 L527.7,325.0 L528.1,323.5 L528.5,322.1 L528.9,320.8 L529.3,319.6 L529.7,318.5 L530.1,317.4 L530.5,316.5 L530.9,315.6 L531.3,314.9 L531.7,314.2 L532.1,313.6 L532.5,313.1 L532.9,312.7 L533.3,312.4 L533.7,312.2 L534.1,312.0 L534.5,312.0 L534.9,312.1 L535.3,312.4 L535.7,312.9 L536.1,313.6 L536.5,314.6 L536.9,315.7 L537.3,317.1 L537.7,318.6 L538.1,320.4 L538.5,322.5 L538.9,324.7 L539.3,327.2 L539.7,330.0 L540.1,333.0 L540.5,336.3 L540.9,339.9 L541.3,343.8 L541.7,348.0 L542.1,352.5 L542.4,357.4 L542.8,362.7 L543.2,368.3 L543.6,374.4 L544.0,381.0 L544.4,388.1 L544.8,395.7 L545.2,403.9 L545.6,412.7 L546.0,422.3 L546.4,432.5 L546.8,443.5 L547.2,455.3 L547.6,467.8 L548.0,480.7 L548.4,493.9 L548.8,506.4 L549.2,517.1 L549.6,524.6 L550.0,527.3 L550.4,525.9 L550.8,521.8 L551.1,515.7 L551.5,508.3 L551.9,500.1 L552.3,491.7 L552.7,483.6 L553.1,475.9 L553.5,468.9 L553.8,462.5 L554.2,456.8 L554.6,451.9 L555.0,447.8 L555.4,444.4 L555.8,441.8 L556.1,440.0 L556.5,438.9 L556.9,438.5 L557.3,438.9 L557.7,439.9 L558.1,441.7 L558.5,444.3 L558.9,447.6 L559.3,451.8 L559.7,456.8 L560.1,462.7 L560.5,469.7 L560.9,477.8 L561.3,487.1 L561.7,497.9 L562.1,510.3 L562.5,524.6 L562.9,541.3 L563.3,560.7 L563.7,583.6 L564.1,610.4 L564.5,640.6 L564.9,669.5 L565.3,683.0 L565.7,652.9 L566.1,604.3 L566.5,563.4 L566.9,530.8 L567.3,504.3 L567.7,482.2 L568.0,463.3 L568.4,446.9 L568.8,432.5 L569.2,419.7 L569.6,408.3 L570.0,397.9 L570.4,388.5 L570.8,379.9 L571.2,372.1 L571.6,364.9 L572.0,358.3 L572.4,352.2 L572.8,346.6 L573.1,341.5 L573.5,336.7 L573.9,332.3 L574.3,328.3 L574.7,324.6 L575.1,321.3 L575.5,318.2 L575.9,315.5 L576.3,313.0 L576.7,310.7 L577.1,308.8 L577.5,307.0 L577.8,305.5 L578.2,304.3 L578.6,303.3 L579.0,302.5 L579.4,301.9 L579.8,301.6 L580.2,301.5 L580.6,301.6 L581.0,301.9 L581.4,302.3 L581.8,303.0 L582.2,303.9 L582.6,304.9 L583.0,306.2 L583.4,307.6 L583.8,309.2 L584.1,311.1 L584.5,313.1 L584.9,315.4 L585.3,317.9 L585.7,320.6 L586.1,323.5 L586.5,326.7 L586.9,330.2 L587.3,333.8 L587.7,337.8 L588.1,342.0 L588.5,346.4 L588.9,351.2 L589.3,356.2 L589.7,361.5 L590.1,367.2 L590.5,373.1 L590.9,379.3 L591.3,385.7 L591.7,392.4 L592.0,399.2 L592.4,406.2 L592.8,413.1 L593.2,419.9 L593.6,426.3 L594.0,432.1 L594.4,437.1 L594.8,440.9 L595.2,443.4 L595.6,444.2 L596.0,443.7 L596.4,442.3 L596.8,440.0 L597.2,436.9 L597.6,433.2 L598.0,428.9 L598.4,424.3 L598.8,419.5 L599.2,414.4 L599.6,409.3 L600.0,404.3 L600.4,399.3 L600.8,394.4 L601.2,389.6 L601.6,385.0 L602.0,380.6 L602.4,376.4 L602.8,372.3 L603.2,368.5 L603.5,364.9 L603.9,361.5 L604.3,358.4 L604.7,355.4 L605.1,352.6 L605.5,350.1 L605.9,347.7 L606.3,345.6 L606.7,343.6 L607.1,341.8 L607.5,340.3 L607.9,338.9 L608.3,337.7 L608.7,336.7 L609.1,335.9 L609.5,335.2 L609.9,334.8 L610.3,334.5 L610.7,334.4 L611.1,334.4 L611.5,334.5 L611.9,334.7 L612.3,335.0 L612.7,335.3 L613.1,335.7 L613.5,336.2 L613.9,336.7 L614.3,337.3 L614.7,338.0 L615.0,338.7 L615.4,339.5 L615.8,340.3 L616.2,341.3 L616.6,342.2 L617.0,343.2 L617.4,344.3 L617.8,345.4 L618.2,346.5 L618.6,347.7 L619.0,348.9 L619.4,350.1 L619.8,351.4 L620.2,352.6 L620.6,353.9 L621.0,355.1 L621.4,356.4 L621.8,357.6 L622.2,358.8 L622.6,359.9 L623.0,361.0 L623.3,362.1 L623.7,363.0 L624.1,363.9 L624.5,364.8 L624.9,365.5 L625.3,366.1 L625.7,366.6 L626.1,367.1 L626.5,367.4 L626.9,367.5 L627.3,367.6 L627.7,367.4 L628.1,366.9 L628.5,366.0 L628.9,364.7 L629.3,363.2 L629.7,361.3 L630.1,359.2 L630.5,356.9 L630.9,354.5 L631.3,351.8 L631.7,349.1 L632.1,346.3 L632.5,343.4 L632.9,340.5 L633.3,337.5 L633.7,334.6 L634.1,331.7 L634.5,328.9 L634.9,326.1 L635.3,323.3 L635.7,320.7 L636.1,318.1 L636.5,315.6 L636.8,313.2 L637.2,310.9 L637.6,308.7 L638.0,306.6 L638.4,304.6 L638.8,302.7 L639.2,300.9 L639.6,299.2 L640.0,297.6 L640.4,296.2 L640.8,294.8 L641.2,293.6 L641.6,292.4 L642.0,291.4 L642.4,290.5 L642.8,289.6 L643.2,288.9 L643.6,288.4 L644.0,287.9 L644.4,287.5 L644.8,287.2 L645.2,287.1 L645.6,287.0 L646.0,287.0 L646.4,287.1 L646.8,287.3 L647.2,287.5 L647.6,287.8 L648.0,288.1 L648.4,288.5 L648.8,289.0 L649.1,289.5 L649.5,290.1 L649.9,290.7 L650.3,291.4 L650.7,292.2 L651.1,293.0 L651.5,293.9 L651.9,294.8 L652.3,295.8 L652.7,296.9 L653.1,298.0 L653.5,299.1 L653.9,300.3 L654.3,301.6 L654.7,302.9 L655.1,304.2 L655.5,305.6 L655.9,307.0 L656.2,308.5 L656.6,310.0 L657.0,311.5 L657.4,313.1 L657.8,314.7 L658.2,316.3 L658.6,317.9 L659.0,319.5 L659.4,321.1 L659.8,322.7 L660.2,324.3 L660.6,325.8 L661.0,327.4 L661.4,328.9 L661.8,330.3 L662.2,331.7 L662.6,333.0 L663.0,334.3 L663.4,335.4 L663.7,336.5 L664.1,337.5 L664.5,338.3 L664.9,339.1 L665.3,339.7 L665.7,340.2 L666.1,340.5 L666.5,340.7 L666.9,340.8 L667.3,340.8 L667.7,340.7 L668.1,340.7 L668.5,340.6 L668.9,340.5 L669.3,340.4 L669.7,340.2 L670.1,340.0 L670.5,339.8 L670.9,339.6 L671.3,339.4 L671.7,339.2 L672.1,338.9 L672.5,338.7 L672.8,338.4 L673.2,338.1 L673.6,337.8 L674.0,337.6 L674.4,337.3 L674.8,337.0 L675.2,336.6 L675.6,336.3 L676.0,336.0 L676.4,335.6 L676.8,335.3 L677.2,334.9 L677.6,334.5 L678.0,334.1 L678.4,333.6 L678.8,333.2 L679.2,332.8 L679.6,332.3 L680.0,331.8 L680.4,331.4 L680.8,330.9 L681.2,330.4 L681.6,329.9 L682.0,329.4 L682.4,328.9 L682.8,328.4 L683.2,327.9 L683.6,327.5 L683.9,327.0 L684.3,326.5 L684.7,326.1 L685.1,325.6 L685.5,325.2 L685.9,324.8 L686.3,324.5 L686.7,324.2 L687.1,323.9 L687.5,323.6 L687.9,323.4 L688.3,323.2 L688.7,323.1 L689.1,323.0 L689.5,323.0 L689.9,323.1 L690.3,323.2 L690.7,323.5 L691.1,323.8 L691.5,324.2 L691.9,324.8 L692.3,325.4 L692.6,326.2 L693.0,327.0 L693.4,328.0 L693.8,329.0 L694.2,330.2 L694.6,331.4 L695.0,332.7 L695.4,334.1 L695.8,335.6 L696.2,337.2 L696.6,338.9 L697.0,340.6 L697.4,342.5 L697.8,344.4 L698.1,346.3 L698.5,348.4 L698.9,350.5 L699.3,352.6 L699.7,354.8 L700.1,357.0 L700.5,359.2 L700.9,361.4 L701.3,363.6 L701.7,365.8 L702.1,367.9 L702.5,370.0 L702.9,372.0 L703.3,373.9 L703.7,375.6 L704.0,377.2 L704.4,378.7 L704.8,380.0 L705.2,381.0 L705.6,381.9 L706.0,382.5 L706.4,382.9 L706.8,383.0 L707.2,382.8 L707.6,382.1 L708.0,381.0 L708.4,379.4 L708.8,377.6 L709.2,375.3 L709.6,372.8 L710.0,370.1 L710.4,367.2 L710.8,364.1 L711.2,361.0 L711.6,357.8 L712.0,354.6 L712.4,351.3 L712.8,348.1 L713.2,345.0 L713.6,341.9 L714.0,338.9 L714.4,336.0 L714.8,333.2 L715.1,330.5 L715.5,328.0 L715.9,325.6 L716.3,323.3 L716.7,321.1 L717.1,319.1 L717.5,317.2 L717.9,315.4 L718.3,313.8 L718.7,312.3 L719.1,311.0 L719.5,309.8 L719.9,308.7 L720.3,307.8 L720.7,307.1 L721.1,306.4 L721.5,305.9 L721.9,305.6 L722.3,305.4 L722.7,305.3 L723.1,305.4 L723.5,305.6 L723.9,305.9 L724.3,306.3 L724.7,306.9 L725.1,307.7 L725.5,308.5 L725.9,309.5 L726.3,310.6 L726.7,311.9 L727.1,313.3 L727.4,314.9 L727.8,316.5 L728.2,318.4 L728.6,320.4 L729.0,322.5 L729.4,324.8 L729.8,327.3 L730.2,329.9 L730.6,332.7 L731.0,335.7 L731.4,338.9 L731.8,342.2 L732.2,345.7 L732.6,349.4 L733.0,353.3 L733.4,357.4 L733.8,361.7 L734.2,366.3 L734.6,371.0 L735.0,375.9 L735.4,381.1 L735.8,386.4 L736.2,391.9 L736.6,397.6 L736.9,403.4 L737.3,409.3 L737.7,415.3 L738.1,421.1 L738.5,426.9 L738.9,432.4 L739.3,437.5 L739.7,442.0 L740.1,445.8 L740.5,448.6 L740.9,450.4 L741.3,451.0 L741.7,450.4 L742.1,448.7 L742.5,446.0 L742.9,442.4 L743.3,438.1 L743.7,433.1 L744.1,427.8 L744.5,422.2 L744.8,416.4 L745.2,410.5 L745.6,404.7 L746.0,398.9 L746.4,393.2 L746.8,387.7 L747.2,382.3 L747.6,377.1 L748.0,372.0 L748.4,367.2 L748.8,362.5 L749.2,358.0 L749.6,353.7 L750.0,349.6 L750.4,345.7 L750.8,341.9 L751.2,338.3 L751.6,334.9 L752.0,331.6 L752.3,328.5 L752.7,325.5 L753.1,322.7 L753.5,320.1 L753.9,317.5 L754.3,315.1 L754.7,312.9 L755.1,310.7 L755.5,308.7 L755.9,306.8 L756.3,305.1 L756.7,303.4 L757.1,301.9 L757.5,300.5 L757.9,299.2 L758.3,298.0 L758.7,296.9 L759.0,295.9 L759.4,295.1 L759.8,294.3 L760.2,293.6 L760.6,293.1 L761.0,292.6 L761.4,292.3 L761.8,292.0 L762.2,291.9 L762.6,291.8 L763.0,291.8 L763.4,291.9 L763.8,292.0 L764.2,292.2 L764.6,292.5 L765.0,292.8 L765.4,293.1 L765.8,293.6 L766.2,294.0 L766.6,294.5 L767.0,295.1 L767.4,295.8 L767.8,296.4 L768.2,297.2 L768.6,298.0 L769.0,298.8 L769.4,299.7 L769.8,300.7 L770.2,301.7 L770.6,302.8 L771.0,303.9 L771.4,305.0 L771.8,306.3 L772.2,307.5 L772.6,308.9 L773.0,310.2 L773.4,311.6 L773.8,313.1 L774.2,314.6 L774.6,316.2 L775.0,317.8 L775.4,319.4 L775.8,321.1 L776.2,322.8 L776.6,324.5 L777.0,326.3 L777.4,328.1 L777.8,329.9 L778.2,331.7 L778.6,333.6 L779.0,335.4 L779.4,337.3 L779.8,339.1 L780.2,340.9 L780.6,342.8 L781.0,344.5 L781.4,346.3 L781.8,348.0 L782.2,349.6 L782.6,351.2 L783.0,352.7 L783.4,354.1 L783.8,355.4 L784.2,356.6 L784.6,357.7 L785.0,358.7 L785.4,359.5 L785.8,360.2 L786.2,360.8 L786.6,361.2 L787.0,361.4 L787.4,361.5 L787.8,361.5 L788.2,361.3 L788.6,361.2 L789.0,360.9 L789.4,360.6 L789.8,360.1 L790.2,359.7 L790.6,359.1 L791.0,358.5 L791.3,357.8 L791.7,357.1 L792.1,356.3 L792.5,355.5 L792.9,354.6 L793.3,353.7 L793.7,352.7 L794.1,351.7 L794.5,350.7 L794.9,349.6 L795.3,348.5 L795.7,347.4 L796.1,346.2 L796.5,345.1 L796.9,343.9 L797.3,342.7 L797.7,341.5 L798.1,340.4 L798.5,339.2 L798.8,338.0 L799.2,336.8 L799.6,335.6 L800.0,334.4 L800.4,333.3 L800.8,332.1 L801.2,331.0 L801.6,329.8 L802.0,328.7 L802.4,327.6 L802.8,326.5 L803.2,325.5 L803.6,324.5 L804.0,323.4 L804.4,322.5 L804.8,321.5 L805.2,320.6 L805.6,319.6 L805.9,318.8 L806.3,317.9 L806.7,317.1 L807.1,316.3 L807.5,315.5 L807.9,314.7 L808.3,314.0 L808.7,313.3 L809.1,312.7 L809.5,312.1 L809.9,311.5 L810.3,310.9 L810.7,310.4 L811.1,309.9 L811.5,309.4 L811.9,309.0 L812.3,308.5 L812.7,308.2 L813.1,307.8 L813.4,307.5 L813.8,307.2 L814.2,307.0 L814.6,306.8 L815.0,306.6 L815.4,306.5 L815.8,306.3 L816.2,306.3 L816.6,306.2 L817.0,306.2 L817.4,306.2 L817.8,306.3 L818.2,306.3 L818.6,306.4 L819.0,306.6 L819.4,306.7 L819.8,306.9 L820.2,307.1 L820.6,307.3 L821.0,307.6 L821.4,307.9 L821.8,308.2 L822.2,308.6 L822.6,308.9 L823.0,309.3 L823.4,309.8 L823.8,310.2 L824.2,310.7 L824.6,311.2 L824.9,311.8 L825.3,312.3 L825.7,312.9 L826.1,313.5 L826.5,314.2 L826.9,314.8 L827.3,315.5 L827.7,316.2 L828.1,317.0 L828.5,317.7 L828.9,318.5 L829.3,319.3 L829.7,320.1 L830.1,320.9 L830.5,321.8 L830.9,322.7 L831.3,323.6 L831.7,324.5 L832.1,325.4 L832.5,326.4 L832.9,327.3 L833.3,328.3 L833.7,329.3 L834.1,330.3 L834.5,331.3 L834.9,332.3 L835.3,333.3 L835.7,334.3 L836.1,335.3 L836.5,336.4 L836.9,337.4 L837.3,338.4 L837.7,339.4 L838.1,340.4 L838.5,341.4 L838.9,342.4 L839.3,343.3 L839.7,344.3 L840.1,345.2 L840.4,346.1 L840.8,347.0 L841.2,347.8 L841.6,348.7 L842.0,349.5 L842.4,350.2 L842.8,350.9 L843.2,351.6 L843.6,352.2 L844.0,352.8 L844.4,353.3 L844.8,353.8 L845.2,354.3 L845.6,354.6 L846.0,355.0 L846.4,355.2 L846.8,355.4 L847.2,355.6 L847.6,355.7 L848.0,355.7 L848.4,355.7 L848.8,355.7 L849.2,355.6 L849.6,355.6 L849.9,355.5 L850.3,355.4 L850.7,355.3 L851.1,355.2 L851.5,355.1 L851.9,355.0 L852.3,354.9 L852.7,354.7 L853.1,354.6 L853.4,354.5 L853.8,354.3 L854.2,354.2 L854.6,354.1 L855.0,354.0 L855.4,353.9 L855.8,353.8 L856.2,353.7 L856.6,353.6 L856.9,353.5 L857.3,353.5 L857.7,353.4 L858.1,353.4 L858.5,353.4 L858.9,353.4 L859.3,353.5 L859.7,353.6 L860.1,353.8 L860.5,354.0 L860.9,354.2 L861.3,354.5 L861.7,354.8 L862.1,355.2 L862.5,355.6 L862.9,356.1 L863.2,356.6 L863.6,357.1 L864.0,357.7 L864.4,358.3 L864.8,359.0 L865.2,359.7 L865.6,360.5 L866.0,361.3 L866.4,362.1 L866.8,363.0 L867.2,363.9 L867.6,364.9 L868.0,365.9 L868.4,367.0 L868.8,368.1 L869.2,369.2 L869.6,370.4 L870.0,371.6 L870.4,372.9 L870.8,374.1 L871.2,375.5 L871.6,376.8 L871.9,378.2 L872.3,379.7 L872.7,381.1 L873.1,382.6 L873.5,384.2 L873.9,385.8 L874.3,387.4 L874.7,389.0 L875.1,390.7 L875.5,392.4 L875.9,394.2 L876.3,396.0 L876.7,397.9 L877.1,399.8 L877.5,401.7 L877.9,403.7 L878.3,405.8 L878.7,407.8 L879.1,409.9 L879.5,412.0 L879.9,414.1 L880.3,416.2 L880.7,418.2 L881.0,420.2 L881.4,422.2 L881.8,424.1 L882.2,426.0 L882.6,427.9 L883.0,429.7 L883.4,431.6 L883.8,433.4 L884.2,435.3 L884.6,437.1 L885.0,439.0 L885.4,441.0 L885.8,443.0 L886.2,445.0 L886.6,447.0 L887.0,449.0 L887.4,450.9 L887.8,452.9 L888.2,454.8 L888.6,456.7 L889.0,458.5 L889.4,460.3 L889.7,461.9 L890.1,463.5 L890.5,465.0 L890.9,466.4 L891.3,467.7 L891.7,468.8 L892.1,469.8 L892.5,470.7 L892.9,471.3 L893.3,471.8 L893.7,472.1 L894.1,472.2 L894.5,472.1 L894.9,472.0 L895.3,471.6 L895.7,471.2 L896.1,470.7 L896.5,470.0 L896.9,469.2 L897.3,468.4 L897.7,467.4 L898.1,466.4 L898.4,465.2 L898.8,464.0 L899.2,462.8 L899.6,461.4 L900.0,460.0 L900.4,458.6 L900.8,457.2 L901.2,455.7 L901.6,454.1 L902.0,452.6 L902.4,451.0 L902.8,449.5 L903.2,447.9 L903.6,446.4 L904.0,444.8 L904.4,443.3 L904.8,441.8 L905.2,440.3 L905.6,438.8 L906.0,437.3 L906.4,435.9 L906.7,434.5 L907.1,433.1 L907.5,431.8 L907.9,430.5 L908.3,429.3 L908.7,428.1 L909.1,426.9 L909.5,425.7 L909.9,424.7 L910.3,423.6 L910.7,422.6 L911.1,421.7 L911.5,420.8 L911.9,419.9 L912.3,419.1 L912.7,418.3 L913.1,417.6 L913.5,416.9 L913.9,416.3 L914.3,415.7 L914.6,415.2 L915.0,414.7 L915.4,414.3 L915.8,413.9 L916.2,413.6 L916.6,413.3 L917.0,413.1 L917.4,412.9 L917.8,412.8 L918.2,412.7 L918.6,412.7 L919.0,412.7 L919.4,412.8 L919.8,412.8 L920.2,413.0 L920.6,413.1 L921.0,413.3 L921.4,413.5 L921.8,413.8 L922.2,414.1 L922.6,414.4 L923.0,414.8 L923.4,415.2 L923.8,415.7 L924.2,416.2 L924.6,416.8 L925.0,417.4 L925.4,418.0 L925.8,418.7 L926.2,419.5 L926.6,420.3 L927.0,421.1 L927.4,422.0 L927.8,423.0 L928.2,424.0 L928.6,425.1 L929.0,426.3 L929.4,427.6 L929.8,428.9 L930.2,430.3 L930.6,431.8 L931.0,433.3 L931.4,434.9 L931.8,436.5 L932.2,438.2 L932.6,439.9 L933.0,441.7 L933.4,443.4 L933.8,445.2 L934.2,447.0 L934.6,448.9 L935.0,450.8 L935.4,452.7 L935.8,454.7 L936.2,456.7 L936.6,458.8 L937.0,461.0 L937.4,463.2 L937.8,465.4 L938.2,467.7 L938.6,470.1 L939.0,472.5 L939.4,474.9 L939.8,477.4 L940.2,480.0 L940.6,482.6 L941.0,485.2 L941.4,487.9 L941.8,490.7 L942.2,493.4 L942.6,496.0 L943.0,498.7 L943.4,501.4 L943.8,504.0 L944.2,506.7 L944.6,509.5 L945.0,512.3 L945.4,515.2 L945.8,518.2 L946.2,521.3 L946.6,524.5 L947.0,527.7 L947.4,531.1 L947.8,534.6 L948.2,538.2 L948.6,541.7 L949.0,545.1 L949.4,548.2 L949.8,550.8 L950.2,552.9 L950.6,554.2 L951.0,554.6 L951.4,554.2 L951.8,553.1 L952.2,551.3 L952.6,548.9 L953.0,546.1 L953.4,542.9 L953.8,539.5 L954.2,535.8 L954.6,532.1 L955.0,528.4 L955.4,524.5 L955.8,520.7 L956.2,516.9 L956.6,513.2 L957.0,509.5 L957.4,506.0 L957.8,502.5 L958.2,499.1 L958.6,495.8 L959.0,492.6 L959.4,489.5 L959.8,486.6 L960.2,483.8 L960.6,481.2 L961.0,478.7 L961.4,476.3 L961.8,474.0 L962.2,471.7 L962.6,469.4 L963.0,467.2 L963.4,465.0 L963.8,462.8 L964.2,460.5 L964.6,458.2 L964.9,455.8 L965.3,453.4 L965.7,450.9 L966.1,448.3 L966.5,445.7 L966.9,443.1 L967.3,440.5 L967.7,437.9 L968.1,435.3 L968.5,432.8 L968.9,430.4 L969.3,428.0 L969.7,425.6 L970.1,423.3 L970.5,421.0 L970.9,418.6 L971.3,416.4 L971.7,414.1 L972.1,411.9 L972.5,409.8 L972.9,407.6 L973.3,405.6 L973.7,403.5 L974.1,401.6 L974.5,399.6 L974.9,397.8 L975.3,396.0 L975.7,394.2 L976.1,392.5 L976.5,390.9 L976.9,389.3 L977.3,387.7 L977.7,386.3 L978.1,384.9 L978.5,383.5 L978.9,382.2 L979.3,381.0 L979.7,379.7 L980.1,378.5 L980.5,377.4 L980.9,376.3 L981.3,375.2 L981.7,374.1 L982.1,373.1 L982.5,372.0 L982.9,371.1 L983.3,370.1 L983.7,369.2 L984.1,368.2 L984.5,367.3 L984.9,366.4 L985.3,365.6 L985.7,364.7 L986.1,363.9 L986.5,363.1 L986.9,362.3 L987.3,361.5 L987.7,360.8 L988.1,360.0 L988.5,359.3 L988.9,358.5 L989.3,357.8 L989.7,357.1 L990.1,356.4 L990.5,355.8 L990.9,355.1 L991.3,354.5 L991.7,353.8 L992.1,353.2 L992.4,352.6 L992.8,352.0 L993.2,351.5 L993.6,350.9 L994.0,350.4 L994.4,349.8 L994.8,349.3 L995.2,348.8 L995.6,348.3 L996.0,347.8 L996.4,347.3 L996.8,346.8 L997.2,346.4 L997.6,345.9 L998.0,345.5 L998.4,345.1 L998.8,344.6 L999.2,344.2 L999.6,343.8 L1000.0,343.4 L1000.4,343.0 L1000.8,342.7 L1001.2,342.3 L1001.6,341.9 L1002.0,341.6 L1002.4,341.2 L1002.8,340.9 L1003.2,340.6 L1003.6,340.3 L1004.0,340.0 L1004.4,339.6 L1004.8,339.4 L1005.2,339.1 L1005.6,338.8 L1006.0,338.5 L1006.4,338.3 L1006.8,338.0 L1007.2,337.8 L1007.6,337.5 L1008.0,337.3 L1008.4,337.0 L1008.8,336.8 L1009.2,336.6 L1009.6,336.3 L1010.0,336.1 L1010.4,335.9 L1010.8,335.7 L1011.2,335.5 L1011.6,335.3 L1012.0,335.1 L1012.4,334.9 L1012.8,334.7 L1013.2,334.5 L1013.6,334.4 L1014.0,334.2 L1014.4,334.0 L1014.8,333.9 L1015.2,333.7 L1015.6,333.6 L1016.0,333.4 L1016.4,333.3 L1016.8,333.1 L1017.2,333.0 L1017.6,332.9 L1018.0,332.8 L1018.4,332.6 L1018.8,332.5 L1019.2,332.4 L1019.6,332.3 L1020.0,332.2 L1020.3,332.1 L1020.7,332.1 L1021.1,332.0 L1021.5,331.9 L1021.9,331.8 L1022.3,331.7 L1022.7,331.7 L1023.1,331.6 L1023.5,331.5 L1023.9,331.5 L1024.3,331.4 L1024.7,331.3 L1025.1,331.3 L1025.5,331.2 L1025.9,331.2 L1026.3,331.1 L1026.7,331.1 L1027.1,331.0 L1027.5,331.0 L1027.9,330.9 L1028.3,330.9 L1028.7,330.8 L1029.1,330.8 L1029.5,330.7 L1029.9,330.7 L1030.3,330.6 L1030.7,330.6 L1031.1,330.6 L1031.5,330.5 L1031.9,330.5 L1032.3,330.5 L1032.7,330.4 L1033.1,330.4 L1033.5,330.4 L1033.9,330.3 L1034.3,330.3 L1034.7,330.3 L1035.1,330.3 L1035.5,330.2 L1035.9,330.2 L1036.3,330.2 L1036.7,330.2 L1037.1,330.1 L1037.5,330.1 L1037.9,330.1 L1038.3,330.1 L1038.7,330.0 L1039.1,330.0 L1039.5,330.0 L1039.9,330.0 L1040.3,330.0 L1040.7,330.0 L1041.1,329.9 L1041.5,329.9 L1041.9,329.9 L1042.3,329.9 L1042.7,329.9 L1043.1,329.9 L1043.5,329.8 L1043.9,329.8 L1044.3,329.8 L1044.7,329.8 L1045.1,329.8 L1045.5,329.8 L1045.9,329.8 L1046.3,329.8 L1046.7,329.7 L1047.1,329.7 L1047.5,329.7 L1047.8,329.7 L1048.2,329.7 L1048.6,329.7 L1049.0,329.7 L1049.4,329.7 L1049.8,329.7 L1050.2,329.7 L1050.6,329.7 L1051.0,329.7 L1051.4,329.7 L1051.8,329.7 L1052.2,329.6 L1052.6,329.6 L1053.0,329.6 L1053.4,329.6 L1053.8,329.6 L1054.2,329.6 L1054.6,329.6 L1055.0,329.6 L1055.4,329.6 L1055.8,329.6 L1056.2,329.6 L1056.6,329.6 L1057.0,329.6 L1057.4,329.6 L1057.8,329.6 L1058.2,329.6 L1058.6,329.6 L1059.0,329.6 L1059.4,329.6 L1059.8,329.6 L1060.2,329.6 L1060.6,329.6 L1061.0,329.6 L1061.4,329.6" stroke="#ff0000" stroke-width="6.2" stroke-linecap="round"/>
</g>
<g stroke="#262626" stroke-width="1.25" fill="none">
<rect x="108.7" y="29.0" width="952.6" height="752.4"/>
<path d="M214.5,781.4 v-10.2 M214.5,29.0 v10.2"/>
<path d="M320.4,781.4 v-10.2 M320.4,29.0 v10.2"/>
<path d="M426.2,781.4 v-10.2 M426.2,29.0 v10.2"/>
<path d="M532.1,781.4 v-10.2 M532.1,29.0 v10.2"/>
<path d="M637.9,781.4 v-10.2 M637.9,29.0 v10.2"/>
<path d="M743.8,781.4 v-10.2 M743.8,29.0 v10.2"/>
<path d="M849.6,781.4 v-10.2 M849.6,29.0 v10.2"/>
<path d="M955.5,781.4 v-10.2 M955.5,29.0 v10.2"/>
<path d="M108.7,104.2 h10.2 M1061.3,104.2 h-10.2"/>
<path d="M108.7,179.5 h10.2 M1061.3,179.5 h-10.2"/>
<path d="M108.7,254.7 h10.2 M1061.3,254.7 h-10.2"/>
<path d="M108.7,330.0 h10.2 M1061.3,330.0 h-10.2"/>
<path d="M108.7,405.2 h10.2 M1061.3,405.2 h-10.2"/>
<path d="M108.7,480.4 h10.2 M1061.3,480.4 h-10.2"/>
<path d="M108.7,555.7 h10.2 M1061.3,555.7 h-10.2"/>
<path d="M108.7,630.9 h10.2 M1061.3,630.9 h-10.2"/>
<path d="M108.7,706.2 h10.2 M1061.3,706.2 h-10.2"/>
</g>
<g font-family="'Liberation Sans', sans-serif" font-size="30" fill="#262626">
<text transform="translate(108.7,824.4) scale(0.957,1)" text-anchor="middle">0</text>
<text transform="translate(214.5,824.4) scale(0.957,1)" text-anchor="middle">10</text>
<text transform="translate(320.4,824.4) scale(0.957,1)" text-anchor="middle">20</text>
<text transform="translate(426.2,824.4) scale(0.957,1)" text-anchor="middle">30</text>
<text transform="translate(532.1,824.4) scale(0.957,1)" text-anchor="middle">40</text>
<text transform="translate(637.9,824.4) scale(0.957,1)" text-anchor="middle">50</text>
<text transform="translate(743.8,824.4) scale(0.957,1)" text-anchor="middle">60</text>
<text transform="translate(849.6,824.4) scale(0.957,1)" text-anchor="middle">70</text>
<text transform="translate(955.5,824.4) scale(0.957,1)" text-anchor="middle">80</text>
<text transform="translate(1061.3,824.4) scale(0.957,1)" text-anchor="middle">90</text>
<text transform="translate(95.0,41.5) scale(0.957,1)" text-anchor="end">0</text>
<text transform="translate(95.0,116.7) scale(0.957,1)" text-anchor="end">-5</text>
<text transform="translate(95.0,191.9) scale(0.957,1)" text-anchor="end">-10</text>
<text transform="translate(95.0,267.2) scale(0.957,1)" text-anchor="end">-15</text>
<text transform="translate(95.0,342.4) scale(0.957,1)" text-anchor="end">-20</text>
<text transform="translate(95.0,417.6) scale(0.957,1)" text-anchor="end">-25</text>
<text transform="translate(95.0,492.9) scale(0.957,1)" text-anchor="end">-30</text>
<text transform="translate(95.0,568.1) scale(0.957,1)" text-anchor="end">-35</text>
<text transform="translate(95.0,643.4) scale(0.957,1)" text-anchor="end">-40</text>
<text transform="translate(95.0,718.6) scale(0.957,1)" text-anchor="end">-45</text>
<text transform="translate(95.0,793.9) scale(0.957,1)" text-anchor="end">-50</text>
</g>
<g font-family="'Liberation Sans', sans-serif" fill="#262626">
<text transform="translate(522,870.5) scale(1,1)" font-size="34.8">Angle(</text>
<circle cx="633" cy="852.3" r="4.4" fill="none" stroke="#262626" stroke-width="1.6"/>
<text transform="translate(643.8,870.5) scale(1,1)" font-size="34.8">)</text>
<text transform="translate(34.7,404.8) rotate(-90) scale(1,1)" text-anchor="middle" font-size="34.9">Pattern(dB)</text>
</g>
<rect x="823.5" y="29.0" width="237.8" height="153.3" fill="#ffffff" stroke="#262626" stroke-width="1.6"/>
<g fill="none">
<path d="M840.5,51 H927.6" stroke="#000000" stroke-width="4.2" stroke-dasharray="17.5 17.6"/>
<path d="M840.5,87.4 H927.6" stroke="#0000ff" stroke-width="4.2" stroke-dasharray="17.5 5.3 6.8 5.7"/>
<path d="M840.5,123.6 H927.6" stroke="#77ac30" stroke-width="4.2" stroke-dasharray="4.3 5.4"/>
<path d="M840.5,160.3 H927.6" stroke="#ff0000" stroke-width="6.2"/>
</g>
<g font-family="'Liberation Serif', serif" font-size="29.4" fill="#000000">
<text x="935" y="62.2">GA</text>
<text x="935" y="98.6">WOA</text>
<text x="935" y="134.8">PSO</text>
<text x="935" y="171.5">GEWOA</text>
</g>
</svg>
</body></html>
